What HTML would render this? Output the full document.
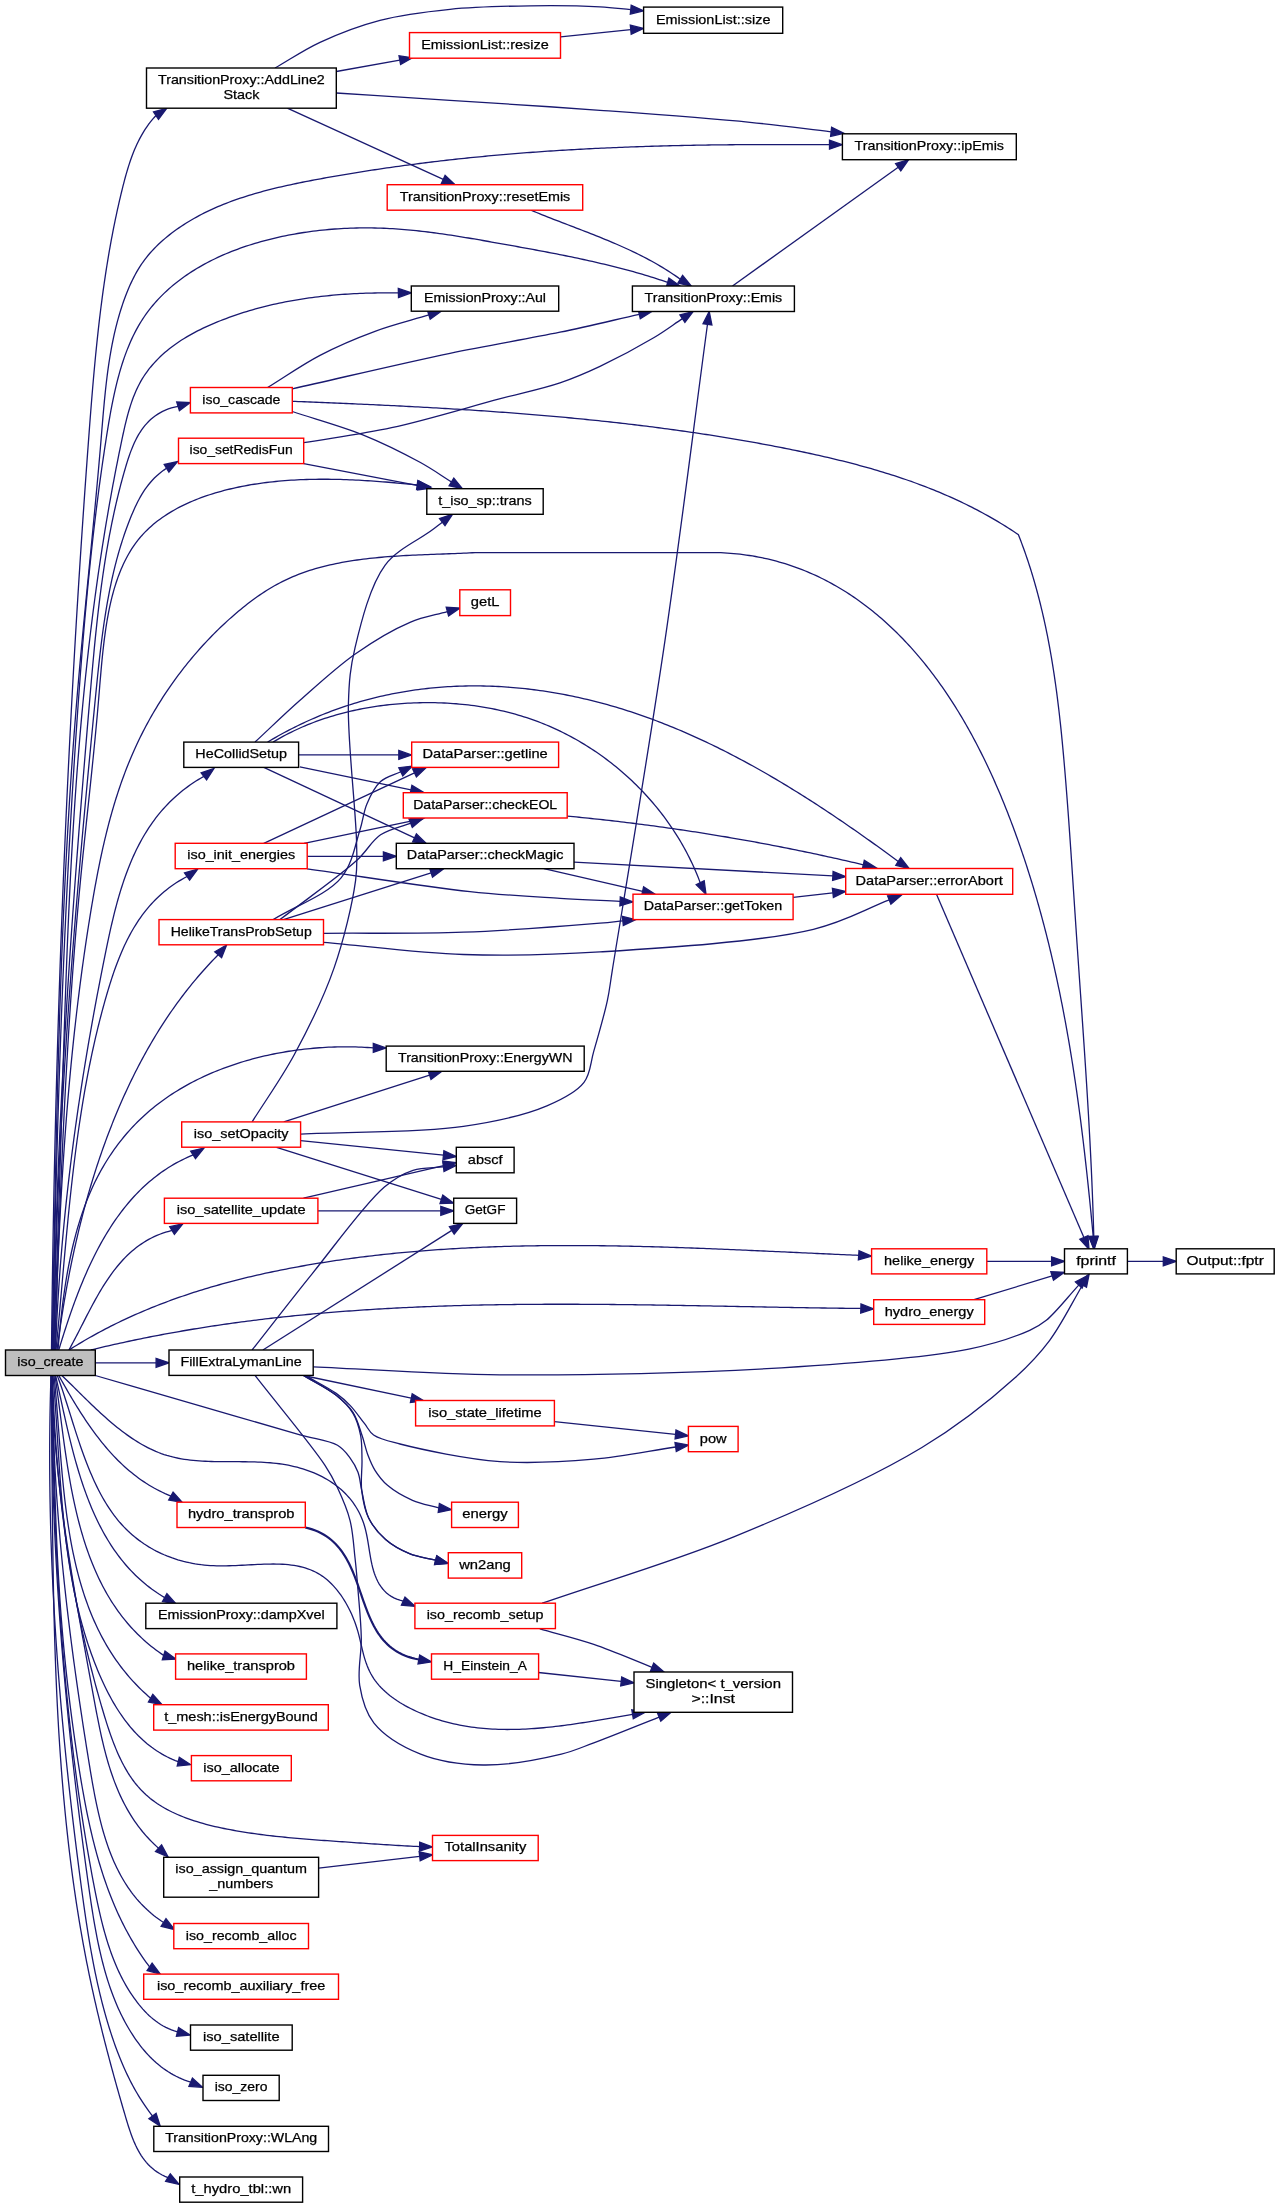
<!DOCTYPE html><html><head><meta charset="utf-8"><style>html,body{margin:0;padding:0;background:#fff;}svg{display:block;will-change:transform;}</style></head><body>
<svg width="1280" height="2208" viewBox="0 0 1280 2208">
<rect width="1280" height="2208" fill="#fff"/>
<g transform="translate(0,0.3)">
<g fill="none" stroke="#191970">
<path d="M51.50,1349.70L51.53,1346.69L51.57,1343.68L51.60,1340.67L51.63,1337.67L51.67,1334.66L51.70,1331.65L51.74,1328.64L51.78,1325.63L51.81,1322.63L51.85,1319.62L51.89,1316.61L51.93,1313.60L51.96,1310.60L52.00,1307.59L52.04,1304.58L52.08,1301.58L52.12,1298.57L52.17,1295.56L52.21,1292.56L52.25,1289.55L52.29,1286.55L52.34,1283.54L52.38,1280.54L52.43,1277.53L52.47,1274.53L52.52,1271.52L52.56,1268.52L52.61,1265.51L52.66,1262.51L52.70,1259.50L52.75,1256.50L52.80,1253.50L52.85,1250.49L52.90,1247.49L52.95,1244.48L53.00,1241.48L53.05,1238.48L53.11,1235.47L53.16,1232.47L53.21,1229.47L53.27,1226.47L53.32,1223.46L53.37,1220.46L53.43,1217.46L53.49,1214.46L53.54,1211.46L53.60,1208.45L53.66,1205.45L53.71,1202.45L53.77,1199.45L53.83,1196.45L53.89,1193.45L53.95,1190.44L54.01,1187.44L54.07,1184.44L54.14,1181.44L54.20,1178.44L54.26,1175.44L54.33,1172.44L54.39,1169.44L54.45,1166.44L54.52,1163.44L54.59,1160.44L54.65,1157.44L54.72,1154.44L54.79,1151.44L54.86,1148.44L54.92,1145.44L54.99,1142.44L55.06,1139.44L55.13,1136.45L55.20,1133.45L55.28,1130.45L55.35,1127.45L55.42,1124.45L55.49,1121.45L55.57,1118.45L55.64,1115.46L55.72,1112.46L55.79,1109.46L55.87,1106.46L55.95,1103.46L56.02,1100.47L56.10,1097.47L56.18,1094.47L56.26,1091.47L56.34,1088.47L56.42,1085.48L56.50,1082.48L56.58,1079.48L56.66,1076.49L56.74,1073.49L56.83,1070.49L56.91,1067.50L56.99,1064.50L57.08,1061.50L57.17,1058.50L57.25,1055.51L57.34,1052.51L57.42,1049.52L57.51,1046.52L57.60,1043.52L57.69,1040.53L57.78,1037.53L57.87,1034.53L57.96,1031.54L58.05,1028.54L58.14,1025.55L58.24,1022.55L58.33,1019.56L58.42,1016.56L58.52,1013.56L58.61,1010.57L58.71,1007.57L58.80,1004.58L58.90,1001.58L59.00,998.59L59.10,995.59L59.19,992.60L59.29,989.60L59.39,986.61L59.49,983.61L59.59,980.62L59.70,977.62L59.80,974.63L59.90,971.63L60.00,968.64L60.11,965.64L60.21,962.65L60.32,959.65L60.42,956.66L60.53,953.66L60.64,950.67L60.75,947.68L60.85,944.68L60.96,941.69L61.07,938.69L61.18,935.70L61.29,932.70L61.40,929.71L61.52,926.71L61.63,923.72L61.74,920.73L61.86,917.73L61.97,914.74L62.09,911.74L62.20,908.75L62.32,905.76L62.44,902.76L62.55,899.77L62.67,896.77L62.79,893.78L62.91,890.79L63.03,887.79L63.15,884.80L63.27,881.80L63.39,878.81L63.52,875.82L63.64,872.82L63.76,869.83L63.89,866.84L64.01,863.84L64.14,860.85L64.27,857.85L64.39,854.86L64.52,851.87L64.65,848.87L64.78,845.88L64.91,842.88L65.04,839.89L65.17,836.90L65.30,833.90L65.44,830.91L65.57,827.92L65.70,824.92L65.84,821.93L65.97,818.93L66.11,815.94L66.24,812.95L66.38,809.95L66.52,806.96L66.66,803.97L66.79,800.97L66.93,797.98L67.07,794.98L67.22,791.99L67.36,789.00L67.50,786.00L67.64,783.01L67.79,780.01L67.93,777.02L68.07,774.03L68.22,771.03L68.37,768.04L68.51,765.04L68.66,762.05L68.81,759.05L68.96,756.06L69.11,753.07L69.26,750.07L69.41,747.08L69.56,744.08L69.71,741.09L69.86,738.09L70.02,735.10L70.17,732.11L70.33,729.11L70.48,726.12L70.64,723.12L70.79,720.13L70.95,717.13L71.11,714.14L71.27,711.14L71.43,708.15L71.59,705.15L71.75,702.16L71.91,699.16L72.07,696.17L72.24,693.17L72.40,690.18L72.56,687.18L72.73,684.19L72.90,681.19L73.06,678.20L73.23,675.20L73.40,672.21L73.56,669.21L73.73,666.22L73.90,663.22L74.07,660.22L74.25,657.23L74.42,654.23L74.59,651.24L74.76,648.24L74.94,645.24L75.11,642.25L75.29,639.25L75.46,636.26L75.64,633.26L75.82,630.26L76.00,627.27L76.17,624.27L76.35,621.27L76.53,618.28L76.72,615.28L76.90,612.28L77.08,609.29L77.26,606.29L77.45,603.29L77.63,600.29L77.82,597.30L78.00,594.30L78.19,591.30L78.38,588.30L78.56,585.31L78.75,582.31L78.94,579.31L79.13,576.31L79.32,573.31L79.52,570.32L79.71,567.32L79.90,564.32L80.09,561.32L80.29,558.32L80.48,555.32L80.68,552.33L80.88,549.33L81.07,546.33L81.27,543.33L81.47,540.33L81.67,537.33L81.87,534.33L82.07,531.33L82.27,528.33L82.48,525.33L82.68,522.33L82.88,519.33L83.09,516.33L83.29,513.33L83.50,510.33L83.71,507.33L83.91,504.33L84.12,501.33L84.33,498.33L84.54,495.33L84.75,492.33L84.96,489.33L85.17,486.33L85.39,483.32L85.60,480.32L85.81,477.32L86.03,474.32L86.24,471.32L86.46,468.32L86.68,465.31L86.90,462.31L87.11,459.31L87.33,456.31L87.55,453.30L87.77,450.30L88.00,447.30L88.22,444.29L88.44,441.29L88.67,438.29L88.89,435.28L89.12,432.28L89.34,429.28L89.57,426.27L89.80,423.27L90.03,420.27L90.26,417.26L90.50,414.26L90.73,411.26L90.97,408.25L91.21,405.25L91.45,402.25L91.69,399.24L91.94,396.24L92.19,393.24L92.44,390.24L92.69,387.24L92.95,384.24L93.21,381.24L93.47,378.24L93.74,375.24L94.01,372.24L94.28,369.24L94.56,366.24L94.84,363.25L95.12,360.25L95.41,357.25L95.70,354.26L96.00,351.27L96.30,348.27L96.60,345.28L96.91,342.29L97.23,339.30L97.55,336.31L97.87,333.32L98.20,330.33L98.53,327.35L98.87,324.36L99.22,321.38L99.57,318.40L99.92,315.41L100.28,312.43L100.65,309.45L101.03,306.48L101.41,303.50L101.79,300.52L102.18,297.55L102.58,294.58L102.99,291.61L103.40,288.64L103.82,285.67L104.24,282.70L104.68,279.74L105.12,276.77L105.56,273.81L106.02,270.85L106.48,267.89L106.95,264.94L107.43,261.98L107.91,259.03L108.41,256.08L108.91,253.13L109.42,250.18L109.94,247.23L110.46,244.29L111.00,241.35L111.54,238.41L112.10,235.47L112.66,232.54L113.23,229.60L113.81,226.67L114.40,223.74L115.00,220.82L115.61,217.89L116.23,214.97L116.85,212.05L117.49,209.13L118.14,206.22L118.80,203.31L119.47,200.40L120.15,197.49L120.84,194.58L121.54,191.68L122.25,188.78L122.97,185.88L123.71,182.99L124.47,180.11L125.24,177.23L126.04,174.36L126.85,171.51L127.70,168.67L128.58,165.84L129.48,163.04L130.42,160.25L131.40,157.48L132.42,154.73L133.47,152.01L134.57,149.31L135.72,146.65L136.92,144.01L138.16,141.40L139.46,138.82L140.82,136.28L142.24,133.78L143.71,131.31L145.25,128.88L146.86,126.50L148.53,124.15L150.27,121.86L152.09,119.60L153.99,117.40L155.97,115.26" stroke-width="1.30"/>
<path d="M52.00,1349.70L52.06,1346.71L52.12,1343.72L52.19,1340.72L52.25,1337.73L52.31,1334.74L52.37,1331.74L52.43,1328.75L52.49,1325.75L52.55,1322.76L52.61,1319.76L52.67,1316.77L52.73,1313.77L52.79,1310.78L52.85,1307.78L52.91,1304.78L52.97,1301.79L53.03,1298.79L53.09,1295.79L53.14,1292.79L53.20,1289.80L53.26,1286.80L53.32,1283.80L53.38,1280.80L53.44,1277.80L53.50,1274.80L53.56,1271.80L53.62,1268.80L53.67,1265.80L53.73,1262.80L53.79,1259.80L53.85,1256.80L53.91,1253.80L53.97,1250.80L54.03,1247.80L54.09,1244.80L54.15,1241.79L54.21,1238.79L54.26,1235.79L54.32,1232.79L54.38,1229.79L54.44,1226.78L54.50,1223.78L54.56,1220.78L54.62,1217.77L54.69,1214.77L54.75,1211.77L54.81,1208.76L54.87,1205.76L54.93,1202.75L54.99,1199.75L55.05,1196.74L55.12,1193.74L55.18,1190.73L55.24,1187.73L55.30,1184.72L55.37,1181.72L55.43,1178.71L55.50,1175.71L55.56,1172.70L55.63,1169.70L55.69,1166.69L55.76,1163.68L55.82,1160.68L55.89,1157.67L55.95,1154.66L56.02,1151.66L56.09,1148.65L56.16,1145.64L56.23,1142.64L56.29,1139.63L56.36,1136.62L56.43,1133.62L56.50,1130.61L56.57,1127.60L56.65,1124.59L56.72,1121.59L56.79,1118.58L56.86,1115.57L56.94,1112.56L57.01,1109.56L57.08,1106.55L57.16,1103.54L57.24,1100.53L57.31,1097.53L57.39,1094.52L57.47,1091.51L57.54,1088.50L57.62,1085.49L57.70,1082.49L57.78,1079.48L57.86,1076.47L57.94,1073.46L58.03,1070.45L58.11,1067.45L58.19,1064.44L58.28,1061.43L58.36,1058.42L58.45,1055.41L58.53,1052.41L58.62,1049.40L58.71,1046.39L58.80,1043.38L58.89,1040.37L58.98,1037.37L59.07,1034.36L59.16,1031.35L59.25,1028.34L59.35,1025.33L59.44,1022.33L59.54,1019.32L59.63,1016.31L59.73,1013.30L59.83,1010.30L59.93,1007.29L60.03,1004.28L60.13,1001.27L60.23,998.27L60.33,995.26L60.44,992.25L60.54,989.25L60.65,986.24L60.75,983.23L60.86,980.23L60.97,977.22L61.08,974.21L61.19,971.21L61.30,968.20L61.42,965.19L61.53,962.19L61.64,959.18L61.76,956.18L61.88,953.17L62.00,950.16L62.11,947.16L62.23,944.15L62.36,941.15L62.48,938.14L62.60,935.14L62.73,932.13L62.85,929.13L62.98,926.13L63.11,923.12L63.24,920.12L63.37,917.11L63.50,914.11L63.64,911.11L63.77,908.10L63.91,905.10L64.05,902.10L64.18,899.10L64.32,896.09L64.47,893.09L64.61,890.09L64.75,887.09L64.90,884.09L65.04,881.08L65.19,878.08L65.34,875.08L65.49,872.08L65.64,869.08L65.80,866.08L65.95,863.08L66.11,860.08L66.26,857.08L66.42,854.08L66.58,851.08L66.75,848.08L66.91,845.09L67.07,842.09L67.24,839.09L67.41,836.09L67.58,833.09L67.75,830.10L67.92,827.10L68.10,824.10L68.27,821.11L68.45,818.11L68.63,815.12L68.81,812.12L68.99,809.13L69.17,806.13L69.36,803.14L69.54,800.14L69.73,797.15L69.92,794.16L70.11,791.16L70.31,788.17L70.50,785.18L70.70,782.19L70.90,779.19L71.10,776.20L71.30,773.21L71.50,770.22L71.71,767.23L71.92,764.24L72.12,761.25L72.33,758.26L72.55,755.27L72.76,752.28L72.98,749.29L73.19,746.31L73.41,743.32L73.64,740.33L73.86,737.35L74.08,734.36L74.31,731.37L74.54,728.39L74.77,725.40L75.00,722.42L75.24,719.43L75.47,716.45L75.71,713.47L75.95,710.48L76.19,707.50L76.44,704.52L76.68,701.54L76.93,698.56L77.18,695.58L77.43,692.60L77.69,689.62L77.94,686.64L78.20,683.66L78.46,680.68L78.72,677.70L78.98,674.72L79.25,671.74L79.51,668.76L79.78,665.79L80.05,662.81L80.32,659.83L80.59,656.85L80.86,653.88L81.14,650.90L81.41,647.92L81.69,644.94L81.97,641.97L82.25,638.99L82.53,636.01L82.81,633.03L83.09,630.06L83.37,627.08L83.66,624.10L83.94,621.12L84.23,618.14L84.51,615.16L84.80,612.19L85.09,609.21L85.38,606.23L85.66,603.25L85.95,600.27L86.24,597.29L86.53,594.30L86.83,591.32L87.12,588.34L87.41,585.36L87.70,582.38L87.99,579.39L88.28,576.41L88.58,573.42L88.87,570.44L89.16,567.45L89.45,564.46L89.75,561.48L90.04,558.49L90.33,555.50L90.62,552.51L90.92,549.52L91.21,546.53L91.50,543.54L91.79,540.54L92.08,537.55L92.37,534.56L92.66,531.56L92.95,528.56L93.24,525.57L93.53,522.57L93.81,519.57L94.10,516.57L94.39,513.56L94.67,510.56L94.96,507.56L95.24,504.55L95.52,501.55L95.80,498.54L96.09,495.53L96.36,492.52L96.64,489.51L96.92,486.49L97.20,483.48L97.47,480.46L97.75,477.45L98.02,474.43L98.29,471.41L98.56,468.39L98.83,465.36L99.09,462.34L99.36,459.31L99.62,456.29L99.89,453.26L100.15,450.23L100.40,447.19L100.66,444.16L100.92,441.13L101.17,438.09L101.42,435.05L101.67,432.01L101.92,428.97L102.18,425.93L102.43,422.88L102.69,419.84L102.94,416.80L103.21,413.76L103.47,410.72L103.75,407.68L104.03,404.64L104.31,401.60L104.60,398.57L104.91,395.54L105.22,392.51L105.54,389.48L105.87,386.46L106.21,383.44L106.56,380.42L106.93,377.41L107.31,374.40L107.71,371.40L108.12,368.40L108.54,365.41L108.99,362.42L109.45,359.44L109.92,356.47L110.42,353.50L110.94,350.54L111.47,347.59L112.03,344.64L112.61,341.70L113.21,338.77L113.84,335.85L114.49,332.93L115.16,330.03L115.86,327.13L116.59,324.25L117.34,321.37L118.12,318.50L118.93,315.65L119.77,312.80L120.64,309.97L121.54,307.15L122.47,304.33L123.43,301.53L124.43,298.75L125.46,295.97L126.53,293.21L127.63,290.46L128.77,287.73L129.95,285.02L131.18,282.34L132.45,279.67L133.77,277.04L135.14,274.43L136.56,271.86L138.04,269.32L139.58,266.83L141.18,264.37L142.84,261.95L144.56,259.58L146.35,257.26L148.20,254.98L150.10,252.75L152.06,250.56L154.07,248.41L156.14,246.31L158.25,244.25L160.40,242.23L162.60,240.26L164.83,238.32L167.10,236.43L169.41,234.58L171.75,232.77L174.11,231.00L176.50,229.26L178.92,227.57L181.36,225.92L183.83,224.30L186.32,222.72L188.83,221.18L191.36,219.67L193.92,218.19L196.50,216.76L199.10,215.35L201.72,213.98L204.35,212.64L207.01,211.33L209.69,210.06L212.39,208.81L215.10,207.60L217.83,206.41L220.58,205.26L223.34,204.13L226.12,203.03L228.92,201.95L231.73,200.90L234.55,199.88L237.39,198.88L240.24,197.91L243.11,196.96L245.99,196.03L248.87,195.13L251.78,194.25L254.69,193.39L257.61,192.54L260.54,191.72L263.48,190.92L266.43,190.14L269.39,189.37L272.36,188.63L275.33,187.90L278.31,187.18L281.30,186.48L284.29,185.80L287.29,185.13L290.29,184.47L293.30,183.83L296.31,183.19L299.33,182.57L302.34,181.96L305.36,181.37L308.39,180.78L311.41,180.20L314.43,179.62L317.46,179.06L320.48,178.50L323.51,177.95L326.53,177.41L329.55,176.87L332.57,176.34L335.59,175.81L338.61,175.29L341.62,174.77L344.64,174.26L347.65,173.76L350.67,173.26L353.68,172.76L356.69,172.27L359.70,171.79L362.70,171.31L365.71,170.84L368.72,170.37L371.72,169.91L374.73,169.45L377.73,169.00L380.73,168.55L383.73,168.11L386.73,167.67L389.73,167.24L392.73,166.81L395.72,166.39L398.72,165.98L401.71,165.56L404.71,165.16L407.70,164.76L410.69,164.36L413.68,163.97L416.67,163.58L419.66,163.20L422.65,162.82L425.64,162.45L428.63,162.08L431.62,161.71L434.60,161.35L437.59,161.00L440.57,160.65L443.56,160.31L446.54,159.97L449.52,159.63L452.50,159.30L455.49,158.97L458.47,158.65L461.45,158.33L464.43,158.02L467.41,157.71L470.39,157.40L473.36,157.10L476.34,156.81L479.32,156.51L482.30,156.23L485.27,155.94L488.25,155.66L491.22,155.39L494.20,155.12L497.18,154.85L500.15,154.59L503.13,154.33L506.10,154.07L509.07,153.82L512.05,153.58L515.02,153.33L517.99,153.09L520.97,152.86L523.94,152.63L526.91,152.40L529.89,152.18L532.86,151.96L535.83,151.74L538.80,151.53L541.78,151.32L544.75,151.11L547.72,150.91L550.69,150.71L553.66,150.52L556.64,150.33L559.61,150.14L562.58,149.96L565.55,149.78L568.53,149.60L571.50,149.43L574.47,149.26L577.44,149.09L580.42,148.93L583.39,148.77L586.36,148.61L589.34,148.46L592.31,148.31L595.29,148.16L598.26,148.02L601.23,147.88L604.21,147.74L607.18,147.61L610.16,147.48L613.14,147.35L616.11,147.23L619.09,147.10L622.07,146.99L625.04,146.87L628.02,146.76L631.00,146.65L633.98,146.54L636.96,146.43L639.94,146.33L642.92,146.23L645.90,146.14L648.88,146.04L651.86,145.95L654.85,145.87L657.83,145.78L660.81,145.70L663.80,145.62L666.79,145.54L669.77,145.46L672.76,145.39L675.75,145.32L678.73,145.25L681.72,145.19L684.71,145.13L687.70,145.07L690.70,145.01L693.69,144.95L696.68,144.90L699.67,144.85L702.67,144.80L705.67,144.75L708.66,144.71L711.66,144.67L714.66,144.63L717.66,144.59L720.66,144.55L723.66,144.52L726.66,144.49L729.67,144.46L732.67,144.43L735.68,144.40L738.69,144.38L741.69,144.36L744.70,144.34L747.71,144.32L750.73,144.30L753.74,144.29L756.75,144.27L759.77,144.26L762.78,144.25L765.80,144.24L768.82,144.24L771.84,144.23L774.86,144.23L777.89,144.23L780.91,144.23L783.94,144.23L786.96,144.23L789.99,144.24L793.02,144.24L796.05,144.25L799.09,144.26L802.12,144.27L805.16,144.28L808.19,144.29L811.23,144.31L814.27,144.32L817.32,144.34L820.36,144.36L823.41,144.38L826.45,144.40L829.50,144.42" stroke-width="1.30"/>
<path d="M52.50,1349.70L52.55,1346.71L52.61,1343.72L52.66,1340.73L52.72,1337.74L52.77,1334.75L52.83,1331.76L52.88,1328.77L52.94,1325.78L52.99,1322.79L53.05,1319.80L53.11,1316.80L53.17,1313.81L53.22,1310.82L53.28,1307.82L53.34,1304.83L53.40,1301.83L53.46,1298.84L53.52,1295.85L53.58,1292.85L53.64,1289.85L53.70,1286.86L53.77,1283.86L53.83,1280.87L53.89,1277.87L53.95,1274.87L54.02,1271.88L54.08,1268.88L54.15,1265.88L54.21,1262.88L54.28,1259.88L54.34,1256.88L54.41,1253.89L54.48,1250.89L54.54,1247.89L54.61,1244.89L54.68,1241.89L54.75,1238.89L54.82,1235.89L54.89,1232.89L54.96,1229.88L55.03,1226.88L55.10,1223.88L55.17,1220.88L55.24,1217.88L55.32,1214.88L55.39,1211.87L55.46,1208.87L55.54,1205.87L55.61,1202.87L55.69,1199.86L55.76,1196.86L55.84,1193.86L55.92,1190.85L55.99,1187.85L56.07,1184.85L56.15,1181.84L56.23,1178.84L56.31,1175.83L56.39,1172.83L56.47,1169.82L56.55,1166.82L56.64,1163.81L56.72,1160.81L56.80,1157.80L56.88,1154.80L56.97,1151.79L57.05,1148.79L57.14,1145.78L57.23,1142.77L57.31,1139.77L57.40,1136.76L57.49,1133.76L57.58,1130.75L57.67,1127.74L57.76,1124.74L57.85,1121.73L57.94,1118.72L58.03,1115.72L58.12,1112.71L58.22,1109.70L58.31,1106.70L58.40,1103.69L58.50,1100.68L58.59,1097.68L58.69,1094.67L58.79,1091.66L58.88,1088.65L58.98,1085.65L59.08,1082.64L59.18,1079.63L59.28,1076.63L59.38,1073.62L59.48,1070.61L59.59,1067.60L59.69,1064.60L59.79,1061.59L59.90,1058.58L60.00,1055.57L60.11,1052.57L60.22,1049.56L60.32,1046.55L60.43,1043.55L60.54,1040.54L60.65,1037.53L60.76,1034.52L60.87,1031.52L60.98,1028.51L61.09,1025.50L61.21,1022.50L61.32,1019.49L61.44,1016.48L61.55,1013.48L61.67,1010.47L61.78,1007.46L61.90,1004.46L62.02,1001.45L62.14,998.44L62.26,995.44L62.38,992.43L62.50,989.43L62.62,986.42L62.75,983.41L62.87,980.41L62.99,977.40L63.12,974.40L63.25,971.39L63.37,968.39L63.50,965.38L63.63,962.38L63.76,959.37L63.89,956.37L64.02,953.36L64.15,950.36L64.28,947.35L64.42,944.35L64.55,941.35L64.69,938.34L64.82,935.34L64.96,932.34L65.10,929.33L65.24,926.33L65.38,923.33L65.52,920.33L65.66,917.32L65.80,914.32L65.94,911.32L66.09,908.32L66.23,905.32L66.38,902.31L66.52,899.31L66.67,896.31L66.82,893.31L66.97,890.31L67.12,887.31L67.27,884.31L67.42,881.31L67.57,878.31L67.73,875.31L67.88,872.32L68.04,869.32L68.19,866.32L68.35,863.32L68.51,860.32L68.67,857.33L68.83,854.33L68.99,851.33L69.15,848.34L69.31,845.34L69.48,842.34L69.64,839.35L69.81,836.35L69.97,833.36L70.14,830.36L70.31,827.37L70.48,824.38L70.65,821.38L70.82,818.39L70.99,815.40L71.17,812.40L71.34,809.41L71.52,806.42L71.69,803.43L71.87,800.44L72.05,797.45L72.23,794.46L72.41,791.47L72.59,788.48L72.77,785.49L72.96,782.50L73.14,779.51L73.33,776.52L73.51,773.53L73.70,770.55L73.89,767.56L74.08,764.57L74.27,761.59L74.46,758.60L74.65,755.62L74.85,752.63L75.04,749.65L75.24,746.67L75.44,743.68L75.63,740.70L75.83,737.72L76.03,734.73L76.23,731.75L76.44,728.77L76.64,725.79L76.84,722.81L77.05,719.83L77.26,716.85L77.47,713.87L77.67,710.90L77.88,707.92L78.10,704.94L78.31,701.96L78.52,698.99L78.74,696.01L78.95,693.04L79.17,690.06L79.39,687.09L79.61,684.11L79.83,681.14L80.05,678.17L80.27,675.19L80.50,672.22L80.72,669.25L80.95,666.28L81.18,663.30L81.41,660.33L81.65,657.36L81.88,654.39L82.12,651.42L82.36,648.44L82.60,645.47L82.84,642.50L83.09,639.53L83.33,636.55L83.58,633.58L83.83,630.61L84.08,627.63L84.34,624.66L84.60,621.68L84.85,618.71L85.12,615.73L85.38,612.76L85.65,609.78L85.92,606.81L86.19,603.83L86.46,600.85L86.74,597.87L87.02,594.89L87.30,591.91L87.58,588.93L87.87,585.95L88.16,582.97L88.45,579.99L88.75,577.00L89.05,574.02L89.35,571.03L89.65,568.05L89.96,565.06L90.27,562.07L90.59,559.08L90.90,556.09L91.22,553.10L91.55,550.10L91.87,547.11L92.20,544.11L92.54,541.12L92.87,538.12L93.21,535.12L93.56,532.12L93.91,529.11L94.26,526.11L94.61,523.10L94.97,520.10L95.33,517.09L95.70,514.08L96.07,511.07L96.44,508.05L96.82,505.04L97.20,502.02L97.59,499.00L97.98,495.98L98.37,492.96L98.77,489.94L99.17,486.91L99.58,483.88L99.99,480.85L100.40,477.82L100.82,474.79L101.25,471.75L101.68,468.71L102.11,465.67L102.55,462.63L102.99,459.58L103.43,456.54L103.89,453.49L104.34,450.44L104.80,447.38L105.27,444.33L105.74,441.27L106.21,438.21L106.69,435.14L107.18,432.08L107.67,429.01L108.18,425.95L108.69,422.88L109.21,419.82L109.74,416.76L110.28,413.71L110.84,410.66L111.41,407.62L111.99,404.58L112.60,401.55L113.21,398.53L113.85,395.52L114.50,392.51L115.18,389.52L115.87,386.54L116.59,383.58L117.33,380.63L118.09,377.69L118.88,374.77L119.69,371.86L120.53,368.97L121.40,366.10L122.29,363.25L123.22,360.42L124.17,357.61L125.16,354.82L126.18,352.05L127.23,349.31L128.32,346.59L129.44,343.90L130.60,341.23L131.79,338.59L133.03,335.98L134.30,333.40L135.61,330.85L136.97,328.32L138.36,325.83L139.80,323.37L141.29,320.95L142.81,318.56L144.39,316.20L146.01,313.88L147.67,311.59L149.38,309.34L151.13,307.12L152.93,304.94L154.76,302.79L156.64,300.68L158.56,298.60L160.52,296.55L162.52,294.54L164.55,292.56L166.63,290.61L168.74,288.70L170.89,286.82L173.07,284.97L175.29,283.16L177.55,281.37L179.83,279.62L182.16,277.91L184.51,276.22L186.90,274.57L189.31,272.94L191.76,271.35L194.24,269.79L196.74,268.26L199.28,266.77L201.84,265.30L204.43,263.86L207.05,262.46L209.69,261.08L212.36,259.74L215.05,258.43L217.76,257.14L220.50,255.89L223.26,254.66L226.04,253.47L228.85,252.30L231.67,251.16L234.51,250.06L237.38,248.98L240.26,247.93L243.15,246.90L246.07,245.91L249.00,244.95L251.95,244.01L254.91,243.10L257.88,242.22L260.87,241.36L263.88,240.54L266.89,239.74L269.92,238.96L272.95,238.22L276.00,237.50L279.05,236.81L282.12,236.14L285.19,235.50L288.27,234.89L291.36,234.30L294.45,233.74L297.55,233.21L300.65,232.69L303.76,232.21L306.87,231.75L309.98,231.32L313.10,230.91L316.21,230.52L319.33,230.16L322.45,229.82L325.56,229.51L328.68,229.22L331.79,228.96L334.90,228.72L338.01,228.50L341.11,228.31L344.20,228.14L347.30,228.00L350.38,227.87L353.46,227.77L356.53,227.69L359.59,227.64L362.65,227.60L365.69,227.59L368.73,227.60L371.75,227.64L374.77,227.69L377.77,227.76L380.77,227.86L383.76,227.97L386.75,228.10L389.72,228.25L392.69,228.42L395.65,228.61L398.61,228.81L401.55,229.03L404.50,229.27L407.43,229.52L410.37,229.79L413.29,230.07L416.22,230.37L419.13,230.69L422.05,231.01L424.96,231.35L427.87,231.70L430.77,232.07L433.67,232.44L436.57,232.83L439.47,233.23L442.36,233.64L445.26,234.05L448.15,234.48L451.04,234.92L453.93,235.36L456.83,235.82L459.72,236.28L462.61,236.75L465.50,237.22L468.40,237.70L471.29,238.19L474.19,238.68L477.09,239.18L479.99,239.68L482.90,240.19L485.81,240.70L488.72,241.21L491.63,241.73L494.55,242.25L497.48,242.77L500.40,243.29L503.34,243.81L506.27,244.33L509.22,244.86L512.16,245.39L515.11,245.92L518.06,246.45L521.02,246.98L523.98,247.52L526.94,248.06L529.91,248.60L532.87,249.15L535.84,249.70L538.81,250.25L541.78,250.81L544.76,251.37L547.73,251.94L550.71,252.51L553.68,253.09L556.66,253.67L559.64,254.26L562.61,254.85L565.59,255.45L568.56,256.06L571.54,256.67L574.51,257.29L577.48,257.92L580.45,258.55L583.42,259.19L586.39,259.84L589.35,260.50L592.31,261.16L595.27,261.84L598.23,262.52L601.18,263.21L604.13,263.91L607.08,264.61L610.02,265.33L612.95,266.06L615.89,266.80L618.81,267.55L621.74,268.30L624.66,269.07L627.57,269.85L630.47,270.64L633.37,271.44L636.27,272.26L639.16,273.08L642.04,273.92L644.91,274.77L647.78,275.63L650.64,276.51L653.49,277.39L656.34,278.30L659.17,279.21L662.00,280.14L664.82,281.08L667.63,282.04" stroke-width="1.30"/>
<path d="M53.00,1349.70L53.15,1346.71L53.30,1343.72L53.45,1340.73L53.60,1337.74L53.74,1334.75L53.89,1331.76L54.03,1328.77L54.17,1325.78L54.31,1322.79L54.45,1319.80L54.59,1316.81L54.73,1313.81L54.86,1310.82L54.99,1307.83L55.13,1304.84L55.26,1301.84L55.39,1298.85L55.51,1295.85L55.64,1292.86L55.77,1289.87L55.89,1286.87L56.01,1283.88L56.13,1280.88L56.26,1277.89L56.37,1274.89L56.49,1271.89L56.61,1268.90L56.73,1265.90L56.84,1262.90L56.96,1259.91L57.07,1256.91L57.18,1253.91L57.29,1250.91L57.40,1247.91L57.51,1244.92L57.62,1241.92L57.73,1238.92L57.84,1235.92L57.94,1232.92L58.05,1229.92L58.15,1226.92L58.25,1223.92L58.36,1220.92L58.46,1217.92L58.56,1214.92L58.66,1211.92L58.76,1208.92L58.86,1205.92L58.96,1202.92L59.06,1199.91L59.15,1196.91L59.25,1193.91L59.35,1190.91L59.44,1187.91L59.54,1184.90L59.63,1181.90L59.73,1178.90L59.82,1175.89L59.91,1172.89L60.01,1169.89L60.10,1166.88L60.19,1163.88L60.28,1160.88L60.38,1157.87L60.47,1154.87L60.56,1151.87L60.65,1148.86L60.74,1145.86L60.83,1142.85L60.92,1139.85L61.01,1136.84L61.10,1133.84L61.19,1130.83L61.28,1127.83L61.37,1124.82L61.46,1121.82L61.55,1118.81L61.64,1115.80L61.73,1112.80L61.82,1109.79L61.91,1106.79L61.99,1103.78L62.08,1100.78L62.17,1097.77L62.26,1094.76L62.35,1091.76L62.44,1088.75L62.53,1085.74L62.62,1082.74L62.71,1079.73L62.81,1076.72L62.90,1073.72L62.99,1070.71L63.08,1067.70L63.17,1064.70L63.26,1061.69L63.36,1058.68L63.45,1055.67L63.54,1052.67L63.64,1049.66L63.73,1046.65L63.83,1043.65L63.92,1040.64L64.02,1037.63L64.12,1034.62L64.21,1031.62L64.31,1028.61L64.41,1025.60L64.51,1022.59L64.61,1019.59L64.71,1016.58L64.81,1013.57L64.91,1010.57L65.01,1007.56L65.12,1004.55L65.22,1001.54L65.32,998.54L65.43,995.53L65.54,992.52L65.64,989.51L65.75,986.51L65.86,983.50L65.97,980.49L66.08,977.49L66.19,974.48L66.30,971.47L66.42,968.46L66.53,965.46L66.65,962.45L66.76,959.44L66.88,956.44L67.00,953.43L67.12,950.42L67.24,947.42L67.36,944.41L67.49,941.40L67.61,938.40L67.74,935.39L67.87,932.39L67.99,929.38L68.12,926.37L68.25,923.37L68.39,920.36L68.52,917.36L68.66,914.35L68.79,911.34L68.93,908.34L69.07,905.33L69.21,902.33L69.35,899.32L69.50,896.32L69.64,893.31L69.79,890.31L69.94,887.30L70.09,884.30L70.24,881.30L70.39,878.29L70.55,875.29L70.70,872.28L70.86,869.28L71.02,866.28L71.18,863.27L71.35,860.27L71.51,857.27L71.68,854.26L71.85,851.26L72.02,848.26L72.19,845.26L72.36,842.25L72.54,839.25L72.72,836.25L72.90,833.25L73.08,830.25L73.26,827.25L73.45,824.24L73.64,821.24L73.83,818.24L74.02,815.24L74.21,812.24L74.41,809.24L74.61,806.24L74.81,803.24L75.01,800.24L75.22,797.24L75.42,794.24L75.63,791.25L75.84,788.25L76.06,785.25L76.27,782.25L76.49,779.25L76.71,776.26L76.94,773.26L77.16,770.26L77.39,767.26L77.62,764.27L77.85,761.27L78.09,758.28L78.33,755.28L78.57,752.28L78.81,749.29L79.05,746.29L79.30,743.30L79.55,740.30L79.80,737.31L80.06,734.32L80.32,731.32L80.58,728.33L80.84,725.34L81.11,722.34L81.38,719.35L81.65,716.36L81.92,713.37L82.20,710.38L82.48,707.39L82.76,704.39L83.05,701.40L83.34,698.41L83.63,695.42L83.92,692.43L84.22,689.45L84.52,686.46L84.83,683.47L85.13,680.48L85.44,677.49L85.75,674.50L86.07,671.52L86.39,668.53L86.71,665.54L87.03,662.56L87.36,659.57L87.69,656.59L88.03,653.60L88.36,650.62L88.70,647.63L89.05,644.65L89.40,641.67L89.75,638.68L90.10,635.70L90.46,632.72L90.82,629.74L91.18,626.75L91.55,623.77L91.92,620.79L92.29,617.81L92.67,614.83L93.05,611.85L93.44,608.87L93.83,605.90L94.22,602.92L94.61,599.94L95.01,596.96L95.41,593.99L95.82,591.01L96.23,588.03L96.64,585.06L97.06,582.08L97.48,579.11L97.90,576.13L98.33,573.16L98.76,570.19L99.20,567.21L99.64,564.24L100.08,561.27L100.53,558.30L100.98,555.33L101.44,552.36L101.90,549.39L102.36,546.42L102.82,543.45L103.30,540.48L103.77,537.51L104.25,534.54L104.73,531.58L105.22,528.61L105.71,525.64L106.21,522.68L106.70,519.71L107.21,516.75L107.72,513.78L108.23,510.82L108.74,507.86L109.26,504.89L109.79,501.93L110.32,498.97L110.85,496.01L111.39,493.05L111.93,490.09L112.47,487.13L113.02,484.17L113.58,481.21L114.14,478.26L114.70,475.30L115.27,472.34L115.84,469.39L116.42,466.43L117.00,463.48L117.59,460.52L118.18,457.57L118.77,454.61L119.37,451.66L119.98,448.71L120.59,445.76L121.20,442.81L121.82,439.86L122.44,436.91L123.07,433.96L123.72,431.02L124.37,428.08L125.05,425.16L125.74,422.24L126.46,419.34L127.21,416.45L127.98,413.58L128.79,410.72L129.64,407.89L130.52,405.08L131.44,402.29L132.42,399.53L133.44,396.80L134.51,394.10L135.63,391.43L136.82,388.80L138.07,386.20L139.38,383.64L140.75,381.12L142.20,378.64L143.72,376.21L145.31,373.82L146.98,371.47L148.70,369.17L150.50,366.91L152.36,364.70L154.28,362.52L156.26,360.39L158.30,358.31L160.40,356.26L162.55,354.26L164.76,352.30L167.02,350.39L169.33,348.52L171.69,346.68L174.10,344.89L176.55,343.15L179.04,341.44L181.58,339.78L184.16,338.15L186.77,336.57L189.42,335.03L192.11,333.53L194.82,332.06L197.56,330.64L200.33,329.25L203.13,327.89L205.95,326.57L208.78,325.28L211.64,324.03L214.51,322.81L217.39,321.62L220.28,320.46L223.18,319.33L226.09,318.22L229.00,317.15L231.92,316.10L234.85,315.08L237.78,314.09L240.71,313.12L243.65,312.19L246.59,311.27L249.54,310.39L252.49,309.53L255.45,308.69L258.40,307.88L261.37,307.09L264.33,306.33L267.30,305.60L270.27,304.88L273.25,304.19L276.23,303.53L279.21,302.88L282.19,302.26L285.17,301.66L288.16,301.09L291.15,300.53L294.14,300.00L297.13,299.49L300.12,299.00L303.12,298.53L306.11,298.08L309.11,297.65L312.10,297.24L315.10,296.85L318.10,296.48L321.09,296.13L324.09,295.80L327.08,295.48L330.08,295.19L333.07,294.91L336.07,294.64L339.06,294.40L342.05,294.17L345.04,293.96L348.03,293.77L351.01,293.59L354.00,293.42L356.98,293.28L359.96,293.14L362.94,293.03L365.91,292.92L368.88,292.83L371.85,292.76L374.82,292.70L377.78,292.65L380.74,292.61L383.69,292.59L386.64,292.58L389.59,292.58L392.53,292.60L395.47,292.62L398.40,292.66" stroke-width="1.30"/>
<path d="M53.50,1349.70L53.53,1346.68L53.57,1343.66L53.61,1340.64L53.65,1337.62L53.69,1334.61L53.73,1331.59L53.77,1328.57L53.82,1325.55L53.86,1322.54L53.91,1319.52L53.96,1316.51L54.01,1313.49L54.06,1310.48L54.12,1307.47L54.17,1304.45L54.23,1301.44L54.29,1298.43L54.35,1295.41L54.41,1292.40L54.48,1289.39L54.54,1286.38L54.61,1283.37L54.68,1280.36L54.75,1277.35L54.82,1274.34L54.89,1271.33L54.97,1268.32L55.04,1265.32L55.12,1262.31L55.20,1259.30L55.28,1256.29L55.36,1253.29L55.45,1250.28L55.53,1247.27L55.62,1244.27L55.70,1241.26L55.79,1238.26L55.88,1235.25L55.98,1232.25L56.07,1229.25L56.16,1226.24L56.26,1223.24L56.36,1220.24L56.46,1217.23L56.56,1214.23L56.66,1211.23L56.76,1208.23L56.87,1205.23L56.97,1202.23L57.08,1199.23L57.19,1196.22L57.30,1193.22L57.41,1190.22L57.52,1187.23L57.64,1184.23L57.75,1181.23L57.87,1178.23L57.99,1175.23L58.11,1172.23L58.23,1169.23L58.35,1166.24L58.48,1163.24L58.60,1160.24L58.73,1157.24L58.85,1154.25L58.98,1151.25L59.11,1148.25L59.24,1145.26L59.38,1142.26L59.51,1139.27L59.64,1136.27L59.78,1133.28L59.92,1130.28L60.06,1127.29L60.20,1124.29L60.34,1121.30L60.48,1118.30L60.62,1115.31L60.77,1112.31L60.91,1109.32L61.06,1106.33L61.21,1103.33L61.36,1100.34L61.51,1097.35L61.66,1094.35L61.82,1091.36L61.97,1088.37L62.12,1085.38L62.28,1082.38L62.44,1079.39L62.60,1076.40L62.76,1073.41L62.92,1070.41L63.08,1067.42L63.24,1064.43L63.41,1061.44L63.57,1058.45L63.74,1055.46L63.91,1052.47L64.08,1049.47L64.25,1046.48L64.42,1043.49L64.59,1040.50L64.76,1037.51L64.94,1034.52L65.11,1031.53L65.29,1028.54L65.47,1025.55L65.64,1022.56L65.82,1019.57L66.00,1016.58L66.18,1013.59L66.37,1010.60L66.55,1007.60L66.73,1004.61L66.92,1001.62L67.11,998.63L67.29,995.64L67.48,992.65L67.67,989.66L67.86,986.67L68.05,983.68L68.24,980.69L68.44,977.70L68.63,974.71L68.83,971.72L69.02,968.73L69.22,965.74L69.42,962.75L69.62,959.76L69.82,956.77L70.02,953.78L70.22,950.79L70.42,947.80L70.62,944.81L70.83,941.82L71.03,938.83L71.24,935.84L71.44,932.85L71.65,929.86L71.86,926.86L72.07,923.87L72.28,920.88L72.49,917.89L72.70,914.90L72.91,911.91L73.13,908.92L73.34,905.93L73.56,902.93L73.77,899.94L73.99,896.95L74.21,893.96L74.43,890.97L74.64,887.97L74.86,884.98L75.08,881.99L75.31,879.00L75.53,876.00L75.75,873.01L75.97,870.02L76.20,867.02L76.42,864.03L76.65,861.04L76.87,858.04L77.10,855.05L77.33,852.06L77.56,849.06L77.79,846.07L78.02,843.07L78.25,840.08L78.48,837.08L78.71,834.09L78.94,831.09L79.18,828.10L79.41,825.10L79.65,822.10L79.88,819.11L80.12,816.11L80.35,813.11L80.59,810.12L80.83,807.12L81.07,804.12L81.31,801.12L81.55,798.13L81.79,795.13L82.03,792.13L82.27,789.13L82.51,786.13L82.75,783.13L83.00,780.13L83.24,777.13L83.48,774.13L83.73,771.13L83.97,768.13L84.22,765.13L84.47,762.13L84.71,759.13L84.96,756.13L85.21,753.13L85.46,750.12L85.71,747.12L85.96,744.12L86.21,741.11L86.46,738.11L86.71,735.11L86.96,732.10L87.21,729.10L87.46,726.09L87.72,723.09L87.97,720.08L88.22,717.07L88.48,714.07L88.73,711.06L88.99,708.05L89.24,705.05L89.50,702.04L89.75,699.03L90.01,696.02L90.27,693.01L90.53,690.00L90.79,686.99L91.05,683.98L91.31,680.97L91.57,677.96L91.84,674.95L92.11,671.94L92.37,668.93L92.65,665.92L92.92,662.91L93.20,659.91L93.48,656.90L93.76,653.89L94.04,650.88L94.33,647.87L94.62,644.86L94.92,641.86L95.22,638.85L95.52,635.85L95.83,632.84L96.15,629.84L96.46,626.83L96.79,623.83L97.11,620.83L97.45,617.83L97.78,614.83L98.13,611.83L98.48,608.84L98.83,605.84L99.19,602.85L99.56,599.85L99.93,596.86L100.31,593.87L100.70,590.88L101.09,587.89L101.49,584.90L101.90,581.92L102.32,578.94L102.74,575.96L103.17,572.98L103.61,570.00L104.06,567.02L104.52,564.05L104.98,561.08L105.46,558.10L105.94,555.14L106.43,552.17L106.93,549.21L107.44,546.24L107.96,543.28L108.49,540.33L109.03,537.37L109.58,534.42L110.15,531.47L110.72,528.52L111.30,525.58L111.89,522.64L112.50,519.70L113.11,516.76L113.74,513.82L114.38,510.89L115.03,507.96L115.69,505.04L116.37,502.12L117.05,499.20L117.75,496.28L118.47,493.37L119.19,490.46L119.93,487.55L120.68,484.65L121.45,481.74L122.23,478.85L123.02,475.95L123.83,473.06L124.65,470.18L125.49,467.29L126.34,464.42L127.22,461.56L128.13,458.71L129.08,455.89L130.06,453.10L131.08,450.33L132.16,447.60L133.28,444.91L134.47,442.27L135.72,439.67L137.03,437.13L138.42,434.65L139.89,432.23L141.44,429.87L143.08,427.59L144.81,425.39L146.64,423.27L148.57,421.23L150.61,419.29L152.77,417.44L155.04,415.69L157.43,414.05L159.95,412.52L162.61,411.11L165.40,409.82L168.34,408.66L171.43,407.63L174.67,406.73L178.07,405.99" stroke-width="1.30"/>
<path d="M54.00,1349.70L54.03,1346.67L54.06,1343.64L54.10,1340.61L54.14,1337.58L54.17,1334.55L54.22,1331.52L54.26,1328.50L54.30,1325.47L54.35,1322.45L54.40,1319.42L54.45,1316.40L54.50,1313.38L54.55,1310.36L54.61,1307.34L54.67,1304.32L54.72,1301.30L54.79,1298.28L54.85,1295.27L54.91,1292.25L54.98,1289.24L55.05,1286.22L55.12,1283.21L55.19,1280.20L55.27,1277.18L55.34,1274.17L55.42,1271.16L55.50,1268.15L55.58,1265.15L55.66,1262.14L55.75,1259.13L55.83,1256.12L55.92,1253.12L56.01,1250.11L56.10,1247.11L56.20,1244.10L56.29,1241.10L56.39,1238.10L56.49,1235.10L56.59,1232.10L56.69,1229.09L56.79,1226.09L56.90,1223.10L57.00,1220.10L57.11,1217.10L57.22,1214.10L57.33,1211.10L57.45,1208.11L57.56,1205.11L57.68,1202.12L57.80,1199.12L57.92,1196.13L58.04,1193.13L58.16,1190.14L58.29,1187.15L58.41,1184.16L58.54,1181.16L58.67,1178.17L58.80,1175.18L58.94,1172.19L59.07,1169.20L59.21,1166.21L59.34,1163.22L59.48,1160.24L59.62,1157.25L59.76,1154.26L59.91,1151.27L60.05,1148.29L60.20,1145.30L60.35,1142.31L60.50,1139.33L60.65,1136.34L60.80,1133.36L60.96,1130.37L61.11,1127.39L61.27,1124.41L61.43,1121.42L61.59,1118.44L61.75,1115.46L61.91,1112.47L62.07,1109.49L62.24,1106.51L62.41,1103.53L62.58,1100.55L62.75,1097.56L62.92,1094.58L63.09,1091.60L63.26,1088.62L63.44,1085.64L63.62,1082.66L63.79,1079.68L63.97,1076.70L64.15,1073.72L64.34,1070.74L64.52,1067.76L64.70,1064.78L64.89,1061.80L65.08,1058.83L65.27,1055.85L65.46,1052.87L65.65,1049.89L65.84,1046.91L66.04,1043.93L66.23,1040.95L66.43,1037.98L66.63,1035.00L66.82,1032.02L67.02,1029.04L67.23,1026.06L67.43,1023.08L67.63,1020.11L67.84,1017.13L68.04,1014.15L68.25,1011.17L68.46,1008.19L68.67,1005.22L68.88,1002.24L69.10,999.26L69.31,996.28L69.52,993.30L69.74,990.33L69.96,987.35L70.18,984.37L70.40,981.39L70.62,978.41L70.84,975.43L71.06,972.45L71.28,969.47L71.51,966.49L71.74,963.52L71.96,960.54L72.19,957.56L72.42,954.58L72.65,951.60L72.88,948.62L73.12,945.64L73.35,942.65L73.58,939.67L73.82,936.69L74.06,933.71L74.30,930.73L74.53,927.75L74.77,924.77L75.02,921.78L75.26,918.80L75.50,915.82L75.74,912.83L75.99,909.85L76.24,906.87L76.48,903.88L76.73,900.90L76.98,897.91L77.23,894.93L77.48,891.94L77.73,888.96L77.98,885.97L78.24,882.98L78.49,880.00L78.75,877.01L79.00,874.02L79.26,871.03L79.52,868.04L79.78,865.05L80.04,862.06L80.30,859.07L80.56,856.08L80.82,853.09L81.09,850.10L81.35,847.11L81.62,844.11L81.88,841.12L82.15,838.13L82.42,835.13L82.68,832.14L82.95,829.14L83.22,826.15L83.49,823.15L83.77,820.15L84.04,817.16L84.31,814.16L84.59,811.16L84.86,808.16L85.14,805.16L85.41,802.16L85.69,799.16L85.97,796.16L86.25,793.15L86.52,790.15L86.80,787.15L87.08,784.14L87.37,781.14L87.65,778.13L87.93,775.12L88.21,772.12L88.50,769.11L88.78,766.10L89.07,763.09L89.35,760.08L89.64,757.07L89.93,754.06L90.22,751.04L90.50,748.03L90.79,745.02L91.08,742.00L91.37,738.99L91.66,735.97L91.96,732.95L92.25,729.93L92.54,726.91L92.83,723.89L93.13,720.87L93.42,717.85L93.72,714.83L94.01,711.80L94.31,708.78L94.61,705.75L94.90,702.73L95.20,699.70L95.50,696.67L95.80,693.64L96.10,690.61L96.40,687.58L96.71,684.55L97.01,681.52L97.32,678.49L97.63,675.46L97.95,672.44L98.27,669.41L98.60,666.38L98.93,663.35L99.26,660.33L99.60,657.31L99.95,654.28L100.30,651.27L100.66,648.25L101.03,645.23L101.40,642.22L101.79,639.21L102.18,636.20L102.58,633.20L102.99,630.20L103.41,627.20L103.83,624.21L104.27,621.22L104.73,618.23L105.19,615.25L105.66,612.27L106.15,609.30L106.64,606.33L107.15,603.37L107.68,600.41L108.22,597.46L108.77,594.51L109.33,591.57L109.91,588.64L110.51,585.71L111.12,582.79L111.75,579.87L112.40,576.96L113.06,574.06L113.74,571.17L114.43,568.28L115.15,565.40L115.88,562.53L116.63,559.66L117.40,556.81L118.19,553.96L119.00,551.12L119.83,548.29L120.68,545.47L121.56,542.65L122.45,539.85L123.37,537.05L124.31,534.27L125.27,531.49L126.26,528.73L127.27,525.98L128.30,523.23L129.36,520.50L130.44,517.77L131.55,515.06L132.68,512.36L133.85,509.68L135.05,507.01L136.30,504.37L137.59,501.75L138.94,499.16L140.35,496.61L141.82,494.09L143.36,491.61L144.98,489.18L146.68,486.79L148.47,484.45L150.34,482.17L152.32,479.94L154.39,477.78L156.58,475.68L158.88,473.65L161.29,471.69L163.83,469.80L166.51,468.00" stroke-width="1.30"/>
<path d="M54.50,1349.70L54.61,1346.72L54.72,1343.75L54.83,1340.77L54.94,1337.79L55.05,1334.81L55.16,1331.83L55.27,1328.84L55.38,1325.86L55.49,1322.87L55.60,1319.89L55.71,1316.90L55.82,1313.91L55.93,1310.92L56.04,1307.93L56.15,1304.94L56.27,1301.95L56.38,1298.96L56.49,1295.97L56.60,1292.97L56.71,1289.98L56.82,1286.98L56.93,1283.98L57.05,1280.99L57.16,1277.99L57.27,1274.99L57.38,1271.99L57.50,1268.99L57.61,1265.99L57.72,1262.99L57.84,1259.98L57.95,1256.98L58.07,1253.98L58.18,1250.97L58.30,1247.97L58.42,1244.96L58.53,1241.96L58.65,1238.95L58.77,1235.94L58.89,1232.93L59.00,1229.93L59.12,1226.92L59.24,1223.91L59.36,1220.90L59.48,1217.89L59.61,1214.88L59.73,1211.87L59.85,1208.86L59.97,1205.85L60.10,1202.83L60.22,1199.82L60.35,1196.81L60.47,1193.80L60.60,1190.78L60.73,1187.77L60.85,1184.76L60.98,1181.74L61.11,1178.73L61.24,1175.71L61.37,1172.70L61.51,1169.69L61.64,1166.67L61.77,1163.66L61.91,1160.64L62.04,1157.63L62.18,1154.61L62.32,1151.60L62.45,1148.58L62.59,1145.57L62.73,1142.55L62.87,1139.54L63.01,1136.52L63.16,1133.51L63.30,1130.49L63.45,1127.48L63.59,1124.46L63.74,1121.45L63.89,1118.43L64.04,1115.42L64.19,1112.40L64.34,1109.39L64.49,1106.37L64.64,1103.36L64.80,1100.35L64.95,1097.33L65.11,1094.32L65.27,1091.31L65.43,1088.30L65.59,1085.28L65.75,1082.27L65.92,1079.26L66.08,1076.25L66.25,1073.24L66.41,1070.23L66.58,1067.22L66.75,1064.21L66.92,1061.20L67.10,1058.19L67.27,1055.19L67.45,1052.18L67.62,1049.17L67.80,1046.17L67.98,1043.16L68.16,1040.15L68.34,1037.15L68.53,1034.15L68.71,1031.14L68.90,1028.14L69.09,1025.14L69.28,1022.14L69.47,1019.14L69.67,1016.14L69.86,1013.14L70.06,1010.14L70.26,1007.14L70.46,1004.14L70.66,1001.15L70.86,998.15L71.07,995.16L71.28,992.16L71.48,989.17L71.69,986.18L71.91,983.19L72.12,980.20L72.34,977.21L72.55,974.22L72.77,971.23L72.99,968.25L73.22,965.26L73.44,962.28L73.67,959.29L73.90,956.31L74.13,953.33L74.36,950.35L74.59,947.37L74.83,944.39L75.07,941.42L75.31,938.44L75.55,935.47L75.80,932.49L76.04,929.52L76.29,926.55L76.54,923.58L76.80,920.61L77.05,917.65L77.31,914.68L77.57,911.72L77.83,908.75L78.09,905.79L78.36,902.83L78.62,899.87L78.89,896.91L79.17,893.96L79.44,891.00L79.72,888.05L80.00,885.10L80.28,882.15L80.56,879.20L80.85,876.25L81.13,873.30L81.42,870.36L81.72,867.41L82.01,864.47L82.31,861.53L82.60,858.58L82.90,855.64L83.20,852.70L83.51,849.76L83.81,846.81L84.12,843.87L84.42,840.92L84.73,837.98L85.04,835.03L85.35,832.08L85.66,829.13L85.97,826.18L86.28,823.23L86.59,820.27L86.91,817.32L87.22,814.36L87.54,811.39L87.85,808.43L88.17,805.46L88.48,802.49L88.80,799.51L89.11,796.54L89.43,793.55L89.74,790.57L90.06,787.58L90.37,784.58L90.68,781.59L91.00,778.58L91.31,775.58L91.62,772.56L91.93,769.55L92.24,766.52L92.55,763.49L92.86,760.46L93.17,757.42L93.48,754.37L93.78,751.32L94.08,748.26L94.39,745.20L94.69,742.12L94.99,739.04L95.28,735.96L95.58,732.86L95.87,729.76L96.16,726.65L96.45,723.54L96.74,720.41L97.03,717.28L97.31,714.14L97.59,710.99L97.87,707.83L98.14,704.66L98.42,701.48L98.69,698.30L98.95,695.10L99.22,691.90L99.49,688.69L99.75,685.47L100.02,682.25L100.29,679.02L100.57,675.79L100.85,672.56L101.13,669.33L101.43,666.09L101.73,662.86L102.04,659.63L102.36,656.41L102.69,653.18L103.04,649.97L103.40,646.76L103.77,643.56L104.16,640.36L104.57,637.18L104.99,634.00L105.43,630.84L105.90,627.69L106.38,624.56L106.89,621.44L107.42,618.33L107.98,615.24L108.56,612.17L109.17,609.12L109.80,606.09L110.47,603.08L111.16,600.09L111.89,597.13L112.65,594.19L113.44,591.27L114.26,588.38L115.13,585.52L116.02,582.69L116.96,579.88L117.93,577.11L118.95,574.37L120.00,571.66L121.10,568.98L122.24,566.34L123.43,563.74L124.65,561.17L125.93,558.64L127.25,556.15L128.63,553.70L130.05,551.29L131.52,548.92L133.04,546.59L134.62,544.31L136.25,542.07L137.94,539.88L139.68,537.74L141.48,535.65L143.33,533.60L145.24,531.60L147.20,529.65L149.21,527.74L151.27,525.88L153.38,524.06L155.54,522.29L157.75,520.56L160.00,518.87L162.29,517.23L164.62,515.63L167.00,514.07L169.42,512.55L171.87,511.08L174.36,509.64L176.89,508.24L179.46,506.89L182.05,505.57L184.68,504.29L187.34,503.05L190.03,501.85L192.75,500.69L195.50,499.56L198.27,498.47L201.07,497.41L203.88,496.39L206.73,495.40L209.59,494.45L212.47,493.53L215.37,492.64L218.29,491.79L221.22,490.97L224.17,490.18L227.13,489.43L230.10,488.70L233.09,488.00L236.08,487.34L239.08,486.70L242.09,486.09L245.11,485.51L248.13,484.96L251.17,484.43L254.21,483.94L257.25,483.47L260.31,483.02L263.37,482.60L266.43,482.21L269.50,481.84L272.57,481.50L275.65,481.18L278.73,480.88L281.81,480.61L284.90,480.36L287.99,480.13L291.08,479.92L294.17,479.73L297.26,479.57L300.36,479.42L303.45,479.30L306.55,479.19L309.64,479.10L312.73,479.04L315.83,478.98L318.92,478.95L322.00,478.93L325.09,478.93L328.17,478.95L331.25,478.98L334.32,479.03L337.39,479.09L340.46,479.17L343.52,479.26L346.58,479.36L349.63,479.48L352.67,479.61L355.71,479.75L358.74,479.90L361.76,480.07L364.77,480.24L367.78,480.43L370.77,480.62L373.76,480.82L376.74,481.04L379.71,481.26L382.67,481.49L385.61,481.72L388.55,481.97L391.47,482.22L394.39,482.47L397.29,482.73L400.17,483.00L403.05,483.27L405.91,483.55L408.75,483.83L411.58,484.11L414.40,484.40L417.20,484.69" stroke-width="1.30"/>
<path d="M55.00,1349.70L55.08,1346.70L55.17,1343.70L55.25,1340.71L55.34,1337.71L55.43,1334.71L55.51,1331.71L55.60,1328.71L55.69,1325.71L55.79,1322.71L55.88,1319.71L55.98,1316.70L56.07,1313.70L56.17,1310.70L56.27,1307.70L56.37,1304.70L56.47,1301.69L56.58,1298.69L56.68,1295.69L56.79,1292.68L56.90,1289.68L57.01,1286.68L57.12,1283.67L57.23,1280.67L57.34,1277.66L57.46,1274.66L57.58,1271.66L57.70,1268.65L57.82,1265.65L57.94,1262.64L58.07,1259.63L58.19,1256.63L58.32,1253.62L58.45,1250.62L58.59,1247.61L58.72,1244.61L58.86,1241.60L58.99,1238.59L59.13,1235.59L59.28,1232.58L59.42,1229.57L59.57,1226.57L59.71,1223.56L59.86,1220.55L60.02,1217.55L60.17,1214.54L60.33,1211.53L60.48,1208.53L60.64,1205.52L60.81,1202.51L60.97,1199.51L61.14,1196.50L61.31,1193.49L61.48,1190.49L61.66,1187.48L61.83,1184.47L62.01,1181.47L62.19,1178.46L62.38,1175.46L62.56,1172.45L62.75,1169.44L62.94,1166.44L63.14,1163.43L63.33,1160.42L63.53,1157.42L63.73,1154.41L63.94,1151.41L64.14,1148.40L64.35,1145.40L64.56,1142.39L64.78,1139.39L64.99,1136.38L65.21,1133.38L65.44,1130.37L65.66,1127.37L65.89,1124.37L66.12,1121.36L66.35,1118.36L66.59,1115.35L66.83,1112.35L67.07,1109.35L67.32,1106.35L67.57,1103.34L67.82,1100.34L68.07,1097.34L68.33,1094.34L68.59,1091.34L68.85,1088.34L69.12,1085.34L69.39,1082.34L69.66,1079.34L69.94,1076.34L70.22,1073.34L70.50,1070.34L70.79,1067.34L71.07,1064.34L71.37,1061.34L71.66,1058.35L71.96,1055.35L72.26,1052.35L72.57,1049.36L72.88,1046.36L73.19,1043.36L73.50,1040.37L73.82,1037.37L74.15,1034.38L74.47,1031.39L74.80,1028.39L75.14,1025.40L75.47,1022.41L75.81,1019.42L76.16,1016.42L76.50,1013.43L76.85,1010.44L77.21,1007.45L77.57,1004.46L77.93,1001.47L78.30,998.49L78.67,995.50L79.04,992.51L79.42,989.52L79.80,986.54L80.18,983.55L80.57,980.57L80.97,977.58L81.36,974.60L81.76,971.62L82.17,968.63L82.58,965.65L82.99,962.67L83.41,959.69L83.83,956.71L84.25,953.73L84.68,950.75L85.12,947.77L85.55,944.80L85.99,941.82L86.44,938.84L86.89,935.87L87.35,932.89L87.80,929.92L88.27,926.95L88.73,923.97L89.21,921.00L89.68,918.03L90.16,915.06L90.65,912.09L91.14,909.12L91.63,906.16L92.13,903.19L92.63,900.22L93.14,897.26L93.66,894.30L94.18,891.33L94.71,888.37L95.25,885.41L95.79,882.46L96.34,879.50L96.90,876.55L97.46,873.60L98.04,870.65L98.62,867.71L99.21,864.76L99.82,861.82L100.43,858.88L101.05,855.95L101.68,853.02L102.32,850.09L102.98,847.16L103.64,844.24L104.32,841.32L105.01,838.40L105.71,835.49L106.42,832.58L107.15,829.68L107.88,826.78L108.64,823.88L109.40,820.99L110.18,818.10L110.98,815.21L111.79,812.34L112.61,809.46L113.45,806.59L114.30,803.73L115.18,800.87L116.06,798.01L116.97,795.16L117.89,792.32L118.83,789.48L119.78,786.65L120.75,783.82L121.74,781.00L122.75,778.19L123.78,775.38L124.83,772.57L125.90,769.78L126.98,766.99L128.09,764.20L129.22,761.42L130.36,758.65L131.53,755.89L132.72,753.13L133.93,750.38L135.16,747.64L136.42,744.91L137.69,742.18L138.99,739.46L140.32,736.75L141.66,734.04L143.03,731.35L144.42,728.66L145.83,725.98L147.27,723.31L148.72,720.65L150.20,718.00L151.70,715.36L153.22,712.73L154.76,710.11L156.32,707.50L157.91,704.90L159.51,702.31L161.13,699.74L162.78,697.17L164.44,694.62L166.12,692.08L167.83,689.55L169.55,687.04L171.29,684.54L173.05,682.05L174.83,679.57L176.63,677.11L178.45,674.66L180.28,672.23L182.14,669.81L184.01,667.41L185.90,665.02L187.80,662.65L189.73,660.29L191.67,657.95L193.63,655.63L195.60,653.32L197.59,651.02L199.60,648.75L201.63,646.49L203.67,644.25L205.73,642.03L207.80,639.82L209.89,637.64L211.99,635.47L214.11,633.32L216.25,631.19L218.40,629.08L220.56,626.99L222.74,624.92L224.93,622.87L227.14,620.84L229.36,618.83L231.60,616.84L233.85,614.87L236.11,612.92L238.38,611.00L240.67,609.09L242.98,607.22L245.29,605.36L247.63,603.53L249.98,601.73L252.34,599.96L254.73,598.21L257.13,596.50L259.55,594.82L261.98,593.17L264.44,591.56L266.92,589.98L269.42,588.43L271.94,586.93L274.48,585.46L277.04,584.03L279.63,582.65L282.24,581.30L284.88,580.00L287.54,578.75L290.23,577.53L292.94,576.36L295.67,575.24L298.42,574.15L301.20,573.10L304.00,572.09L306.81,571.12L309.65,570.19L312.50,569.30L315.37,568.44L318.26,567.61L321.17,566.82L324.09,566.07L327.03,565.34L329.98,564.65L332.95,563.99L335.93,563.36L338.92,562.76L341.92,562.18L344.94,561.64L347.96,561.12L350.99,560.62L354.04,560.16L357.09,559.71L360.15,559.29L363.21,558.89L366.28,558.51L369.36,558.16L372.44,557.82L375.53,557.51L378.62,557.21L381.71,556.93L384.80,556.66L387.89,556.41L390.99,556.18L394.08,555.96L397.18,555.75L400.27,555.56L403.36,555.38L406.45,555.21L409.53,555.05L412.61,554.89L415.68,554.75L418.75,554.61L421.81,554.48L424.86,554.36L427.91,554.24L430.95,554.12L433.98,554.01L436.99,553.90L440.00,553.79L443.00,553.68L445.98,553.57L448.95,553.47L451.91,553.35L454.85,553.24L457.78,553.12L460.69,553.00L463.59,552.88L466.47,552.74L469.33,552.60L472.18,552.46L475.00,552.30L478.03,552.30L481.06,552.30L484.09,552.30L487.13,552.30L490.16,552.30L493.19,552.30L496.22,552.30L499.25,552.30L502.28,552.30L505.31,552.30L508.34,552.30L511.38,552.30L514.41,552.30L517.44,552.30L520.47,552.30L523.50,552.30L526.53,552.30L529.56,552.30L532.59,552.30L535.63,552.30L538.66,552.30L541.69,552.30L544.72,552.30L547.75,552.30L550.78,552.30L553.81,552.30L556.84,552.30L559.88,552.30L562.91,552.30L565.94,552.30L568.97,552.30L572.00,552.30L575.03,552.30L578.06,552.30L581.09,552.30L584.13,552.30L587.16,552.30L590.19,552.30L593.22,552.30L596.25,552.30L599.28,552.30L602.31,552.30L605.34,552.30L608.38,552.30L611.41,552.30L614.44,552.30L617.47,552.30L620.50,552.30L623.53,552.30L626.56,552.30L629.59,552.30L632.62,552.30L635.66,552.30L638.69,552.30L641.72,552.30L644.75,552.30L647.78,552.30L650.81,552.30L653.84,552.30L656.88,552.30L659.91,552.30L662.94,552.30L665.97,552.30L669.00,552.30L672.03,552.30L675.06,552.30L678.09,552.30L681.12,552.30L684.16,552.30L687.19,552.30L690.22,552.30L693.25,552.30L696.28,552.30L699.31,552.30L702.34,552.30L705.38,552.30L708.41,552.30L711.44,552.30L714.47,552.30L717.50,552.30L720.77,552.41L724.02,552.57L727.25,552.76L730.47,553.00L733.66,553.27L736.84,553.58L740.00,553.92L743.14,554.31L746.26,554.73L749.36,555.19L752.44,555.68L755.51,556.21L758.55,556.78L761.58,557.38L764.59,558.02L767.58,558.69L770.56,559.39L773.51,560.14L776.45,560.91L779.37,561.72L782.26,562.56L785.15,563.44L788.01,564.34L790.85,565.28L793.68,566.26L796.49,567.26L799.28,568.30L802.06,569.36L804.81,570.46L807.55,571.59L810.27,572.75L812.97,573.94L815.65,575.16L818.32,576.41L820.97,577.69L823.60,578.99L826.21,580.33L828.81,581.69L831.39,583.09L833.95,584.51L836.49,585.95L839.01,587.43L841.52,588.93L844.01,590.46L846.49,592.01L848.94,593.59L851.38,595.19L853.80,596.82L856.21,598.48L858.60,600.16L860.97,601.87L863.32,603.60L865.66,605.35L867.98,607.12L870.28,608.92L872.56,610.75L874.83,612.59L877.08,614.46L879.32,616.35L881.54,618.26L883.74,620.19L885.92,622.15L888.09,624.12L890.24,626.12L892.38,628.13L894.50,630.17L896.60,632.22L898.68,634.30L900.75,636.39L902.80,638.50L904.84,640.63L906.86,642.78L908.86,644.95L910.85,647.13L912.82,649.33L914.78,651.55L916.72,653.78L918.64,656.04L920.55,658.30L922.44,660.59L924.31,662.88L926.17,665.20L928.01,667.53L929.84,669.87L931.65,672.23L933.45,674.60L935.23,676.98L936.99,679.38L938.74,681.79L940.48,684.22L942.19,686.66L943.90,689.11L945.59,691.57L947.26,694.05L948.92,696.54L950.56,699.04L952.19,701.56L953.81,704.08L955.41,706.62L956.99,709.17L958.57,711.73L960.13,714.30L961.67,716.88L963.20,719.47L964.72,722.07L966.22,724.68L967.71,727.31L969.18,729.94L970.65,732.58L972.10,735.23L973.53,737.89L974.95,740.56L976.36,743.24L977.76,745.93L979.15,748.63L980.52,751.33L981.88,754.04L983.22,756.76L984.56,759.49L985.88,762.23L987.19,764.97L988.48,767.72L989.77,770.48L991.04,773.24L992.31,776.01L993.56,778.79L994.80,781.57L996.02,784.36L997.24,787.15L998.44,789.95L999.64,792.76L1000.82,795.57L1001.99,798.39L1003.15,801.21L1004.30,804.03L1005.44,806.86L1006.57,809.70L1007.69,812.54L1008.79,815.38L1009.89,818.22L1010.98,821.07L1012.05,823.93L1013.12,826.78L1014.18,829.64L1015.23,832.50L1016.27,835.37L1017.29,838.23L1018.31,841.10L1019.32,843.97L1020.32,846.84L1021.31,849.72L1022.29,852.59L1023.27,855.47L1024.23,858.35L1025.19,861.24L1026.13,864.12L1027.07,867.01L1028.00,869.89L1028.91,872.78L1029.82,875.68L1030.73,878.57L1031.62,881.46L1032.50,884.36L1033.38,887.26L1034.25,890.16L1035.10,893.06L1035.96,895.97L1036.80,898.87L1037.63,901.78L1038.46,904.69L1039.28,907.60L1040.09,910.51L1040.89,913.42L1041.68,916.34L1042.47,919.26L1043.24,922.17L1044.02,925.09L1044.78,928.02L1045.53,930.94L1046.28,933.86L1047.02,936.79L1047.75,939.72L1048.48,942.64L1049.20,945.57L1049.91,948.50L1050.61,951.44L1051.30,954.37L1051.99,957.31L1052.68,960.24L1053.35,963.18L1054.02,966.12L1054.68,969.06L1055.33,972.00L1055.98,974.94L1056.62,977.88L1057.25,980.83L1057.88,983.77L1058.50,986.72L1059.12,989.67L1059.73,992.62L1060.33,995.57L1060.92,998.52L1061.51,1001.47L1062.09,1004.42L1062.67,1007.38L1063.24,1010.33L1063.81,1013.29L1064.36,1016.24L1064.92,1019.20L1065.46,1022.16L1066.00,1025.12L1066.54,1028.08L1067.07,1031.04L1067.59,1034.00L1068.11,1036.96L1068.62,1039.92L1069.13,1042.89L1069.63,1045.85L1070.13,1048.82L1070.62,1051.78L1071.11,1054.75L1071.59,1057.72L1072.06,1060.68L1072.54,1063.65L1073.00,1066.62L1073.46,1069.59L1073.92,1072.56L1074.37,1075.53L1074.82,1078.50L1075.26,1081.47L1075.70,1084.44L1076.13,1087.42L1076.56,1090.39L1076.98,1093.36L1077.40,1096.33L1077.81,1099.31L1078.23,1102.28L1078.63,1105.26L1079.03,1108.23L1079.43,1111.20L1079.83,1114.18L1080.22,1117.15L1080.60,1120.13L1080.99,1123.11L1081.36,1126.08L1081.74,1129.06L1082.11,1132.03L1082.48,1135.01L1082.84,1137.99L1083.20,1140.96L1083.56,1143.94L1083.91,1146.91L1084.26,1149.89L1084.61,1152.87L1084.95,1155.84L1085.29,1158.82L1085.63,1161.80L1085.96,1164.77L1086.29,1167.75L1086.62,1170.72L1086.95,1173.70L1087.27,1176.68L1087.59,1179.65L1087.90,1182.63L1088.22,1185.60L1088.53,1188.58L1088.84,1191.55L1089.15,1194.52L1089.45,1197.50L1089.75,1200.47L1090.05,1203.44L1090.35,1206.42L1090.64,1209.39L1090.94,1212.36L1091.23,1215.33L1091.51,1218.31L1091.80,1221.28L1092.09,1224.25L1092.37,1227.22L1092.65,1230.19L1092.93,1233.15L1093.20,1236.12" stroke-width="1.30"/>
<path d="M55.50,1349.70L55.61,1346.69L55.73,1343.68L55.86,1340.67L55.98,1337.66L56.12,1334.66L56.25,1331.65L56.39,1328.65L56.54,1325.64L56.69,1322.64L56.84,1319.64L57.00,1316.64L57.16,1313.64L57.33,1310.64L57.50,1307.64L57.68,1304.64L57.86,1301.65L58.04,1298.65L58.23,1295.65L58.42,1292.66L58.62,1289.66L58.82,1286.67L59.03,1283.68L59.24,1280.69L59.45,1277.69L59.67,1274.70L59.89,1271.71L60.11,1268.72L60.34,1265.74L60.58,1262.75L60.82,1259.76L61.06,1256.77L61.31,1253.79L61.56,1250.80L61.81,1247.82L62.07,1244.83L62.33,1241.85L62.60,1238.86L62.87,1235.88L63.15,1232.90L63.42,1229.91L63.71,1226.93L63.99,1223.95L64.29,1220.97L64.58,1217.99L64.88,1215.01L65.18,1212.03L65.49,1209.05L65.80,1206.07L66.11,1203.09L66.43,1200.11L66.75,1197.14L67.08,1194.16L67.41,1191.18L67.74,1188.20L68.08,1185.23L68.42,1182.25L68.77,1179.27L69.12,1176.30L69.47,1173.32L69.83,1170.35L70.19,1167.37L70.55,1164.40L70.92,1161.42L71.29,1158.45L71.67,1155.47L72.05,1152.50L72.43,1149.52L72.82,1146.55L73.21,1143.57L73.60,1140.60L74.00,1137.62L74.40,1134.65L74.81,1131.68L75.22,1128.70L75.63,1125.73L76.05,1122.75L76.47,1119.78L76.89,1116.80L77.32,1113.83L77.75,1110.86L78.18,1107.88L78.62,1104.91L79.06,1101.93L79.51,1098.96L79.96,1095.98L80.41,1093.01L80.86,1090.03L81.32,1087.06L81.79,1084.08L82.25,1081.11L82.72,1078.13L83.19,1075.16L83.67,1072.18L84.15,1069.20L84.63,1066.23L85.12,1063.25L85.61,1060.27L86.11,1057.30L86.60,1054.32L87.10,1051.34L87.61,1048.36L88.11,1045.38L88.63,1042.40L89.14,1039.43L89.66,1036.45L90.18,1033.47L90.70,1030.48L91.23,1027.50L91.76,1024.52L92.29,1021.54L92.83,1018.56L93.37,1015.58L93.91,1012.59L94.46,1009.61L95.01,1006.62L95.56,1003.64L96.12,1000.65L96.68,997.67L97.24,994.68L97.81,991.70L98.38,988.71L98.95,985.72L99.53,982.73L100.10,979.74L100.69,976.75L101.27,973.76L101.86,970.77L102.45,967.78L103.04,964.79L103.64,961.79L104.24,958.80L104.85,955.80L105.45,952.81L106.06,949.81L106.68,946.82L107.30,943.83L107.93,940.84L108.57,937.85L109.21,934.86L109.87,931.88L110.53,928.91L111.21,925.93L111.89,922.97L112.59,920.00L113.31,917.05L114.03,914.10L114.77,911.16L115.53,908.23L116.30,905.31L117.09,902.39L117.89,899.49L118.72,896.59L119.56,893.71L120.43,890.84L121.31,887.98L122.22,885.13L123.15,882.30L124.10,879.48L125.08,876.68L126.08,873.89L127.11,871.11L128.16,868.35L129.25,865.61L130.36,862.89L131.49,860.18L132.66,857.49L133.86,854.82L135.09,852.17L136.35,849.54L137.64,846.93L138.97,844.34L140.33,841.78L141.73,839.23L143.16,836.71L144.63,834.21L146.14,831.74L147.68,829.29L149.27,826.87L150.89,824.47L152.56,822.09L154.26,819.75L156.01,817.43L157.80,815.14L159.64,812.88L161.52,810.65L163.44,808.44L165.41,806.27L167.43,804.13L169.50,802.02L171.61,799.94L173.77,797.89L175.99,795.88L178.25,793.90L180.57,791.95L182.93,790.04L185.36,788.17L187.83,786.33L190.36,784.53L192.95,782.76L195.59,781.03L198.29,779.34L201.05,777.69L203.87,776.08" stroke-width="1.30"/>
<path d="M56.00,1349.70L56.29,1346.75L56.57,1343.81L56.86,1340.86L57.14,1337.90L57.42,1334.95L57.70,1331.99L57.98,1329.04L58.25,1326.07L58.52,1323.11L58.80,1320.15L59.07,1317.18L59.34,1314.21L59.61,1311.24L59.87,1308.27L60.14,1305.30L60.41,1302.32L60.67,1299.34L60.94,1296.37L61.20,1293.39L61.47,1290.40L61.73,1287.42L61.99,1284.44L62.26,1281.45L62.52,1278.46L62.79,1275.47L63.05,1272.48L63.32,1269.49L63.59,1266.50L63.85,1263.51L64.12,1260.51L64.39,1257.52L64.66,1254.52L64.94,1251.53L65.21,1248.53L65.49,1245.53L65.76,1242.53L66.04,1239.53L66.32,1236.53L66.60,1233.53L66.89,1230.53L67.18,1227.52L67.47,1224.52L67.76,1221.52L68.05,1218.51L68.35,1215.51L68.65,1212.50L68.96,1209.50L69.26,1206.49L69.57,1203.49L69.88,1200.48L70.20,1197.48L70.52,1194.47L70.85,1191.47L71.17,1188.46L71.50,1185.46L71.84,1182.45L72.18,1179.45L72.52,1176.45L72.87,1173.44L73.23,1170.44L73.58,1167.44L73.95,1164.43L74.31,1161.43L74.69,1158.43L75.06,1155.43L75.45,1152.43L75.83,1149.43L76.23,1146.43L76.63,1143.43L77.03,1140.43L77.44,1137.44L77.86,1134.44L78.28,1131.45L78.71,1128.45L79.15,1125.46L79.59,1122.47L80.04,1119.48L80.49,1116.49L80.96,1113.50L81.42,1110.52L81.90,1107.53L82.38,1104.55L82.87,1101.57L83.37,1098.58L83.88,1095.61L84.39,1092.63L84.91,1089.65L85.44,1086.68L85.98,1083.71L86.52,1080.73L87.07,1077.77L87.63,1074.80L88.20,1071.83L88.78,1068.87L89.37,1065.91L89.97,1062.95L90.57,1059.99L91.18,1057.04L91.81,1054.08L92.44,1051.13L93.08,1048.19L93.73,1045.24L94.39,1042.30L95.06,1039.36L95.74,1036.42L96.43,1033.48L97.14,1030.55L97.85,1027.62L98.57,1024.69L99.30,1021.76L100.04,1018.84L100.80,1015.92L101.56,1013.00L102.33,1010.09L103.12,1007.18L103.92,1004.27L104.73,1001.36L105.55,998.46L106.38,995.56L107.22,992.67L108.08,989.78L108.95,986.89L109.84,984.02L110.75,981.15L111.67,978.29L112.62,975.44L113.58,972.60L114.57,969.78L115.58,966.96L116.61,964.16L117.67,961.38L118.75,958.61L119.86,955.86L121.00,953.12L122.17,950.41L123.36,947.71L124.59,945.04L125.85,942.39L127.15,939.76L128.48,937.15L129.84,934.57L131.25,932.01L132.69,929.48L134.17,926.98L135.69,924.50L137.25,922.06L138.85,919.65L140.50,917.26L142.19,914.91L143.93,912.60L145.71,910.32L147.55,908.07L149.43,905.86L151.36,903.69L153.34,901.55L155.38,899.46L157.46,897.40L159.61,895.39L161.80,893.41L164.06,891.49L166.37,889.60L168.74,887.76L171.17,885.97L173.67,884.22L176.22,882.52L178.84,880.87L181.52,879.27L184.27,877.73L187.09,876.23" stroke-width="1.30"/>
<path d="M57.00,1349.70L57.39,1346.74L57.78,1343.78L58.18,1340.82L58.59,1337.87L59.01,1334.91L59.43,1331.95L59.86,1328.99L60.29,1326.03L60.74,1323.07L61.19,1320.11L61.64,1317.16L62.11,1314.20L62.58,1311.24L63.06,1308.29L63.54,1305.33L64.04,1302.38L64.54,1299.42L65.05,1296.47L65.56,1293.52L66.09,1290.56L66.62,1287.61L67.16,1284.66L67.71,1281.72L68.27,1278.77L68.83,1275.82L69.40,1272.88L69.98,1269.94L70.57,1266.99L71.17,1264.05L71.78,1261.12L72.39,1258.18L73.02,1255.24L73.65,1252.31L74.29,1249.38L74.94,1246.45L75.60,1243.52L76.27,1240.60L76.95,1237.68L77.63,1234.76L78.33,1231.84L79.03,1228.92L79.75,1226.01L80.47,1223.10L81.20,1220.19L81.95,1217.28L82.70,1214.38L83.46,1211.48L84.23,1208.58L85.01,1205.69L85.80,1202.80L86.61,1199.91L87.42,1197.02L88.24,1194.14L89.07,1191.26L89.91,1188.39L90.77,1185.51L91.63,1182.65L92.50,1179.78L93.39,1176.92L94.28,1174.06L95.19,1171.21L96.10,1168.36L97.03,1165.51L97.97,1162.67L98.92,1159.83L99.88,1156.99L100.85,1154.16L101.83,1151.34L102.82,1148.51L103.83,1145.70L104.84,1142.88L105.87,1140.07L106.91,1137.27L107.96,1134.47L109.02,1131.67L110.10,1128.88L111.19,1126.10L112.28,1123.32L113.39,1120.54L114.52,1117.77L115.65,1115.00L116.80,1112.24L117.95,1109.49L119.12,1106.74L120.31,1103.99L121.50,1101.25L122.71,1098.52L123.93,1095.79L125.17,1093.07L126.41,1090.36L127.67,1087.65L128.95,1084.94L130.23,1082.25L131.53,1079.56L132.85,1076.87L134.17,1074.20L135.52,1071.53L136.87,1068.87L138.24,1066.21L139.62,1063.56L141.02,1060.92L142.43,1058.29L143.86,1055.67L145.30,1053.05L146.75,1050.45L148.22,1047.85L149.70,1045.26L151.20,1042.67L152.72,1040.10L154.25,1037.54L155.79,1034.98L157.35,1032.43L158.93,1029.90L160.52,1027.37L162.13,1024.85L163.75,1022.34L165.39,1019.85L167.04,1017.36L168.71,1014.88L170.40,1012.41L172.10,1009.95L173.82,1007.51L175.56,1005.07L177.31,1002.65L179.08,1000.23L180.87,997.83L182.67,995.44L184.49,993.06L186.33,990.69L188.19,988.33L190.06,985.99L191.95,983.65L193.86,981.33L195.79,979.02L197.73,976.73L199.69,974.44L201.67,972.17L203.67,969.91L205.69,967.67L207.73,965.44L209.78,963.22L211.85,961.01L213.94,958.82L216.05,956.64L218.18,954.48" stroke-width="1.30"/>
<path d="M58.00,1349.70L58.24,1346.80L58.49,1343.88L58.75,1340.95L59.01,1338.01L59.28,1335.07L59.56,1332.11L59.84,1329.14L60.14,1326.17L60.44,1323.18L60.75,1320.19L61.08,1317.20L61.41,1314.19L61.76,1311.18L62.11,1308.17L62.48,1305.15L62.86,1302.13L63.26,1299.10L63.66,1296.07L64.09,1293.04L64.52,1290.01L64.97,1286.97L65.44,1283.94L65.92,1280.90L66.42,1277.87L66.93,1274.84L67.46,1271.81L68.01,1268.78L68.58,1265.75L69.16,1262.73L69.77,1259.71L70.39,1256.70L71.03,1253.69L71.70,1250.69L72.38,1247.69L73.09,1244.70L73.82,1241.72L74.57,1238.74L75.34,1235.78L76.13,1232.82L76.95,1229.87L77.80,1226.93L78.66,1224.01L79.56,1221.09L80.48,1218.19L81.42,1215.30L82.39,1212.42L83.39,1209.56L84.41,1206.71L85.46,1203.87L86.54,1201.05L87.65,1198.25L88.79,1195.46L89.96,1192.69L91.16,1189.93L92.38,1187.20L93.64,1184.48L94.93,1181.79L96.26,1179.11L97.61,1176.45L99.00,1173.81L100.41,1171.20L101.86,1168.61L103.35,1166.03L104.86,1163.48L106.41,1160.95L107.98,1158.45L109.59,1155.97L111.23,1153.51L112.90,1151.07L114.60,1148.66L116.33,1146.27L118.10,1143.91L119.89,1141.58L121.72,1139.26L123.57,1136.98L125.46,1134.72L127.38,1132.49L129.32,1130.28L131.30,1128.10L133.31,1125.95L135.35,1123.83L137.42,1121.73L139.51,1119.66L141.64,1117.62L143.80,1115.62L145.99,1113.64L148.20,1111.69L150.45,1109.77L152.73,1107.88L155.03,1106.02L157.36,1104.19L159.72,1102.39L162.11,1100.63L164.52,1098.89L166.96,1097.18L169.43,1095.50L171.92,1093.85L174.43,1092.24L176.97,1090.65L179.53,1089.09L182.12,1087.56L184.72,1086.06L187.35,1084.59L190.00,1083.14L192.67,1081.73L195.36,1080.35L198.07,1078.99L200.80,1077.67L203.55,1076.37L206.31,1075.10L209.10,1073.86L211.90,1072.65L214.71,1071.47L217.54,1070.31L220.39,1069.19L223.25,1068.09L226.13,1067.02L229.02,1065.98L231.92,1064.97L234.84,1063.98L237.77,1063.03L240.70,1062.10L243.65,1061.20L246.61,1060.32L249.59,1059.48L252.57,1058.66L255.55,1057.87L258.55,1057.10L261.56,1056.37L264.57,1055.66L267.59,1054.98L270.61,1054.32L273.64,1053.69L276.68,1053.09L279.72,1052.52L282.76,1051.97L285.81,1051.45L288.86,1050.96L291.91,1050.49L294.97,1050.05L298.02,1049.63L301.08,1049.24L304.14,1048.88L307.20,1048.55L310.25,1048.24L313.31,1047.95L316.36,1047.69L319.41,1047.46L322.46,1047.25L325.50,1047.07L328.54,1046.92L331.58,1046.79L334.61,1046.68L337.63,1046.60L340.65,1046.55L343.66,1046.52L346.67,1046.52L349.67,1046.54L352.66,1046.59L355.64,1046.66L358.61,1046.75L361.57,1046.87L364.52,1047.02L367.46,1047.19L370.38,1047.38L373.30,1047.60" stroke-width="1.30"/>
<path d="M58.75,1349.70L59.60,1346.91L60.46,1344.11L61.33,1341.31L62.21,1338.49L63.10,1335.66L64.00,1332.83L64.91,1329.98L65.83,1327.14L66.77,1324.28L67.72,1321.43L68.68,1318.56L69.66,1315.70L70.65,1312.83L71.65,1309.96L72.67,1307.09L73.71,1304.22L74.76,1301.35L75.82,1298.48L76.91,1295.61L78.01,1292.75L79.12,1289.89L80.26,1287.04L81.41,1284.19L82.58,1281.34L83.77,1278.51L84.98,1275.68L86.21,1272.86L87.46,1270.04L88.73,1267.24L90.02,1264.45L91.33,1261.67L92.67,1258.91L94.02,1256.15L95.40,1253.41L96.80,1250.69L98.23,1247.98L99.67,1245.28L101.15,1242.61L102.64,1239.95L104.17,1237.31L105.71,1234.69L107.29,1232.09L108.89,1229.51L110.51,1226.95L112.17,1224.41L113.85,1221.90L115.56,1219.41L117.29,1216.95L119.06,1214.51L120.85,1212.10L122.68,1209.71L124.53,1207.35L126.41,1205.03L128.33,1202.73L130.27,1200.46L132.25,1198.22L134.26,1196.01L136.30,1193.84L138.38,1191.70L140.48,1189.60L142.63,1187.52L144.80,1185.49L147.01,1183.49L149.25,1181.53L151.53,1179.60L153.85,1177.72L156.20,1175.87L158.59,1174.07L161.01,1172.30L163.47,1170.58L165.97,1168.90L168.51,1167.27L171.08,1165.67L173.70,1164.13L176.35,1162.63L179.04,1161.17L181.78,1159.76L184.55,1158.41L187.36,1157.10L190.22,1155.83L193.12,1154.63" stroke-width="1.30"/>
<path d="M68.90,1349.70L70.31,1347.16L71.71,1344.59L73.11,1341.99L74.50,1339.37L75.88,1336.73L77.26,1334.07L78.64,1331.39L80.01,1328.70L81.39,1325.99L82.78,1323.28L84.17,1320.56L85.56,1317.84L86.96,1315.11L88.38,1312.38L89.80,1309.66L91.24,1306.94L92.69,1304.22L94.16,1301.52L95.65,1298.83L97.16,1296.15L98.69,1293.49L100.24,1290.84L101.82,1288.22L103.42,1285.62L105.05,1283.05L106.71,1280.50L108.41,1277.99L110.13,1275.51L111.89,1273.06L113.69,1270.65L115.53,1268.28L117.40,1265.95L119.32,1263.67L121.28,1261.43L123.28,1259.25L125.33,1257.11L127.43,1255.03L129.58,1253.01L131.78,1251.04L134.03,1249.13L136.33,1247.29L138.70,1245.52L141.12,1243.81L143.60,1242.17L146.14,1240.61L148.74,1239.11L151.41,1237.70L154.14,1236.37L156.94,1235.12L159.81,1233.95L162.76,1232.87L165.77,1231.88L168.86,1230.98L172.02,1230.18" stroke-width="1.30"/>
<path d="M69.00,1349.70L71.56,1348.07L74.13,1346.47L76.70,1344.89L79.29,1343.33L81.88,1341.78L84.48,1340.25L87.08,1338.74L89.70,1337.24L92.32,1335.77L94.95,1334.31L97.58,1332.87L100.22,1331.44L102.87,1330.03L105.53,1328.64L108.19,1327.26L110.86,1325.90L113.53,1324.56L116.21,1323.24L118.90,1321.92L121.60,1320.63L124.30,1319.35L127.00,1318.09L129.72,1316.84L132.43,1315.61L135.16,1314.39L137.89,1313.19L140.63,1312.01L143.37,1310.84L146.12,1309.68L148.87,1308.54L151.63,1307.41L154.40,1306.30L157.17,1305.20L159.94,1304.12L162.72,1303.05L165.51,1301.99L168.30,1300.95L171.09,1299.93L173.90,1298.91L176.70,1297.91L179.51,1296.92L182.33,1295.95L185.15,1294.99L187.97,1294.04L190.80,1293.11L193.63,1292.19L196.47,1291.28L199.31,1290.38L202.16,1289.50L205.01,1288.62L207.87,1287.76L210.72,1286.92L213.59,1286.08L216.45,1285.26L219.32,1284.45L222.20,1283.64L225.08,1282.86L227.96,1282.08L230.84,1281.31L233.73,1280.56L236.62,1279.81L239.52,1279.08L242.41,1278.36L245.31,1277.64L248.22,1276.94L251.13,1276.25L254.03,1275.57L256.95,1274.90L259.86,1274.24L262.78,1273.59L265.70,1272.94L268.63,1272.31L271.55,1271.69L274.48,1271.08L277.41,1270.47L280.34,1269.88L283.28,1269.29L286.21,1268.72L289.15,1268.15L292.09,1267.59L295.04,1267.04L297.98,1266.50L300.93,1265.96L303.88,1265.44L306.83,1264.92L309.78,1264.41L312.73,1263.91L315.69,1263.41L318.64,1262.93L321.60,1262.45L324.56,1261.98L327.52,1261.52L330.48,1261.06L333.45,1260.61L336.41,1260.17L339.38,1259.74L342.35,1259.32L345.32,1258.90L348.29,1258.49L351.26,1258.09L354.23,1257.69L357.21,1257.31L360.18,1256.93L363.16,1256.55L366.14,1256.19L369.12,1255.83L372.10,1255.48L375.08,1255.13L378.07,1254.79L381.05,1254.46L384.04,1254.14L387.03,1253.82L390.02,1253.51L393.01,1253.20L396.00,1252.90L398.99,1252.61L401.98,1252.33L404.98,1252.05L407.97,1251.78L410.97,1251.51L413.96,1251.25L416.96,1251.00L419.96,1250.75L422.96,1250.51L425.96,1250.28L428.96,1250.05L431.97,1249.83L434.97,1249.61L437.97,1249.40L440.98,1249.20L443.99,1249.00L446.99,1248.80L450.00,1248.62L453.01,1248.43L456.02,1248.26L459.03,1248.09L462.04,1247.92L465.05,1247.76L468.06,1247.61L471.08,1247.46L474.09,1247.32L477.10,1247.18L480.12,1247.05L483.13,1246.92L486.15,1246.79L489.16,1246.68L492.18,1246.56L495.20,1246.46L498.22,1246.35L501.23,1246.26L504.25,1246.16L507.27,1246.07L510.29,1245.99L513.31,1245.91L516.33,1245.84L519.35,1245.77L522.38,1245.70L525.40,1245.64L528.42,1245.59L531.44,1245.53L534.46,1245.49L537.49,1245.44L540.51,1245.40L543.53,1245.37L546.56,1245.34L549.58,1245.31L552.60,1245.29L555.63,1245.27L558.65,1245.25L561.68,1245.24L564.70,1245.24L567.73,1245.23L570.75,1245.23L573.77,1245.24L576.80,1245.24L579.82,1245.25L582.85,1245.27L585.87,1245.29L588.90,1245.31L591.92,1245.33L594.95,1245.36L597.97,1245.39L601.00,1245.43L604.02,1245.47L607.04,1245.51L610.07,1245.55L613.09,1245.60L616.11,1245.65L619.14,1245.70L622.16,1245.76L625.18,1245.82L628.21,1245.88L631.23,1245.94L634.25,1246.01L637.27,1246.08L640.29,1246.15L643.31,1246.23L646.33,1246.30L649.36,1246.38L652.37,1246.46L655.39,1246.55L658.41,1246.63L661.43,1246.72L664.45,1246.81L667.47,1246.91L670.48,1247.00L673.50,1247.10L676.52,1247.20L679.53,1247.30L682.55,1247.40L685.56,1247.51L688.57,1247.61L691.59,1247.72L694.60,1247.83L697.61,1247.94L700.62,1248.06L703.63,1248.17L706.64,1248.29L709.65,1248.41L712.66,1248.53L715.66,1248.65L718.67,1248.77L721.68,1248.89L724.68,1249.01L727.68,1249.14L730.69,1249.27L733.69,1249.39L736.69,1249.52L739.69,1249.65L742.69,1249.78L745.69,1249.91L748.68,1250.04L751.68,1250.18L754.68,1250.31L757.67,1250.44L760.66,1250.58L763.65,1250.71L766.65,1250.85L769.64,1250.98L772.62,1251.12L775.61,1251.26L778.60,1251.39L781.58,1251.53L784.57,1251.67L787.55,1251.81L790.53,1251.94L793.51,1252.08L796.49,1252.22L799.47,1252.36L802.45,1252.49L805.42,1252.63L808.40,1252.77L811.37,1252.90L814.34,1253.04L817.31,1253.18L820.28,1253.31L823.24,1253.45L826.21,1253.58L829.17,1253.72L832.14,1253.85L835.10,1253.98L838.06,1254.12L841.01,1254.25L843.97,1254.38L846.93,1254.51L849.88,1254.64L852.83,1254.76L855.78,1254.89L858.73,1255.02" stroke-width="1.30"/>
<path d="M90.80,1349.70L93.73,1348.98L96.66,1348.27L99.60,1347.57L102.53,1346.88L105.46,1346.19L108.40,1345.51L111.34,1344.84L114.28,1344.17L117.21,1343.52L120.15,1342.86L123.10,1342.22L126.04,1341.58L128.98,1340.95L131.93,1340.32L134.87,1339.71L137.82,1339.09L140.76,1338.49L143.71,1337.89L146.66,1337.30L149.61,1336.71L152.56,1336.14L155.51,1335.56L158.46,1335.00L161.42,1334.44L164.37,1333.89L167.33,1333.34L170.28,1332.80L173.24,1332.27L176.20,1331.74L179.16,1331.22L182.12,1330.70L185.08,1330.19L188.04,1329.69L191.00,1329.19L193.96,1328.70L196.93,1328.22L199.89,1327.74L202.86,1327.27L205.82,1326.80L208.79,1326.34L211.76,1325.88L214.73,1325.44L217.70,1324.99L220.67,1324.55L223.64,1324.12L226.61,1323.70L229.58,1323.28L232.56,1322.86L235.53,1322.45L238.51,1322.05L241.48,1321.65L244.46,1321.26L247.43,1320.87L250.41,1320.49L253.39,1320.11L256.37,1319.74L259.35,1319.37L262.33,1319.01L265.31,1318.66L268.29,1318.31L271.28,1317.96L274.26,1317.62L277.24,1317.29L280.23,1316.96L283.21,1316.63L286.20,1316.31L289.19,1316.00L292.17,1315.69L295.16,1315.38L298.15,1315.08L301.14,1314.79L304.13,1314.50L307.12,1314.21L310.11,1313.93L313.10,1313.66L316.09,1313.39L319.08,1313.12L322.08,1312.86L325.07,1312.60L328.07,1312.35L331.06,1312.10L334.06,1311.85L337.05,1311.62L340.05,1311.38L343.04,1311.15L346.04,1310.92L349.04,1310.70L352.04,1310.48L355.04,1310.27L358.04,1310.06L361.04,1309.86L364.04,1309.66L367.04,1309.46L370.04,1309.27L373.04,1309.08L376.04,1308.89L379.05,1308.71L382.05,1308.54L385.05,1308.37L388.06,1308.20L391.06,1308.03L394.07,1307.87L397.07,1307.71L400.08,1307.56L403.08,1307.41L406.09,1307.27L409.10,1307.12L412.10,1306.98L415.11,1306.85L418.12,1306.72L421.13,1306.59L424.13,1306.47L427.14,1306.34L430.15,1306.23L433.16,1306.11L436.17,1306.00L439.18,1305.89L442.19,1305.79L445.20,1305.69L448.22,1305.59L451.23,1305.50L454.24,1305.41L457.25,1305.32L460.26,1305.23L463.28,1305.15L466.29,1305.07L469.30,1304.99L472.32,1304.92L475.33,1304.85L478.34,1304.78L481.36,1304.72L484.37,1304.66L487.39,1304.60L490.40,1304.54L493.42,1304.49L496.43,1304.44L499.45,1304.39L502.46,1304.35L505.48,1304.30L508.49,1304.26L511.51,1304.23L514.52,1304.19L517.54,1304.16L520.56,1304.13L523.57,1304.10L526.59,1304.07L529.61,1304.05L532.62,1304.03L535.64,1304.01L538.66,1304.00L541.68,1303.98L544.69,1303.97L547.71,1303.96L550.73,1303.95L553.75,1303.95L556.76,1303.94L559.78,1303.94L562.80,1303.94L565.82,1303.94L568.84,1303.95L571.85,1303.95L574.87,1303.96L577.89,1303.97L580.91,1303.98L583.93,1304.00L586.94,1304.01L589.96,1304.03L592.98,1304.05L596.00,1304.06L599.02,1304.09L602.04,1304.11L605.05,1304.13L608.07,1304.16L611.09,1304.19L614.11,1304.22L617.13,1304.25L620.14,1304.28L623.16,1304.31L626.18,1304.34L629.20,1304.38L632.21,1304.41L635.23,1304.45L638.25,1304.49L641.27,1304.53L644.28,1304.57L647.30,1304.61L650.32,1304.66L653.33,1304.70L656.35,1304.75L659.37,1304.79L662.38,1304.84L665.40,1304.88L668.41,1304.93L671.43,1304.98L674.45,1305.03L677.46,1305.08L680.48,1305.13L683.49,1305.18L686.51,1305.24L689.52,1305.29L692.54,1305.34L695.55,1305.40L698.56,1305.45L701.58,1305.51L704.59,1305.56L707.60,1305.62L710.62,1305.67L713.63,1305.73L716.64,1305.79L719.65,1305.84L722.67,1305.90L725.68,1305.96L728.69,1306.01L731.70,1306.07L734.71,1306.13L737.72,1306.19L740.73,1306.24L743.74,1306.30L746.75,1306.36L749.76,1306.42L752.77,1306.47L755.78,1306.53L758.79,1306.59L761.79,1306.65L764.80,1306.70L767.81,1306.76L770.81,1306.81L773.82,1306.87L776.83,1306.92L779.83,1306.98L782.84,1307.03L785.84,1307.09L788.85,1307.14L791.85,1307.19L794.85,1307.24L797.86,1307.30L800.86,1307.35L803.86,1307.40L806.86,1307.45L809.86,1307.49L812.86,1307.54L815.86,1307.59L818.86,1307.63L821.86,1307.68L824.86,1307.72L827.86,1307.77L830.86,1307.81L833.86,1307.85L836.85,1307.89L839.85,1307.93L842.84,1307.97L845.84,1308.00L848.83,1308.04L851.83,1308.07L854.82,1308.11L857.81,1308.14L860.81,1308.17" stroke-width="1.30"/>
<path d="M95.30,1362.50L156.10,1362.50" stroke-width="1.30"/>
<path d="M95.30,1375.20C130.20,1385.30 165.50,1395.51 200.00,1405.50C233.72,1415.27 274.67,1427.28 300.00,1434.50C315.49,1438.92 328.77,1439.90 337.50,1445.00C343.38,1448.44 346.55,1452.91 350.00,1457.50C353.34,1461.94 356.06,1466.75 358.00,1472.00C360.04,1477.53 360.18,1483.36 361.70,1490.00C363.61,1498.33 364.70,1509.70 368.80,1518.00C372.77,1526.03 378.87,1533.34 385.60,1539.20C392.41,1545.14 401.09,1549.84 409.50,1553.30C417.80,1556.72 426.96,1557.72 435.69,1559.93" stroke-width="1.30"/>
<path d="M61.90,1375.20L63.94,1377.16L65.99,1379.14L68.06,1381.15L70.14,1383.19L72.23,1385.25L74.33,1387.33L76.45,1389.43L78.58,1391.54L80.73,1393.66L82.89,1395.79L85.07,1397.93L87.26,1400.07L89.46,1402.21L91.68,1404.36L93.92,1406.49L96.17,1408.63L98.44,1410.75L100.73,1412.86L103.03,1414.95L105.35,1417.03L107.69,1419.09L110.04,1421.13L112.42,1423.15L114.81,1425.13L117.22,1427.09L119.65,1429.01L122.09,1430.90L124.56,1432.75L127.05,1434.56L129.56,1436.33L132.08,1438.05L134.63,1439.73L137.20,1441.35L139.79,1442.92L142.40,1444.43L145.03,1445.89L147.69,1447.28L150.37,1448.62L153.07,1449.88L155.79,1451.08L158.53,1452.20L161.30,1453.25L164.09,1454.23L166.91,1455.12L169.75,1455.94L172.61,1456.68L175.49,1457.35L178.40,1457.96L181.32,1458.50L184.26,1458.98L187.22,1459.40L190.19,1459.78L193.18,1460.10L196.19,1460.37L199.21,1460.61L202.24,1460.80L205.28,1460.96L208.33,1461.09L211.40,1461.19L214.47,1461.27L217.55,1461.32L220.64,1461.36L223.73,1461.38L226.82,1461.39L229.92,1461.40L233.03,1461.40L236.13,1461.41L239.24,1461.41L242.35,1461.43L245.45,1461.45L248.55,1461.49L251.65,1461.55L254.75,1461.63L257.84,1461.73L260.92,1461.86L264.00,1462.03L267.07,1462.23L270.13,1462.47L273.19,1462.75L276.23,1463.08L279.26,1463.46L282.27,1463.89L285.27,1464.38L288.26,1464.93L291.23,1465.54L294.18,1466.21L297.11,1466.94L300.01,1467.74L302.89,1468.60L305.74,1469.52L308.55,1470.50L311.34,1471.55L314.08,1472.67L316.79,1473.84L319.45,1475.09L322.07,1476.40L324.64,1477.77L327.17,1479.22L329.64,1480.73L332.06,1482.30L334.42,1483.95L336.72,1485.66L338.96,1487.45L341.14,1489.30L343.25,1491.22L345.30,1493.21L347.27,1495.28L349.17,1497.41L350.99,1499.62L352.74,1501.89L354.40,1504.24L355.98,1506.67L357.48,1509.16L358.88,1511.73L360.20,1514.38L361.42,1517.10L362.55,1519.89L363.58,1522.76L364.51,1525.71L365.34,1528.73L366.08,1531.82L366.75,1534.96L367.36,1538.14L367.92,1541.36L368.46,1544.60L368.98,1547.85L369.49,1551.10L370.03,1554.34L370.59,1557.56L371.19,1560.74L371.85,1563.88L372.59,1566.97L373.40,1569.99L374.32,1572.93L375.36,1575.79L376.51,1578.55L377.80,1581.21L379.23,1583.75L380.80,1586.17L382.54,1588.46L384.44,1590.60L386.52,1592.59L388.78,1594.42L391.24,1596.07L393.90,1597.55L396.78,1598.84L399.87,1599.93L403.19,1600.80" stroke-width="1.30"/>
<path d="M57.20,1375.20L58.11,1377.56L59.00,1379.98L59.90,1382.44L60.79,1384.95L61.67,1387.51L62.55,1390.10L63.43,1392.74L64.31,1395.42L65.19,1398.14L66.07,1400.89L66.96,1403.67L67.84,1406.48L68.74,1409.33L69.63,1412.19L70.54,1415.09L71.45,1418.00L72.37,1420.93L73.30,1423.89L74.24,1426.85L75.19,1429.84L76.15,1432.83L77.13,1435.83L78.12,1438.84L79.13,1441.86L80.16,1444.88L81.20,1447.90L82.27,1450.92L83.35,1453.94L84.45,1456.95L85.58,1459.95L86.73,1462.95L87.90,1465.93L89.10,1468.90L90.32,1471.85L91.57,1474.79L92.85,1477.71L94.16,1480.60L95.50,1483.47L96.87,1486.32L98.28,1489.14L99.71,1491.92L101.18,1494.68L102.69,1497.40L104.23,1500.08L105.81,1502.73L107.43,1505.33L109.09,1507.89L110.79,1510.41L112.53,1512.88L114.32,1515.30L116.14,1517.67L118.02,1519.99L119.93,1522.25L121.90,1524.45L123.90,1526.60L125.96,1528.70L128.05,1530.74L130.19,1532.72L132.37,1534.64L134.58,1536.51L136.84,1538.32L139.14,1540.08L141.48,1541.78L143.86,1543.42L146.27,1545.00L148.72,1546.53L151.20,1548.00L153.72,1549.41L156.28,1550.76L158.87,1552.05L161.49,1553.29L164.14,1554.47L166.83,1555.59L169.55,1556.65L172.29,1557.65L175.07,1558.59L177.87,1559.48L180.71,1560.30L183.57,1561.07L186.45,1561.77L189.36,1562.42L192.30,1563.00L195.26,1563.53L198.25,1563.99L201.26,1564.40L204.29,1564.74L207.34,1565.02L210.41,1565.25L213.51,1565.41L216.62,1565.51L219.75,1565.57L222.89,1565.57L226.04,1565.54L229.20,1565.47L232.37,1565.37L235.55,1565.25L238.73,1565.10L241.91,1564.94L245.09,1564.78L248.26,1564.60L251.43,1564.43L254.59,1564.27L257.74,1564.12L260.89,1563.98L264.01,1563.87L267.12,1563.79L270.21,1563.74L273.29,1563.72L276.34,1563.75L279.36,1563.83L282.36,1563.97L285.33,1564.16L288.26,1564.42L291.17,1564.74L294.03,1565.15L296.87,1565.63L299.66,1566.20L302.40,1566.86L305.11,1567.62L307.77,1568.48L310.38,1569.44L312.94,1570.52L315.45,1571.72L317.90,1573.04L320.29,1574.48L322.63,1576.05L324.91,1577.74L327.13,1579.55L329.29,1581.46L331.38,1583.48L333.42,1585.59L335.40,1587.80L337.31,1590.10L339.16,1592.47L340.94,1594.93L342.66,1597.45L344.31,1600.04L345.90,1602.70L347.41,1605.40L348.87,1608.16L350.25,1610.96L351.56,1613.80L352.80,1616.68L353.98,1619.58L355.08,1622.51L356.10,1625.46L357.06,1628.41L357.94,1631.38L358.75,1634.34L359.50,1637.31L360.21,1640.26L360.90,1643.21L361.57,1646.13L362.25,1649.04L362.95,1651.91L363.69,1654.75L364.47,1657.56L365.33,1660.32L366.26,1663.04L367.27,1665.71L368.37,1668.32L369.56,1670.89L370.85,1673.40L372.25,1675.85L373.76,1678.24L375.39,1680.57L377.13,1682.84L378.99,1685.04L380.95,1687.18L383.01,1689.26L385.16,1691.28L387.41,1693.24L389.73,1695.14L392.13,1696.97L394.60,1698.75L397.14,1700.47L399.74,1702.14L402.38,1703.74L405.08,1705.29L407.82,1706.78L410.59,1708.22L413.39,1709.60L416.21,1710.93L419.05,1712.20L421.91,1713.42L424.77,1714.58L427.64,1715.70L430.52,1716.76L433.40,1717.78L436.29,1718.74L439.19,1719.66L442.10,1720.52L445.01,1721.35L447.93,1722.12L450.86,1722.85L453.79,1723.53L456.73,1724.17L459.68,1724.77L462.62,1725.33L465.58,1725.84L468.54,1726.32L471.50,1726.75L474.47,1727.15L477.45,1727.51L480.42,1727.83L483.40,1728.11L486.39,1728.36L489.38,1728.58L492.37,1728.76L495.36,1728.90L498.36,1729.02L501.36,1729.10L504.36,1729.15L507.37,1729.18L510.37,1729.17L513.38,1729.14L516.39,1729.08L519.40,1728.99L522.41,1728.87L525.43,1728.74L528.44,1728.57L531.45,1728.39L534.47,1728.18L537.48,1727.95L540.49,1727.70L543.51,1727.43L546.52,1727.14L549.53,1726.83L552.54,1726.50L555.55,1726.16L558.56,1725.80L561.56,1725.43L564.56,1725.04L567.57,1724.64L570.56,1724.22L573.56,1723.80L576.55,1723.36L579.54,1722.92L582.53,1722.46L585.51,1721.99L588.49,1721.52L591.46,1721.04L594.44,1720.56L597.40,1720.07L600.36,1719.57L603.32,1719.07L606.27,1718.57L609.22,1718.07L612.16,1717.56L615.09,1717.06L618.02,1716.55L620.94,1716.05L623.86,1715.55L626.77,1715.05L629.67,1714.55L632.57,1714.06" stroke-width="1.30"/>
<path d="M58.75,1375.20L60.23,1377.83L61.71,1380.46L63.21,1383.10L64.71,1385.74L66.23,1388.38L67.76,1391.02L69.30,1393.66L70.85,1396.29L72.42,1398.93L74.00,1401.56L75.60,1404.18L77.21,1406.79L78.84,1409.40L80.49,1412.00L82.15,1414.58L83.84,1417.16L85.54,1419.72L87.26,1422.27L89.00,1424.80L90.77,1427.31L92.55,1429.81L94.36,1432.29L96.19,1434.75L98.04,1437.18L99.92,1439.60L101.83,1441.99L103.76,1444.36L105.71,1446.70L107.70,1449.01L109.71,1451.29L111.75,1453.55L113.81,1455.77L115.91,1457.96L118.04,1460.12L120.20,1462.25L122.39,1464.34L124.61,1466.39L126.87,1468.40L129.16,1470.38L131.49,1472.32L133.85,1474.21L136.24,1476.06L138.67,1477.87L141.14,1479.63L143.65,1481.35L146.19,1483.02L148.78,1484.64L151.40,1486.21L154.06,1487.73L156.77,1489.20L159.51,1490.62L162.30,1491.98L165.13,1493.29L168.01,1494.53L170.93,1495.73" stroke-width="1.30"/>
<path d="M55.60,1375.20L56.24,1378.03L56.87,1380.87L57.50,1383.73L58.13,1386.60L58.77,1389.48L59.40,1392.38L60.03,1395.28L60.67,1398.20L61.30,1401.13L61.94,1404.07L62.59,1407.02L63.24,1409.97L63.89,1412.94L64.55,1415.91L65.22,1418.88L65.89,1421.86L66.57,1424.85L67.26,1427.84L67.96,1430.83L68.67,1433.82L69.38,1436.82L70.11,1439.82L70.86,1442.82L71.61,1445.81L72.38,1448.81L73.16,1451.80L73.95,1454.79L74.76,1457.78L75.59,1460.76L76.43,1463.74L77.29,1466.72L78.17,1469.68L79.07,1472.64L79.98,1475.59L80.91,1478.54L81.87,1481.47L82.85,1484.40L83.84,1487.31L84.86,1490.21L85.91,1493.10L86.97,1495.98L88.07,1498.84L89.18,1501.69L90.32,1504.53L91.49,1507.35L92.69,1510.15L93.91,1512.93L95.16,1515.70L96.44,1518.45L97.75,1521.18L99.09,1523.89L100.47,1526.58L101.87,1529.25L103.31,1531.89L104.77,1534.51L106.28,1537.11L107.81,1539.69L109.39,1542.23L110.99,1544.76L112.64,1547.25L114.32,1549.72L116.04,1552.17L117.79,1554.58L119.59,1556.96L121.43,1559.31L123.30,1561.64L125.22,1563.93L127.18,1566.19L129.18,1568.41L131.22,1570.60L133.31,1572.76L135.44,1574.88L137.62,1576.97L139.84,1579.02L142.11,1581.03L144.43,1583.00L146.79,1584.94L149.20,1586.83L151.66,1588.69L154.17,1590.50L156.73,1592.28L159.34,1594.01L162.01,1595.69L164.72,1597.34" stroke-width="1.30"/>
<path d="M55.00,1375.20L55.41,1378.01L55.82,1380.84L56.23,1383.68L56.63,1386.54L57.02,1389.41L57.41,1392.29L57.80,1395.18L58.19,1398.09L58.58,1401.01L58.96,1403.93L59.34,1406.87L59.73,1409.82L60.11,1412.78L60.49,1415.74L60.88,1418.71L61.27,1421.69L61.66,1424.68L62.05,1427.68L62.45,1430.68L62.85,1433.69L63.25,1436.70L63.66,1439.72L64.08,1442.74L64.50,1445.76L64.93,1448.79L65.37,1451.82L65.82,1454.86L66.27,1457.89L66.73,1460.93L67.20,1463.97L67.68,1467.01L68.18,1470.04L68.68,1473.08L69.20,1476.12L69.72,1479.15L70.26,1482.19L70.82,1485.22L71.38,1488.24L71.97,1491.27L72.56,1494.29L73.17,1497.30L73.80,1500.31L74.45,1503.32L75.11,1506.32L75.79,1509.31L76.49,1512.30L77.20,1515.27L77.94,1518.24L78.69,1521.21L79.47,1524.16L80.26,1527.10L81.08,1530.04L81.92,1532.96L82.78,1535.87L83.66,1538.77L84.57,1541.66L85.50,1544.54L86.46,1547.40L87.44,1550.25L88.45,1553.09L89.48,1555.91L90.54,1558.72L91.63,1561.51L92.75,1564.29L93.89,1567.05L95.06,1569.79L96.27,1572.52L97.50,1575.23L98.76,1577.92L100.05,1580.59L101.38,1583.25L102.74,1585.88L104.13,1588.49L105.55,1591.09L107.01,1593.66L108.50,1596.21L110.02,1598.73L111.58,1601.24L113.18,1603.72L114.82,1606.18L116.49,1608.61L118.19,1611.02L119.94,1613.41L121.72,1615.77L123.55,1618.10L125.41,1620.41L127.32,1622.69L129.26,1624.94L131.25,1627.16L133.27,1629.36L135.34,1631.52L137.46,1633.66L139.61,1635.77L141.81,1637.85L144.06,1639.89L146.34,1641.91L148.68,1643.89L151.06,1645.84L153.49,1647.76L155.96,1649.64L158.49,1651.49L161.06,1653.31L163.68,1655.09" stroke-width="1.30"/>
<path d="M54.00,1375.20L54.29,1378.04L54.58,1380.89L54.86,1383.75L55.13,1386.63L55.40,1389.51L55.66,1392.41L55.91,1395.31L56.16,1398.23L56.41,1401.16L56.65,1404.09L56.89,1407.04L57.12,1409.99L57.35,1412.95L57.58,1415.92L57.81,1418.90L58.04,1421.88L58.26,1424.88L58.49,1427.88L58.72,1430.88L58.94,1433.89L59.17,1436.91L59.40,1439.93L59.63,1442.96L59.86,1445.99L60.10,1449.03L60.34,1452.07L60.58,1455.11L60.83,1458.16L61.08,1461.21L61.34,1464.26L61.60,1467.32L61.87,1470.37L62.14,1473.43L62.43,1476.49L62.72,1479.56L63.01,1482.62L63.32,1485.68L63.64,1488.74L63.96,1491.81L64.29,1494.87L64.64,1497.93L64.99,1500.99L65.36,1504.04L65.74,1507.10L66.12,1510.15L66.53,1513.20L66.94,1516.25L67.37,1519.29L67.81,1522.33L68.27,1525.37L68.74,1528.40L69.23,1531.43L69.73,1534.45L70.25,1537.47L70.78,1540.48L71.33,1543.48L71.90,1546.48L72.49,1549.47L73.10,1552.46L73.72,1555.43L74.37,1558.40L75.03,1561.36L75.72,1564.32L76.42,1567.26L77.15,1570.20L77.89,1573.12L78.67,1576.04L79.46,1578.94L80.27,1581.84L81.11,1584.72L81.98,1587.59L82.86,1590.46L83.78,1593.31L84.71,1596.14L85.68,1598.97L86.67,1601.78L87.69,1604.58L88.73,1607.37L89.80,1610.14L90.90,1612.90L92.03,1615.64L93.19,1618.37L94.37,1621.08L95.59,1623.78L96.84,1626.46L98.11,1629.13L99.42,1631.78L100.76,1634.41L102.14,1637.03L103.54,1639.63L104.98,1642.21L106.45,1644.77L107.96,1647.31L109.50,1649.84L111.08,1652.34L112.69,1654.83L114.33,1657.29L116.02,1659.74L117.74,1662.16L119.50,1664.57L121.29,1666.95L123.13,1669.31L125.00,1671.65L126.91,1673.97L128.86,1676.26L130.85,1678.54L132.88,1680.78L134.95,1683.01L137.07,1685.21L139.22,1687.39L141.42,1689.54L143.66,1691.67L145.95,1693.77L148.27,1695.85L150.64,1697.90" stroke-width="1.30"/>
<path d="M53.00,1375.20L53.25,1378.14L53.50,1381.09L53.74,1384.04L53.98,1387.00L54.21,1389.96L54.44,1392.93L54.66,1395.90L54.87,1398.87L55.09,1401.84L55.30,1404.82L55.50,1407.81L55.71,1410.80L55.91,1413.79L56.10,1416.78L56.30,1419.78L56.50,1422.77L56.69,1425.78L56.88,1428.78L57.07,1431.79L57.26,1434.80L57.45,1437.81L57.64,1440.82L57.83,1443.84L58.02,1446.86L58.22,1449.88L58.41,1452.90L58.61,1455.92L58.80,1458.94L59.00,1461.97L59.21,1464.99L59.41,1468.02L59.62,1471.05L59.83,1474.08L60.05,1477.11L60.27,1480.14L60.50,1483.17L60.73,1486.20L60.96,1489.23L61.20,1492.26L61.45,1495.29L61.70,1498.33L61.96,1501.36L62.22,1504.39L62.50,1507.42L62.78,1510.44L63.06,1513.47L63.36,1516.50L63.66,1519.53L63.98,1522.55L64.30,1525.57L64.63,1528.60L64.97,1531.62L65.32,1534.64L65.68,1537.65L66.05,1540.67L66.43,1543.68L66.82,1546.69L67.23,1549.70L67.64,1552.71L68.07,1555.71L68.51,1558.71L68.97,1561.71L69.43,1564.71L69.91,1567.70L70.40,1570.69L70.91,1573.67L71.43,1576.66L71.97,1579.64L72.52,1582.61L73.09,1585.58L73.67,1588.55L74.26,1591.51L74.88,1594.47L75.51,1597.43L76.15,1600.38L76.82,1603.33L77.50,1606.27L78.20,1609.21L78.92,1612.14L79.65,1615.07L80.40,1617.99L81.18,1620.91L81.97,1623.82L82.78,1626.72L83.61,1629.62L84.47,1632.52L85.34,1635.41L86.23,1638.29L87.15,1641.17L88.08,1644.04L89.04,1646.90L90.02,1649.76L91.02,1652.61L92.05,1655.46L93.10,1658.30L94.17,1661.13L95.26,1663.95L96.38,1666.77L97.53,1669.58L98.69,1672.38L99.89,1675.17L101.11,1677.96L102.36,1680.73L103.63,1683.48L104.93,1686.23L106.27,1688.95L107.63,1691.66L109.03,1694.35L110.46,1697.01L111.92,1699.65L113.41,1702.27L114.94,1704.86L116.50,1707.43L118.11,1709.96L119.75,1712.46L121.42,1714.93L123.14,1717.37L124.89,1719.77L126.69,1722.13L128.53,1724.46L130.41,1726.74L132.33,1728.98L134.30,1731.18L136.31,1733.33L138.37,1735.44L140.48,1737.49L142.63,1739.50L144.83,1741.45L147.08,1743.36L149.39,1745.20L151.74,1746.99L154.14,1748.72L156.60,1750.39L159.11,1752.01L161.67,1753.55L164.29,1755.04L166.97,1756.45L169.70,1757.80L172.49,1759.08L175.34,1760.29L178.25,1761.43" stroke-width="1.30"/>
<path d="M52.50,1375.20L52.59,1378.24L52.69,1381.28L52.79,1384.32L52.90,1387.35L53.01,1390.38L53.13,1393.41L53.25,1396.44L53.38,1399.46L53.52,1402.48L53.65,1405.50L53.80,1408.52L53.95,1411.53L54.10,1414.55L54.26,1417.56L54.43,1420.57L54.60,1423.57L54.77,1426.58L54.96,1429.58L55.14,1432.58L55.34,1435.58L55.54,1438.58L55.74,1441.57L55.95,1444.57L56.17,1447.56L56.39,1450.55L56.62,1453.54L56.85,1456.52L57.09,1459.51L57.33,1462.49L57.58,1465.47L57.84,1468.45L58.11,1471.43L58.38,1474.41L58.65,1477.39L58.93,1480.36L59.22,1483.33L59.52,1486.31L59.82,1489.28L60.12,1492.25L60.44,1495.21L60.76,1498.18L61.08,1501.15L61.42,1504.11L61.75,1507.08L62.10,1510.04L62.45,1513.00L62.81,1515.96L63.18,1518.92L63.55,1521.88L63.93,1524.84L64.31,1527.80L64.71,1530.75L65.11,1533.71L65.51,1536.66L65.93,1539.62L66.35,1542.57L66.77,1545.52L67.21,1548.48L67.65,1551.43L68.10,1554.38L68.55,1557.33L69.02,1560.28L69.49,1563.23L69.96,1566.18L70.45,1569.13L70.94,1572.08L71.44,1575.03L71.95,1577.97L72.46,1580.92L72.98,1583.87L73.51,1586.82L74.05,1589.77L74.59,1592.71L75.15,1595.66L75.71,1598.61L76.27,1601.56L76.85,1604.50L77.43,1607.45L78.02,1610.40L78.62,1613.35L79.23,1616.30L79.84,1619.25L80.47,1622.19L81.10,1625.14L81.73,1628.09L82.38,1631.04L83.04,1633.99L83.70,1636.94L84.37,1639.90L85.05,1642.85L85.74,1645.80L86.43,1648.75L87.14,1651.71L87.85,1654.66L88.57,1657.62L89.30,1660.57L90.04,1663.53L90.79,1666.49L91.54,1669.44L92.31,1672.40L93.08,1675.36L93.86,1678.32L94.65,1681.28L95.45,1684.25L96.25,1687.21L97.07,1690.18L97.90,1693.14L98.73,1696.11L99.57,1699.08L100.43,1702.05L101.29,1705.02L102.16,1707.99L103.04,1710.96L103.93,1713.94L104.83,1716.91L105.74,1719.87L106.67,1722.83L107.62,1725.78L108.59,1728.72L109.58,1731.65L110.59,1734.56L111.62,1737.45L112.68,1740.33L113.77,1743.18L114.89,1746.01L116.03,1748.82L117.22,1751.59L118.43,1754.34L119.68,1757.06L120.97,1759.74L122.30,1762.38L123.66,1764.99L125.08,1767.56L126.53,1770.08L128.03,1772.56L129.58,1774.99L131.18,1777.37L132.83,1779.71L134.54,1781.99L136.29,1784.21L138.11,1786.38L139.98,1788.49L141.91,1790.53L143.91,1792.52L145.96,1794.44L148.08,1796.29L150.25,1798.09L152.48,1799.82L154.76,1801.50L157.09,1803.12L159.48,1804.69L161.91,1806.20L164.39,1807.65L166.92,1809.06L169.48,1810.41L172.09,1811.72L174.74,1812.97L177.43,1814.18L180.15,1815.34L182.91,1816.46L185.69,1817.54L188.51,1818.57L191.36,1819.57L194.24,1820.52L197.14,1821.44L200.06,1822.32L203.01,1823.17L205.97,1823.98L208.95,1824.76L211.95,1825.50L214.97,1826.22L217.99,1826.91L221.03,1827.57L224.08,1828.20L227.13,1828.81L230.19,1829.40L233.25,1829.96L236.31,1830.51L239.37,1831.03L242.44,1831.54L245.50,1832.02L248.55,1832.49L251.61,1832.95L254.67,1833.38L257.72,1833.80L260.77,1834.21L263.82,1834.60L266.86,1834.98L269.91,1835.34L272.95,1835.69L275.99,1836.03L279.03,1836.35L282.06,1836.67L285.09,1836.97L288.12,1837.27L291.15,1837.55L294.18,1837.83L297.20,1838.09L300.22,1838.35L303.24,1838.60L306.25,1838.85L309.26,1839.09L312.27,1839.32L315.28,1839.55L318.28,1839.77L321.28,1839.99L324.27,1840.20L327.27,1840.42L330.26,1840.63L333.25,1840.84L336.23,1841.04L339.21,1841.25L342.19,1841.45L345.16,1841.66L348.13,1841.87L351.10,1842.07L354.07,1842.28L357.03,1842.48L359.99,1842.69L362.96,1842.89L365.92,1843.09L368.88,1843.29L371.84,1843.49L374.80,1843.69L377.77,1843.88L380.73,1844.08L383.70,1844.27L386.67,1844.46L389.64,1844.64L392.62,1844.82L395.60,1845.00L398.58,1845.18L401.57,1845.35L404.56,1845.51L407.56,1845.68L410.56,1845.84L413.57,1845.99L416.58,1846.14L419.60,1846.28" stroke-width="1.30"/>
<path d="M52.00,1375.20L52.05,1378.22L52.10,1381.24L52.17,1384.26L52.24,1387.27L52.33,1390.28L52.42,1393.30L52.52,1396.31L52.64,1399.32L52.76,1402.33L52.89,1405.33L53.03,1408.34L53.18,1411.34L53.33,1414.34L53.50,1417.34L53.67,1420.34L53.85,1423.34L54.04,1426.34L54.24,1429.34L54.45,1432.33L54.66,1435.33L54.88,1438.32L55.11,1441.31L55.35,1444.30L55.60,1447.29L55.85,1450.28L56.11,1453.27L56.38,1456.26L56.65,1459.24L56.93,1462.23L57.22,1465.21L57.52,1468.20L57.82,1471.18L58.13,1474.16L58.45,1477.14L58.77,1480.12L59.10,1483.10L59.44,1486.08L59.78,1489.06L60.13,1492.04L60.48,1495.01L60.84,1497.99L61.21,1500.97L61.58,1503.94L61.96,1506.92L62.34,1509.89L62.73,1512.86L63.13,1515.84L63.53,1518.81L63.93,1521.78L64.34,1524.76L64.76,1527.73L65.18,1530.70L65.60,1533.67L66.03,1536.64L66.47,1539.61L66.91,1542.59L67.35,1545.56L67.80,1548.53L68.25,1551.50L68.71,1554.47L69.17,1557.44L69.63,1560.41L70.10,1563.38L70.58,1566.35L71.05,1569.32L71.53,1572.29L72.02,1575.26L72.51,1578.23L73.00,1581.21L73.49,1584.18L73.99,1587.15L74.49,1590.12L74.99,1593.09L75.50,1596.06L76.01,1599.04L76.52,1602.01L77.03,1604.98L77.55,1607.96L78.07,1610.93L78.59,1613.91L79.12,1616.88L79.64,1619.86L80.17,1622.83L80.70,1625.81L81.23,1628.79L81.77,1631.76L82.30,1634.74L82.84,1637.72L83.38,1640.70L83.92,1643.68L84.46,1646.66L85.01,1649.64L85.55,1652.63L86.09,1655.61L86.64,1658.60L87.19,1661.58L87.73,1664.57L88.28,1667.55L88.83,1670.54L89.38,1673.53L89.93,1676.52L90.48,1679.51L91.03,1682.51L91.58,1685.50L92.13,1688.49L92.68,1691.49L93.23,1694.49L93.78,1697.48L94.34,1700.48L94.89,1703.48L95.45,1706.47L96.01,1709.47L96.58,1712.46L97.15,1715.45L97.73,1718.44L98.33,1721.42L98.93,1724.40L99.54,1727.37L100.16,1730.34L100.80,1733.30L101.45,1736.26L102.12,1739.20L102.81,1742.14L103.51,1745.07L104.23,1747.99L104.97,1750.90L105.73,1753.80L106.52,1756.68L107.32,1759.56L108.15,1762.42L109.01,1765.27L109.89,1768.11L110.80,1770.93L111.74,1773.74L112.71,1776.53L113.71,1779.30L114.74,1782.06L115.80,1784.80L116.90,1787.52L118.03,1790.23L119.20,1792.91L120.40,1795.57L121.65,1798.22L122.93,1800.84L124.26,1803.44L125.62,1806.02L127.03,1808.58L128.48,1811.11L129.98,1813.62L131.52,1816.10L133.11,1818.56L134.75,1820.99L136.44,1823.39L138.18,1825.77L139.97,1828.12L141.81,1830.44L143.70,1832.74L145.65,1835.00L147.66,1837.23L149.72,1839.43L151.84,1841.60L154.02,1843.74L156.26,1845.84L158.56,1847.91" stroke-width="1.30"/>
<path d="M52.00,1375.20L52.03,1378.28L52.07,1381.35L52.11,1384.42L52.15,1387.49L52.20,1390.56L52.25,1393.62L52.31,1396.67L52.38,1399.73L52.44,1402.78L52.52,1405.82L52.59,1408.87L52.67,1411.91L52.76,1414.94L52.85,1417.98L52.94,1421.01L53.04,1424.04L53.15,1427.06L53.25,1430.08L53.37,1433.10L53.48,1436.12L53.60,1439.13L53.73,1442.14L53.86,1445.15L53.99,1448.16L54.13,1451.16L54.27,1454.16L54.42,1457.16L54.57,1460.16L54.73,1463.16L54.89,1466.15L55.05,1469.14L55.22,1472.13L55.39,1475.11L55.57,1478.10L55.75,1481.08L55.93,1484.06L56.12,1487.04L56.31,1490.02L56.51,1492.99L56.71,1495.97L56.92,1498.94L57.13,1501.91L57.34,1504.88L57.56,1507.85L57.78,1510.81L58.00,1513.78L58.23,1516.74L58.46,1519.71L58.70,1522.67L58.94,1525.63L59.19,1528.59L59.43,1531.55L59.69,1534.51L59.94,1537.47L60.20,1540.42L60.47,1543.38L60.73,1546.33L61.00,1549.29L61.28,1552.24L61.56,1555.20L61.84,1558.15L62.13,1561.11L62.42,1564.06L62.71,1567.01L63.01,1569.97L63.31,1572.92L63.61,1575.87L63.92,1578.82L64.23,1581.78L64.54,1584.73L64.86,1587.68L65.19,1590.64L65.51,1593.59L65.84,1596.54L66.17,1599.50L66.51,1602.45L66.85,1605.41L67.19,1608.37L67.54,1611.32L67.89,1614.28L68.24,1617.24L68.60,1620.20L68.96,1623.16L69.32,1626.12L69.69,1629.08L70.06,1632.04L70.43,1635.01L70.81,1637.97L71.19,1640.94L71.57,1643.91L71.96,1646.88L72.34,1649.85L72.74,1652.82L73.13,1655.79L73.53,1658.77L73.93,1661.74L74.34,1664.72L74.75,1667.70L75.16,1670.69L75.57,1673.67L75.99,1676.66L76.41,1679.64L76.83,1682.63L77.26,1685.62L77.69,1688.62L78.12,1691.61L78.56,1694.61L79.00,1697.61L79.44,1700.62L79.88,1703.62L80.33,1706.63L80.78,1709.64L81.23,1712.66L81.69,1715.67L82.15,1718.69L82.61,1721.71L83.07,1724.74L83.54,1727.76L84.01,1730.79L84.48,1733.83L84.96,1736.86L85.44,1739.90L85.92,1742.94L86.40,1745.99L86.89,1749.04L87.38,1752.09L87.87,1755.15L88.36,1758.21L88.86,1761.27L89.36,1764.34L89.86,1767.41L90.37,1770.48L90.88,1773.55L91.40,1776.62L91.93,1779.69L92.47,1782.76L93.02,1785.82L93.58,1788.89L94.15,1791.95L94.73,1795.00L95.33,1798.05L95.94,1801.09L96.57,1804.12L97.22,1807.15L97.89,1810.16L98.57,1813.17L99.28,1816.16L100.00,1819.14L100.75,1822.11L101.52,1825.06L102.32,1828.00L103.14,1830.93L103.99,1833.84L104.87,1836.73L105.77,1839.60L106.71,1842.46L107.68,1845.29L108.67,1848.11L109.70,1850.90L110.77,1853.67L111.87,1856.42L113.00,1859.14L114.17,1861.84L115.38,1864.52L116.63,1867.16L117.92,1869.78L119.25,1872.37L120.62,1874.94L122.04,1877.47L123.50,1879.97L125.00,1882.44L126.55,1884.88L128.15,1887.28L129.80,1889.65L131.49,1891.98L133.24,1894.28L135.04,1896.54L136.89,1898.77L138.79,1900.95L140.75,1903.10L142.77,1905.20L144.84,1907.27L146.96,1909.29L149.15,1911.27L151.40,1913.21L153.71,1915.10L156.07,1916.94L158.51,1918.74L161.00,1920.50L163.57,1922.20" stroke-width="1.30"/>
<path d="M52.00,1375.20L52.08,1378.23L52.15,1381.26L52.22,1384.28L52.30,1387.31L52.37,1390.33L52.44,1393.36L52.51,1396.38L52.58,1399.40L52.65,1402.42L52.72,1405.44L52.79,1408.46L52.86,1411.47L52.93,1414.49L53.00,1417.50L53.07,1420.51L53.14,1423.53L53.21,1426.54L53.28,1429.55L53.35,1432.56L53.42,1435.56L53.49,1438.57L53.56,1441.58L53.63,1444.58L53.71,1447.59L53.78,1450.59L53.85,1453.59L53.93,1456.60L54.01,1459.60L54.08,1462.60L54.16,1465.60L54.24,1468.60L54.32,1471.60L54.40,1474.59L54.49,1477.59L54.57,1480.59L54.66,1483.58L54.75,1486.58L54.84,1489.57L54.93,1492.57L55.02,1495.56L55.12,1498.55L55.21,1501.55L55.31,1504.54L55.41,1507.53L55.52,1510.52L55.62,1513.51L55.73,1516.50L55.84,1519.49L55.96,1522.48L56.07,1525.47L56.19,1528.46L56.31,1531.45L56.43,1534.44L56.56,1537.43L56.69,1540.42L56.82,1543.41L56.96,1546.40L57.10,1549.38L57.24,1552.37L57.38,1555.36L57.53,1558.35L57.68,1561.34L57.84,1564.32L58.00,1567.31L58.16,1570.30L58.32,1573.29L58.49,1576.28L58.67,1579.26L58.84,1582.25L59.03,1585.24L59.21,1588.23L59.40,1591.22L59.59,1594.21L59.79,1597.19L59.99,1600.18L60.20,1603.17L60.41,1606.16L60.63,1609.15L60.85,1612.14L61.07,1615.13L61.30,1618.12L61.54,1621.12L61.78,1624.11L62.02,1627.10L62.27,1630.09L62.52,1633.09L62.78,1636.08L63.05,1639.07L63.32,1642.07L63.59,1645.06L63.87,1648.06L64.16,1651.05L64.45,1654.05L64.74,1657.04L65.04,1660.04L65.35,1663.04L65.66,1666.03L65.97,1669.03L66.29,1672.03L66.62,1675.03L66.95,1678.03L67.28,1681.02L67.62,1684.02L67.96,1687.02L68.31,1690.02L68.67,1693.02L69.03,1696.02L69.39,1699.02L69.76,1702.02L70.13,1705.02L70.51,1708.02L70.90,1711.02L71.28,1714.01L71.68,1717.01L72.07,1720.01L72.48,1723.01L72.88,1726.01L73.30,1729.01L73.71,1732.01L74.13,1735.01L74.56,1738.01L74.99,1741.01L75.43,1744.01L75.87,1747.01L76.31,1750.01L76.76,1753.01L77.21,1756.00L77.67,1759.00L78.14,1762.00L78.61,1765.00L79.08,1768.00L79.56,1770.99L80.04,1773.99L80.53,1776.98L81.03,1779.98L81.54,1782.97L82.05,1785.96L82.57,1788.95L83.10,1791.93L83.64,1794.91L84.18,1797.90L84.74,1800.87L85.30,1803.85L85.88,1806.82L86.46,1809.79L87.06,1812.75L87.67,1815.71L88.29,1818.67L88.92,1821.62L89.56,1824.57L90.22,1827.52L90.89,1830.45L91.57,1833.39L92.27,1836.32L92.98,1839.24L93.71,1842.16L94.45,1845.07L95.21,1847.97L95.98,1850.87L96.77,1853.76L97.58,1856.65L98.40,1859.53L99.24,1862.40L100.10,1865.26L100.97,1868.12L101.87,1870.97L102.78,1873.81L103.71,1876.64L104.66,1879.47L105.63,1882.28L106.63,1885.09L107.64,1887.89L108.67,1890.67L109.73,1893.45L110.81,1896.22L111.91,1898.98L113.03,1901.73L114.17,1904.47L115.34,1907.20L116.53,1909.92L117.75,1912.63L118.99,1915.32L120.26,1918.01L121.55,1920.68L122.87,1923.34L124.21,1925.99L125.58,1928.63L126.98,1931.26L128.40,1933.87L129.85,1936.47L131.33,1939.06L132.84,1941.63L134.37,1944.19L135.94,1946.74L137.54,1949.27L139.16,1951.79L140.82,1954.30L142.50,1956.79L144.22,1959.27L145.97,1961.73L147.75,1964.17L149.56,1966.60" stroke-width="1.30"/>
<path d="M51.50,1375.20L51.54,1378.25L51.59,1381.30L51.63,1384.35L51.67,1387.40L51.72,1390.44L51.77,1393.48L51.82,1396.53L51.87,1399.57L51.92,1402.61L51.97,1405.64L52.02,1408.68L52.08,1411.72L52.13,1414.75L52.19,1417.78L52.25,1420.82L52.31,1423.85L52.37,1426.87L52.44,1429.90L52.50,1432.93L52.57,1435.95L52.64,1438.98L52.70,1442.00L52.78,1445.02L52.85,1448.04L52.92,1451.06L53.00,1454.08L53.08,1457.10L53.16,1460.11L53.24,1463.13L53.32,1466.14L53.40,1469.15L53.49,1472.16L53.58,1475.17L53.67,1478.18L53.76,1481.19L53.86,1484.20L53.95,1487.21L54.05,1490.21L54.15,1493.22L54.25,1496.22L54.36,1499.22L54.46,1502.23L54.57,1505.23L54.68,1508.23L54.79,1511.23L54.91,1514.23L55.02,1517.23L55.14,1520.22L55.26,1523.22L55.39,1526.21L55.51,1529.21L55.64,1532.20L55.77,1535.20L55.90,1538.19L56.04,1541.18L56.18,1544.17L56.32,1547.17L56.46,1550.16L56.60,1553.15L56.75,1556.13L56.90,1559.12L57.05,1562.11L57.21,1565.10L57.37,1568.09L57.53,1571.07L57.69,1574.06L57.86,1577.04L58.02,1580.03L58.19,1583.01L58.37,1586.00L58.55,1588.98L58.72,1591.96L58.91,1594.95L59.09,1597.93L59.28,1600.91L59.47,1603.90L59.67,1606.88L59.86,1609.86L60.06,1612.84L60.26,1615.82L60.47,1618.80L60.68,1621.78L60.89,1624.76L61.11,1627.74L61.33,1630.72L61.55,1633.70L61.77,1636.68L62.00,1639.66L62.23,1642.64L62.46,1645.62L62.70,1648.60L62.94,1651.58L63.19,1654.55L63.43,1657.53L63.69,1660.51L63.94,1663.49L64.20,1666.47L64.46,1669.45L64.72,1672.43L64.99,1675.41L65.26,1678.39L65.54,1681.36L65.82,1684.34L66.10,1687.32L66.39,1690.30L66.68,1693.28L66.97,1696.26L67.27,1699.24L67.57,1702.22L67.87,1705.20L68.18,1708.18L68.49,1711.16L68.81,1714.15L69.13,1717.13L69.45,1720.11L69.78,1723.09L70.11,1726.07L70.45,1729.06L70.79,1732.04L71.13,1735.02L71.48,1738.01L71.83,1740.99L72.19,1743.98L72.55,1746.96L72.91,1749.95L73.28,1752.93L73.65,1755.92L74.03,1758.91L74.41,1761.89L74.79,1764.88L75.18,1767.87L75.58,1770.86L75.97,1773.85L76.38,1776.84L76.78,1779.83L77.19,1782.82L77.61,1785.82L78.03,1788.81L78.45,1791.80L78.88,1794.80L79.32,1797.79L79.75,1800.79L80.20,1803.79L80.64,1806.78L81.10,1809.78L81.55,1812.78L82.01,1815.78L82.48,1818.78L82.95,1821.78L83.42,1824.79L83.90,1827.79L84.39,1830.79L84.88,1833.80L85.37,1836.80L85.87,1839.81L86.38,1842.82L86.89,1845.83L87.40,1848.84L87.92,1851.85L88.44,1854.86L88.97,1857.87L89.51,1860.89L90.05,1863.90L90.59,1866.92L91.14,1869.94L91.69,1872.96L92.25,1875.97L92.82,1879.00L93.39,1882.02L93.97,1885.04L94.55,1888.06L95.14,1891.08L95.74,1894.10L96.35,1897.12L96.97,1900.13L97.60,1903.14L98.25,1906.15L98.91,1909.15L99.59,1912.14L100.28,1915.13L100.99,1918.10L101.72,1921.07L102.47,1924.03L103.23,1926.98L104.02,1929.91L104.83,1932.84L105.67,1935.75L106.53,1938.65L107.41,1941.53L108.33,1944.40L109.27,1947.25L110.24,1950.09L111.23,1952.90L112.26,1955.70L113.32,1958.48L114.42,1961.24L115.55,1963.98L116.71,1966.70L117.91,1969.39L119.14,1972.07L120.42,1974.71L121.73,1977.33L123.08,1979.93L124.48,1982.50L125.91,1985.04L127.39,1987.56L128.92,1990.05L130.49,1992.50L132.10,1994.93L133.77,1997.32L135.48,1999.69L137.24,2002.02L139.05,2004.31L140.92,2006.57L142.84,2008.79L144.82,2010.95L146.86,2013.06L148.97,2015.11L151.15,2017.08L153.40,2018.98L155.72,2020.80L158.13,2022.53L160.62,2024.16L163.20,2025.68L165.86,2027.10L168.62,2028.41L171.48,2029.59L174.43,2030.64L177.49,2031.55" stroke-width="1.30"/>
<path d="M51.50,1375.20L51.49,1378.27L51.48,1381.34L51.48,1384.41L51.48,1387.47L51.48,1390.54L51.48,1393.60L51.49,1396.66L51.50,1399.71L51.52,1402.76L51.53,1405.81L51.55,1408.86L51.57,1411.91L51.60,1414.95L51.62,1418.00L51.65,1421.04L51.69,1424.07L51.72,1427.11L51.76,1430.14L51.80,1433.18L51.85,1436.21L51.89,1439.23L51.94,1442.26L52.00,1445.28L52.05,1448.31L52.11,1451.33L52.17,1454.35L52.24,1457.36L52.30,1460.38L52.37,1463.39L52.44,1466.40L52.52,1469.41L52.60,1472.42L52.68,1475.43L52.76,1478.43L52.85,1481.44L52.94,1484.44L53.03,1487.44L53.12,1490.44L53.22,1493.44L53.32,1496.43L53.42,1499.43L53.53,1502.42L53.64,1505.41L53.75,1508.41L53.86,1511.40L53.98,1514.38L54.10,1517.37L54.22,1520.36L54.34,1523.34L54.47,1526.33L54.60,1529.31L54.73,1532.29L54.87,1535.27L55.01,1538.25L55.15,1541.23L55.29,1544.21L55.44,1547.19L55.59,1550.16L55.74,1553.14L55.89,1556.11L56.05,1559.08L56.21,1562.06L56.37,1565.03L56.54,1568.00L56.70,1570.97L56.87,1573.94L57.05,1576.91L57.22,1579.88L57.40,1582.85L57.58,1585.82L57.76,1588.78L57.95,1591.75L58.14,1594.72L58.33,1597.68L58.53,1600.65L58.72,1603.61L58.92,1606.58L59.12,1609.54L59.33,1612.51L59.54,1615.47L59.75,1618.43L59.96,1621.40L60.17,1624.36L60.39,1627.32L60.61,1630.29L60.84,1633.25L61.06,1636.21L61.29,1639.18L61.52,1642.14L61.75,1645.10L61.99,1648.07L62.23,1651.03L62.47,1653.99L62.71,1656.96L62.96,1659.92L63.21,1662.89L63.46,1665.85L63.71,1668.81L63.97,1671.78L64.23,1674.74L64.49,1677.71L64.75,1680.68L65.02,1683.64L65.29,1686.61L65.56,1689.58L65.84,1692.54L66.11,1695.51L66.39,1698.48L66.67,1701.45L66.96,1704.42L67.25,1707.39L67.54,1710.36L67.83,1713.34L68.12,1716.31L68.42,1719.28L68.72,1722.26L69.02,1725.23L69.32,1728.21L69.63,1731.18L69.94,1734.16L70.25,1737.14L70.57,1740.12L70.88,1743.10L71.20,1746.08L71.53,1749.07L71.85,1752.05L72.18,1755.04L72.51,1758.02L72.84,1761.01L73.17,1764.00L73.51,1766.99L73.85,1769.98L74.19,1772.97L74.53,1775.97L74.88,1778.96L75.23,1781.96L75.58,1784.96L75.93,1787.96L76.29,1790.96L76.65,1793.96L77.01,1796.96L77.37,1799.97L77.74,1802.97L78.11,1805.98L78.48,1808.99L78.85,1812.01L79.23,1815.02L79.60,1818.03L79.98,1821.05L80.37,1824.07L80.75,1827.09L81.14,1830.11L81.53,1833.14L81.92,1836.16L82.31,1839.19L82.71,1842.22L83.11,1845.25L83.51,1848.29L83.92,1851.32L84.32,1854.36L84.73,1857.40L85.14,1860.45L85.56,1863.49L85.97,1866.54L86.39,1869.59L86.81,1872.64L87.23,1875.69L87.66,1878.75L88.09,1881.80L88.52,1884.86L88.95,1887.93L89.39,1890.99L89.83,1894.05L90.28,1897.12L90.73,1900.18L91.19,1903.24L91.66,1906.30L92.14,1909.36L92.62,1912.41L93.12,1915.47L93.63,1918.52L94.14,1921.56L94.67,1924.60L95.22,1927.63L95.77,1930.66L96.34,1933.69L96.93,1936.70L97.53,1939.71L98.14,1942.71L98.77,1945.70L99.42,1948.69L100.09,1951.66L100.78,1954.62L101.49,1957.58L102.22,1960.52L102.97,1963.45L103.74,1966.37L104.53,1969.28L105.35,1972.17L106.19,1975.05L107.06,1977.92L107.95,1980.77L108.86,1983.60L109.81,1986.42L110.78,1989.23L111.78,1992.02L112.81,1994.79L113.87,1997.54L114.96,2000.27L116.08,2002.99L117.23,2005.68L118.41,2008.36L119.63,2011.01L120.88,2013.65L122.17,2016.26L123.49,2018.85L124.85,2021.42L126.24,2023.97L127.67,2026.49L129.14,2028.99L130.65,2031.46L132.20,2033.91L133.79,2036.34L135.42,2038.73L137.10,2041.10L138.81,2043.44L140.57,2045.74L142.38,2048.01L144.24,2050.23L146.15,2052.42L148.11,2054.56L150.12,2056.66L152.19,2058.71L154.31,2060.70L156.49,2062.65L158.72,2064.53L161.02,2066.36L163.38,2068.13L165.80,2069.84L168.28,2071.47L170.83,2073.04L173.45,2074.54L176.14,2075.97L178.89,2077.32L181.72,2078.59L184.62,2079.78L187.60,2080.88L190.65,2081.90" stroke-width="1.30"/>
<path d="M51.00,1375.20L50.90,1378.24L50.81,1381.27L50.72,1384.31L50.63,1387.34L50.55,1390.37L50.47,1393.41L50.39,1396.44L50.32,1399.47L50.25,1402.50L50.19,1405.53L50.13,1408.56L50.07,1411.58L50.02,1414.61L49.97,1417.64L49.93,1420.66L49.89,1423.69L49.85,1426.71L49.82,1429.73L49.79,1432.76L49.76,1435.78L49.74,1438.80L49.72,1441.82L49.70,1444.84L49.69,1447.86L49.68,1450.87L49.68,1453.89L49.68,1456.91L49.68,1459.92L49.69,1462.94L49.70,1465.95L49.71,1468.97L49.73,1471.98L49.75,1474.99L49.77,1478.01L49.80,1481.02L49.83,1484.03L49.87,1487.04L49.90,1490.05L49.95,1493.06L49.99,1496.07L50.04,1499.08L50.09,1502.08L50.15,1505.09L50.21,1508.10L50.27,1511.10L50.33,1514.11L50.40,1517.11L50.48,1520.12L50.55,1523.12L50.63,1526.13L50.71,1529.13L50.80,1532.13L50.89,1535.13L50.98,1538.14L51.08,1541.14L51.18,1544.14L51.28,1547.14L51.39,1550.14L51.49,1553.14L51.61,1556.14L51.72,1559.14L51.84,1562.14L51.96,1565.13L52.09,1568.13L52.22,1571.13L52.35,1574.13L52.48,1577.12L52.62,1580.12L52.76,1583.12L52.91,1586.11L53.05,1589.11L53.20,1592.10L53.36,1595.10L53.51,1598.10L53.67,1601.09L53.84,1604.08L54.00,1607.08L54.17,1610.07L54.34,1613.07L54.52,1616.06L54.69,1619.05L54.88,1622.05L55.06,1625.04L55.25,1628.03L55.44,1631.02L55.63,1634.02L55.82,1637.01L56.02,1640.00L56.22,1642.99L56.43,1645.99L56.64,1648.98L56.85,1651.97L57.06,1654.96L57.27,1657.95L57.49,1660.94L57.72,1663.93L57.94,1666.93L58.17,1669.92L58.40,1672.91L58.63,1675.90L58.87,1678.89L59.10,1681.88L59.35,1684.87L59.59,1687.86L59.84,1690.85L60.09,1693.84L60.34,1696.84L60.59,1699.83L60.85,1702.82L61.11,1705.81L61.37,1708.80L61.64,1711.79L61.91,1714.78L62.18,1717.77L62.45,1720.77L62.73,1723.76L63.01,1726.75L63.29,1729.74L63.57,1732.73L63.86,1735.72L64.15,1738.72L64.44,1741.71L64.73,1744.70L65.03,1747.69L65.33,1750.69L65.63,1753.68L65.93,1756.67L66.24,1759.67L66.55,1762.66L66.86,1765.65L67.17,1768.65L67.49,1771.64L67.81,1774.64L68.13,1777.63L68.45,1780.63L68.78,1783.62L69.11,1786.62L69.44,1789.61L69.77,1792.61L70.11,1795.61L70.45,1798.60L70.79,1801.60L71.13,1804.60L71.47,1807.59L71.82,1810.59L72.17,1813.59L72.52,1816.59L72.88,1819.59L73.23,1822.59L73.59,1825.59L73.95,1828.59L74.31,1831.59L74.68,1834.59L75.05,1837.59L75.42,1840.59L75.79,1843.60L76.16,1846.60L76.54,1849.60L76.91,1852.61L77.29,1855.61L77.68,1858.62L78.06,1861.62L78.45,1864.63L78.84,1867.63L79.23,1870.64L79.62,1873.65L80.01,1876.65L80.41,1879.66L80.81,1882.67L81.21,1885.68L81.61,1888.69L82.02,1891.70L82.43,1894.71L82.84,1897.72L83.26,1900.73L83.68,1903.74L84.11,1906.75L84.54,1909.75L84.97,1912.76L85.41,1915.76L85.86,1918.77L86.31,1921.77L86.77,1924.77L87.24,1927.77L87.71,1930.77L88.19,1933.76L88.68,1936.76L89.18,1939.75L89.68,1942.74L90.19,1945.72L90.71,1948.71L91.24,1951.69L91.78,1954.66L92.33,1957.64L92.89,1960.61L93.46,1963.58L94.05,1966.54L94.64,1969.50L95.24,1972.46L95.86,1975.41L96.48,1978.36L97.12,1981.30L97.78,1984.24L98.44,1987.17L99.12,1990.10L99.81,1993.02L100.52,1995.94L101.24,1998.86L101.97,2001.76L102.72,2004.67L103.49,2007.56L104.27,2010.45L105.06,2013.34L105.87,2016.22L106.70,2019.09L107.55,2021.95L108.41,2024.81L109.29,2027.66L110.18,2030.51L111.10,2033.35L112.03,2036.18L112.98,2039.00L113.96,2041.82L114.95,2044.62L115.96,2047.42L116.99,2050.21L118.05,2052.99L119.13,2055.76L120.24,2058.52L121.37,2061.27L122.53,2064.00L123.71,2066.73L124.93,2069.44L126.17,2072.14L127.44,2074.83L128.74,2077.50L130.07,2080.16L131.44,2082.81L132.84,2085.44L134.27,2088.06L135.74,2090.66L137.24,2093.24L138.78,2095.81L140.35,2098.37L141.97,2100.90L143.62,2103.42L145.31,2105.92L147.05,2108.40L148.82,2110.86L150.64,2113.30L152.50,2115.72" stroke-width="1.30"/>
<path d="M51.00,1375.20L51.04,1378.20L51.09,1381.19L51.13,1384.19L51.17,1387.19L51.21,1390.19L51.25,1393.19L51.29,1396.19L51.33,1399.19L51.36,1402.19L51.40,1405.19L51.43,1408.19L51.46,1411.19L51.50,1414.19L51.53,1417.19L51.56,1420.19L51.59,1423.19L51.62,1426.20L51.65,1429.20L51.68,1432.20L51.71,1435.21L51.74,1438.21L51.76,1441.21L51.79,1444.22L51.82,1447.22L51.84,1450.23L51.87,1453.23L51.90,1456.24L51.92,1459.24L51.95,1462.25L51.97,1465.26L52.00,1468.26L52.03,1471.27L52.05,1474.28L52.08,1477.28L52.10,1480.29L52.13,1483.30L52.16,1486.30L52.18,1489.31L52.21,1492.32L52.24,1495.33L52.26,1498.34L52.29,1501.34L52.32,1504.35L52.35,1507.36L52.38,1510.37L52.41,1513.38L52.44,1516.39L52.47,1519.40L52.50,1522.40L52.53,1525.41L52.57,1528.42L52.60,1531.43L52.64,1534.44L52.67,1537.45L52.71,1540.46L52.75,1543.47L52.79,1546.48L52.83,1549.49L52.87,1552.50L52.91,1555.51L52.95,1558.52L53.00,1561.53L53.04,1564.54L53.09,1567.55L53.14,1570.56L53.19,1573.57L53.24,1576.58L53.29,1579.59L53.35,1582.60L53.41,1585.61L53.46,1588.61L53.52,1591.62L53.58,1594.63L53.65,1597.64L53.71,1600.65L53.78,1603.66L53.84,1606.67L53.91,1609.68L53.98,1612.69L54.06,1615.70L54.13,1618.71L54.21,1621.71L54.29,1624.72L54.37,1627.73L54.46,1630.74L54.54,1633.75L54.63,1636.76L54.72,1639.76L54.82,1642.77L54.91,1645.78L55.01,1648.79L55.11,1651.79L55.21,1654.80L55.32,1657.81L55.43,1660.81L55.54,1663.82L55.65,1666.82L55.77,1669.83L55.88,1672.84L56.01,1675.84L56.13,1678.85L56.26,1681.85L56.39,1684.85L56.52,1687.86L56.66,1690.86L56.79,1693.87L56.94,1696.87L57.08,1699.87L57.23,1702.88L57.38,1705.88L57.54,1708.88L57.69,1711.88L57.85,1714.88L58.02,1717.88L58.19,1720.89L58.36,1723.89L58.53,1726.89L58.71,1729.89L58.89,1732.89L59.08,1735.88L59.27,1738.88L59.46,1741.88L59.66,1744.88L59.86,1747.88L60.06,1750.87L60.27,1753.87L60.48,1756.87L60.70,1759.86L60.92,1762.86L61.14,1765.85L61.37,1768.85L61.60,1771.84L61.83,1774.83L62.07,1777.83L62.32,1780.82L62.57,1783.81L62.82,1786.80L63.08,1789.79L63.34,1792.79L63.60,1795.78L63.87,1798.77L64.15,1801.75L64.43,1804.74L64.71,1807.73L65.00,1810.72L65.29,1813.71L65.59,1816.69L65.89,1819.68L66.20,1822.66L66.51,1825.65L66.83,1828.63L67.15,1831.62L67.48,1834.60L67.81,1837.58L68.15,1840.56L68.49,1843.54L68.83,1846.52L69.19,1849.50L69.54,1852.48L69.91,1855.46L70.27,1858.44L70.65,1861.42L71.02,1864.39L71.41,1867.37L71.80,1870.34L72.19,1873.32L72.59,1876.29L73.00,1879.27L73.41,1882.24L73.83,1885.21L74.25,1888.18L74.68,1891.15L75.11,1894.12L75.55,1897.09L76.00,1900.06L76.45,1903.03L76.91,1905.99L77.37,1908.96L77.84,1911.92L78.31,1914.89L78.80,1917.85L79.28,1920.81L79.78,1923.78L80.28,1926.74L80.78,1929.70L81.30,1932.66L81.81,1935.62L82.34,1938.57L82.87,1941.53L83.41,1944.49L83.95,1947.44L84.50,1950.40L85.06,1953.35L85.63,1956.30L86.20,1959.25L86.77,1962.21L87.36,1965.16L87.95,1968.11L88.55,1971.05L89.15,1974.00L89.76,1976.95L90.38,1979.89L91.01,1982.84L91.64,1985.78L92.28,1988.72L92.92,1991.67L93.57,1994.61L94.23,1997.55L94.89,2000.49L95.57,2003.42L96.24,2006.36L96.92,2009.30L97.61,2012.23L98.31,2015.17L99.01,2018.10L99.71,2021.03L100.42,2023.97L101.14,2026.90L101.86,2029.83L102.59,2032.75L103.33,2035.68L104.06,2038.61L104.81,2041.53L105.56,2044.46L106.31,2047.38L107.07,2050.31L107.84,2053.23L108.61,2056.15L109.38,2059.07L110.16,2061.99L110.95,2064.91L111.73,2067.82L112.53,2070.74L113.32,2073.65L114.13,2076.57L114.93,2079.48L115.74,2082.39L116.56,2085.30L117.38,2088.21L118.20,2091.12L119.03,2094.03L119.86,2096.94L120.69,2099.84L121.53,2102.75L122.38,2105.65L123.22,2108.56L124.07,2111.46L124.92,2114.36L125.78,2117.26L126.64,2120.15L127.52,2123.04L128.42,2125.91L129.34,2128.76L130.30,2131.60L131.29,2134.40L132.32,2137.17L133.40,2139.90L134.54,2142.59L135.74,2145.23L137.00,2147.83L138.34,2150.36L139.75,2152.84L141.25,2155.24L142.84,2157.58L144.53,2159.85L146.32,2162.03L148.21,2164.13L150.22,2166.14L152.35,2168.05L154.61,2169.87L156.99,2171.58L159.52,2173.18L162.19,2174.67L165.00,2176.05L167.98,2177.30" stroke-width="1.30"/>
<path d="M275.00,67.70C290.00,59.13 303.57,49.64 320.00,42.00C338.24,33.52 358.95,25.46 380.00,20.00C402.17,14.25 425.82,11.42 450.00,9.00C475.71,6.43 504.22,5.88 530.00,5.50C554.11,5.15 581.41,5.52 600.00,6.50C612.35,7.15 620.50,8.38 630.75,9.32" stroke-width="1.30"/>
<path d="M336.30,71.20L399.80,59.78" stroke-width="1.30"/>
<path d="M560.50,36.50L630.77,29.40" stroke-width="1.30"/>
<path d="M336.30,92.70C374.20,95.13 409.48,97.35 450.00,100.00C496.54,103.05 550.01,106.33 600.00,110.00C650.01,113.67 707.66,117.83 750.00,122.00C781.19,125.07 804.06,128.33 831.09,131.50" stroke-width="1.30"/>
<path d="M287.30,107.90L443.26,179.05" stroke-width="1.30"/>
<path d="M531.00,209.90L533.80,211.06L536.60,212.22L539.41,213.36L542.23,214.50L545.06,215.63L547.89,216.75L550.72,217.86L553.56,218.97L556.40,220.07L559.25,221.17L562.10,222.27L564.95,223.37L567.81,224.46L570.66,225.56L573.52,226.65L576.38,227.75L579.23,228.85L582.09,229.95L584.94,231.05L587.80,232.16L590.65,233.28L593.50,234.40L596.34,235.53L599.19,236.67L602.02,237.82L604.86,238.98L607.69,240.14L610.51,241.32L613.32,242.52L616.13,243.72L618.94,244.94L621.73,246.18L624.52,247.43L627.30,248.70L630.07,249.98L632.83,251.28L635.57,252.61L638.31,253.95L641.04,255.31L643.75,256.70L646.46,258.11L649.15,259.54L651.83,261.00L654.49,262.48L657.14,263.99L659.77,265.52L662.39,267.08L664.99,268.67L667.58,270.30L670.15,271.95L672.70,273.63L675.24,275.34L677.76,277.09L680.25,278.87" stroke-width="1.30"/>
<path d="M732.50,285.70L898.22,166.92" stroke-width="1.30"/>
<path d="M267.60,387.20C285.07,376.47 301.98,364.41 320.00,355.00C337.80,345.71 356.56,337.80 375.00,331.00C392.86,324.42 410.90,320.10 428.86,314.65" stroke-width="1.30"/>
<path d="M292.30,388.50C344.87,376.67 402.08,362.99 450.00,353.00C489.89,344.69 526.38,338.91 560.00,331.90C588.65,325.93 612.88,319.99 639.32,314.03" stroke-width="1.30"/>
<path d="M292.30,401.00L295.28,401.12L298.27,401.23L301.25,401.35L304.24,401.47L307.23,401.59L310.21,401.71L313.20,401.83L316.19,401.95L319.18,402.07L322.17,402.19L325.16,402.32L328.15,402.44L331.14,402.57L334.14,402.69L337.13,402.82L340.12,402.94L343.12,403.07L346.11,403.20L349.11,403.33L352.10,403.46L355.10,403.59L358.09,403.73L361.09,403.86L364.09,404.00L367.09,404.13L370.09,404.27L373.09,404.41L376.09,404.55L379.09,404.69L382.09,404.83L385.09,404.98L388.09,405.12L391.09,405.27L394.09,405.42L397.09,405.57L400.10,405.72L403.10,405.87L406.10,406.03L409.11,406.18L412.11,406.34L415.12,406.50L418.12,406.66L421.13,406.82L424.13,406.99L427.14,407.15L430.14,407.32L433.15,407.49L436.16,407.66L439.16,407.83L442.17,408.01L445.18,408.18L448.18,408.36L451.19,408.54L454.20,408.73L457.21,408.91L460.21,409.10L463.22,409.29L466.23,409.48L469.24,409.67L472.24,409.87L475.25,410.06L478.26,410.26L481.27,410.46L484.28,410.67L487.29,410.88L490.30,411.08L493.30,411.30L496.31,411.51L499.32,411.73L502.33,411.94L505.34,412.17L508.35,412.39L511.36,412.62L514.36,412.84L517.37,413.08L520.38,413.31L523.39,413.55L526.40,413.79L529.40,414.03L532.41,414.27L535.42,414.52L538.43,414.77L541.44,415.03L544.44,415.28L547.45,415.54L550.46,415.80L553.46,416.07L556.47,416.34L559.48,416.61L562.48,416.88L565.49,417.16L568.49,417.44L571.50,417.72L574.50,418.01L577.51,418.30L580.51,418.59L583.52,418.89L586.52,419.19L589.52,419.49L592.53,419.80L595.53,420.11L598.53,420.42L601.53,420.74L604.54,421.06L607.54,421.38L610.54,421.71L613.54,422.04L616.54,422.37L619.54,422.71L622.54,423.05L625.54,423.40L628.53,423.75L631.53,424.10L634.53,424.46L637.53,424.82L640.52,425.18L643.52,425.55L646.51,425.92L649.51,426.29L652.50,426.67L655.50,427.06L658.49,427.44L661.48,427.84L664.47,428.23L667.46,428.63L670.45,429.03L673.44,429.44L676.43,429.85L679.42,430.27L682.41,430.69L685.40,431.12L688.38,431.55L691.37,431.98L694.35,432.42L697.34,432.86L700.32,433.30L703.31,433.76L706.29,434.21L709.27,434.67L712.25,435.13L715.23,435.60L718.21,436.08L721.19,436.55L724.16,437.04L727.14,437.52L730.12,438.02L733.09,438.51L736.07,439.02L739.04,439.52L742.01,440.03L744.98,440.55L747.95,441.07L750.92,441.59L753.89,442.13L756.86,442.66L759.83,443.20L762.79,443.75L765.76,444.30L768.72,444.85L771.68,445.41L774.65,445.98L777.61,446.55L780.57,447.13L783.52,447.71L786.48,448.30L789.44,448.89L792.39,449.49L795.35,450.09L798.30,450.70L801.25,451.31L804.20,451.94L807.15,452.56L810.10,453.20L813.04,453.84L815.98,454.49L818.92,455.15L821.86,455.81L824.80,456.48L827.73,457.16L830.66,457.85L833.59,458.54L836.51,459.25L839.44,459.96L842.36,460.68L845.27,461.41L848.19,462.15L851.10,462.90L854.00,463.66L856.91,464.43L859.81,465.21L862.70,466.00L865.60,466.80L868.48,467.61L871.37,468.43L874.25,469.26L877.13,470.11L880.00,470.96L882.87,471.83L885.73,472.71L888.59,473.60L891.44,474.50L894.29,475.42L897.14,476.34L899.97,477.28L902.81,478.24L905.64,479.21L908.46,480.19L911.28,481.18L914.09,482.19L916.90,483.21L919.70,484.25L922.50,485.30L925.29,486.36L928.07,487.44L930.85,488.54L933.62,489.65L936.39,490.77L939.14,491.91L941.90,493.07L944.64,494.25L947.38,495.43L950.11,496.64L952.84,497.86L955.55,499.10L958.27,500.36L960.97,501.63L963.67,502.92L966.35,504.23L969.03,505.56L971.71,506.90L974.37,508.26L977.03,509.64L979.68,511.04L982.32,512.46L984.96,513.90L987.58,515.35L990.20,516.83L992.81,518.33L995.41,519.84L998.00,521.38L1000.58,522.93L1003.15,524.51L1005.72,526.10L1008.27,527.72L1010.82,529.36L1013.36,531.01L1015.88,532.69L1018.40,534.40L1019.50,537.20L1020.58,540.00L1021.64,542.81L1022.68,545.62L1023.71,548.44L1024.71,551.26L1025.70,554.09L1026.68,556.92L1027.63,559.75L1028.57,562.59L1029.50,565.43L1030.41,568.27L1031.30,571.12L1032.17,573.98L1033.03,576.83L1033.88,579.69L1034.71,582.56L1035.52,585.43L1036.32,588.30L1037.11,591.17L1037.88,594.05L1038.64,596.93L1039.38,599.82L1040.11,602.70L1040.82,605.60L1041.52,608.49L1042.21,611.39L1042.89,614.29L1043.55,617.19L1044.20,620.10L1044.84,623.01L1045.46,625.92L1046.07,628.84L1046.67,631.76L1047.26,634.68L1047.84,637.60L1048.41,640.53L1048.96,643.46L1049.50,646.39L1050.04,649.33L1050.56,652.26L1051.07,655.20L1051.57,658.15L1052.06,661.09L1052.55,664.04L1053.02,666.99L1053.48,669.94L1053.93,672.89L1054.38,675.85L1054.81,678.80L1055.24,681.76L1055.66,684.72L1056.07,687.69L1056.47,690.65L1056.86,693.62L1057.25,696.59L1057.62,699.56L1057.99,702.53L1058.36,705.51L1058.71,708.48L1059.06,711.46L1059.41,714.44L1059.74,717.42L1060.07,720.40L1060.40,723.38L1060.72,726.36L1061.03,729.35L1061.34,732.34L1061.64,735.32L1061.93,738.31L1062.23,741.30L1062.51,744.29L1062.79,747.28L1063.07,750.28L1063.35,753.27L1063.62,756.27L1063.88,759.26L1064.14,762.26L1064.40,765.25L1064.66,768.25L1064.91,771.25L1065.16,774.25L1065.41,777.24L1065.65,780.24L1065.90,783.24L1066.14,786.24L1066.38,789.24L1066.61,792.24L1066.85,795.25L1067.08,798.25L1067.31,801.25L1067.54,804.25L1067.76,807.25L1067.99,810.25L1068.21,813.26L1068.43,816.26L1068.65,819.26L1068.87,822.27L1069.08,825.27L1069.30,828.27L1069.51,831.28L1069.73,834.28L1069.94,837.29L1070.15,840.29L1070.36,843.30L1070.56,846.30L1070.77,849.31L1070.98,852.31L1071.18,855.32L1071.38,858.32L1071.59,861.33L1071.79,864.33L1071.99,867.33L1072.19,870.34L1072.39,873.34L1072.59,876.35L1072.79,879.35L1072.99,882.36L1073.19,885.36L1073.39,888.37L1073.59,891.37L1073.79,894.38L1073.99,897.38L1074.19,900.38L1074.38,903.39L1074.58,906.39L1074.78,909.40L1074.98,912.40L1075.18,915.40L1075.38,918.40L1075.58,921.41L1075.78,924.41L1075.98,927.41L1076.18,930.41L1076.38,933.41L1076.58,936.41L1076.79,939.41L1076.99,942.41L1077.20,945.41L1077.40,948.41L1077.61,951.41L1077.81,954.41L1078.02,957.41L1078.23,960.41L1078.43,963.41L1078.64,966.41L1078.85,969.40L1079.06,972.40L1079.26,975.40L1079.47,978.40L1079.68,981.39L1079.89,984.39L1080.10,987.38L1080.31,990.38L1080.51,993.38L1080.72,996.37L1080.93,999.37L1081.14,1002.36L1081.35,1005.36L1081.55,1008.35L1081.76,1011.35L1081.97,1014.34L1082.18,1017.34L1082.38,1020.33L1082.59,1023.33L1082.79,1026.32L1083.00,1029.32L1083.20,1032.31L1083.41,1035.30L1083.61,1038.30L1083.81,1041.29L1084.02,1044.29L1084.22,1047.28L1084.42,1050.27L1084.62,1053.27L1084.82,1056.26L1085.01,1059.25L1085.21,1062.25L1085.41,1065.24L1085.60,1068.24L1085.80,1071.23L1085.99,1074.22L1086.18,1077.22L1086.37,1080.21L1086.56,1083.20L1086.75,1086.20L1086.94,1089.19L1087.12,1092.18L1087.31,1095.18L1087.49,1098.17L1087.67,1101.17L1087.85,1104.16L1088.03,1107.15L1088.21,1110.15L1088.39,1113.14L1088.56,1116.14L1088.73,1119.13L1088.90,1122.13L1089.07,1125.12L1089.24,1128.12L1089.40,1131.11L1089.57,1134.11L1089.73,1137.10L1089.89,1140.10L1090.05,1143.10L1090.20,1146.09L1090.36,1149.09L1090.51,1152.08L1090.66,1155.08L1090.81,1158.08L1090.95,1161.08L1091.10,1164.07L1091.24,1167.07L1091.38,1170.07L1091.51,1173.07L1091.65,1176.06L1091.78,1179.06L1091.91,1182.06L1092.03,1185.06L1092.16,1188.06L1092.28,1191.06L1092.40,1194.06L1092.52,1197.06L1092.63,1200.06L1092.74,1203.06L1092.85,1206.07L1092.96,1209.07L1093.06,1212.07L1093.16,1215.07L1093.26,1218.08L1093.35,1221.08L1093.44,1224.08L1093.53,1227.09L1093.61,1230.09L1093.70,1233.10L1093.77,1236.10" stroke-width="1.30"/>
<path d="M292.30,411.20C315.80,418.97 340.79,425.62 362.80,434.50C383.14,442.71 403.96,453.19 420.00,462.00C432.25,468.73 440.97,475.05 451.45,481.58" stroke-width="1.30"/>
<path d="M303.70,442.40C333.00,437.40 360.97,434.09 391.60,427.40C425.87,419.92 468.60,406.80 499.40,398.60C522.49,392.45 542.07,388.55 560.00,382.50C574.90,377.47 585.86,372.65 600.00,366.00C616.76,358.12 638.77,346.41 653.70,337.50C664.94,330.79 672.81,324.74 682.37,318.36" stroke-width="1.30"/>
<path d="M303.70,463.30L418.43,485.27" stroke-width="1.30"/>
<path d="M255.00,741.80C270.00,727.87 284.02,714.11 300.00,700.00C317.37,684.67 336.57,666.71 355.60,653.40C373.31,641.01 393.15,629.14 410.00,622.00C423.26,616.38 434.93,614.89 447.39,611.34" stroke-width="1.30"/>
<path d="M298.60,754.60L398.80,754.60" stroke-width="1.30"/>
<path d="M299.80,766.60L410.97,789.50" stroke-width="1.30"/>
<path d="M263.80,767.10L414.52,837.63" stroke-width="1.30"/>
<path d="M267.60,741.80L270.30,740.19L273.00,738.60L275.71,737.03L278.43,735.49L281.16,733.98L283.90,732.49L286.64,731.02L289.38,729.58L292.14,728.16L294.90,726.77L297.66,725.41L300.43,724.07L303.21,722.75L306.00,721.46L308.79,720.19L311.58,718.95L314.38,717.73L317.19,716.53L320.00,715.36L322.82,714.21L325.65,713.09L328.48,711.99L331.31,710.91L334.15,709.86L336.99,708.83L339.84,707.83L342.70,706.84L345.56,705.88L348.42,704.95L351.29,704.04L354.16,703.15L357.04,702.28L359.92,701.44L362.80,700.62L365.69,699.82L368.59,699.04L371.48,698.29L374.38,697.56L377.29,696.85L380.20,696.17L383.11,695.51L386.02,694.87L388.94,694.25L391.86,693.65L394.79,693.08L397.71,692.53L400.64,691.99L403.58,691.49L406.51,691.00L409.45,690.53L412.39,690.09L415.34,689.67L418.28,689.27L421.23,688.89L424.18,688.53L427.14,688.19L430.09,687.87L433.05,687.58L436.01,687.30L438.97,687.05L441.93,686.82L444.89,686.60L447.85,686.41L450.82,686.24L453.79,686.09L456.76,685.96L459.73,685.85L462.70,685.76L465.67,685.69L468.64,685.64L471.61,685.61L474.59,685.60L477.56,685.60L480.53,685.63L483.51,685.68L486.48,685.75L489.46,685.84L492.43,685.95L495.41,686.07L498.38,686.22L501.36,686.38L504.33,686.57L507.30,686.77L510.28,686.99L513.25,687.23L516.22,687.49L519.19,687.77L522.16,688.07L525.13,688.38L528.10,688.72L531.07,689.07L534.03,689.44L536.99,689.83L539.96,690.23L542.92,690.66L545.88,691.10L548.84,691.56L551.79,692.04L554.74,692.54L557.70,693.05L560.65,693.58L563.59,694.13L566.54,694.70L569.48,695.28L572.42,695.88L575.36,696.50L578.29,697.13L581.23,697.79L584.16,698.46L587.08,699.14L590.00,699.85L592.92,700.56L595.84,701.30L598.75,702.05L601.66,702.82L604.57,703.61L607.47,704.41L610.37,705.23L613.27,706.06L616.16,706.91L619.05,707.78L621.93,708.66L624.81,709.56L627.68,710.48L630.56,711.41L633.42,712.35L636.28,713.31L639.14,714.29L641.99,715.28L644.84,716.28L647.69,717.30L650.53,718.34L653.36,719.39L656.20,720.45L659.02,721.53L661.85,722.62L664.66,723.72L667.48,724.84L670.29,725.98L673.09,727.12L675.89,728.28L678.69,729.45L681.48,730.64L684.27,731.84L687.05,733.05L689.83,734.27L692.60,735.50L695.37,736.75L698.13,738.01L700.89,739.28L703.65,740.57L706.40,741.86L709.14,743.17L711.88,744.48L714.62,745.81L717.35,747.15L720.07,748.50L722.80,749.87L725.51,751.24L728.23,752.62L730.93,754.01L733.64,755.41L736.33,756.83L739.03,758.25L741.71,759.68L744.40,761.12L747.07,762.57L749.75,764.03L752.42,765.50L755.08,766.98L757.74,768.47L760.39,769.96L763.04,771.47L765.68,772.98L768.32,774.50L770.96,776.03L773.58,777.57L776.21,779.11L778.83,780.66L781.44,782.22L784.05,783.79L786.65,785.36L789.25,786.94L791.84,788.53L794.43,790.13L797.01,791.73L799.59,793.34L802.16,794.95L804.73,796.57L807.29,798.20L809.85,799.83L812.40,801.46L814.94,803.11L817.48,804.76L820.02,806.41L822.55,808.07L825.07,809.73L827.59,811.40L830.11,813.07L832.62,814.75L835.12,816.43L837.62,818.12L840.11,819.81L842.60,821.50L845.08,823.20L847.55,824.90L850.02,826.61L852.49,828.31L854.95,830.03L857.40,831.74L859.85,833.46L862.29,835.18L864.73,836.90L867.16,838.62L869.59,840.35L872.01,842.08L874.43,843.81L876.83,845.54L879.24,847.28L881.64,849.02L884.03,850.75L886.42,852.49L888.80,854.23L891.17,855.97L893.54,857.72L895.90,859.46L898.27,861.20" stroke-width="1.30"/>
<path d="M273.00,741.80L275.58,740.27L278.17,738.77L280.78,737.30L283.41,735.87L286.06,734.46L288.72,733.10L291.40,731.76L294.10,730.45L296.81,729.18L299.54,727.94L302.28,726.73L305.03,725.56L307.80,724.41L310.59,723.30L313.39,722.21L316.20,721.16L319.02,720.14L321.86,719.14L324.70,718.18L327.56,717.25L330.43,716.35L333.32,715.48L336.21,714.64L339.11,713.83L342.02,713.04L344.94,712.29L347.87,711.56L350.81,710.87L353.76,710.20L356.71,709.56L359.67,708.95L362.64,708.37L365.62,707.82L368.60,707.29L371.59,706.79L374.58,706.32L377.58,705.87L380.58,705.46L383.59,705.07L386.60,704.71L389.62,704.37L392.64,704.06L395.66,703.78L398.68,703.52L401.71,703.29L404.74,703.08L407.77,702.90L410.80,702.75L413.83,702.62L416.86,702.51L419.90,702.43L422.93,702.38L425.96,702.35L428.99,702.35L432.02,702.37L435.05,702.41L438.07,702.49L441.10,702.59L444.12,702.71L447.14,702.86L450.15,703.04L453.17,703.24L456.18,703.47L459.18,703.73L462.19,704.01L465.19,704.32L468.18,704.66L471.17,705.02L474.16,705.42L477.14,705.84L480.11,706.29L483.08,706.76L486.04,707.27L489.00,707.80L491.95,708.36L494.89,708.95L497.83,709.57L500.76,710.22L503.68,710.90L506.59,711.61L509.50,712.35L512.40,713.11L515.29,713.91L518.17,714.74L521.04,715.60L523.90,716.48L526.75,717.40L529.60,718.35L532.43,719.33L535.25,720.34L538.06,721.38L540.86,722.46L543.65,723.56L546.43,724.70L549.20,725.87L551.95,727.07L554.70,728.30L557.43,729.56L560.14,730.86L562.85,732.18L565.54,733.53L568.21,734.92L570.87,736.33L573.52,737.77L576.15,739.24L578.77,740.74L581.38,742.27L583.96,743.83L586.53,745.41L589.09,747.03L591.63,748.67L594.15,750.34L596.65,752.03L599.14,753.75L601.61,755.50L604.06,757.28L606.49,759.08L608.91,760.90L611.30,762.76L613.68,764.63L616.03,766.54L618.37,768.46L620.69,770.42L622.98,772.39L625.26,774.39L627.51,776.42L629.74,778.46L631.95,780.53L634.14,782.63L636.31,784.75L638.45,786.88L640.57,789.05L642.67,791.23L644.75,793.43L646.80,795.66L648.82,797.91L650.82,800.18L652.80,802.47L654.75,804.78L656.68,807.11L658.58,809.46L660.46,811.83L662.31,814.22L664.13,816.63L665.93,819.06L667.69,821.51L669.44,823.97L671.15,826.46L672.83,828.96L674.49,831.48L676.12,834.01L677.72,836.57L679.29,839.14L680.83,841.73L682.34,844.33L683.82,846.95L685.27,849.59L686.69,852.24L688.08,854.91L689.44,857.59L690.76,860.29L692.06,863.00L693.32,865.73L694.55,868.47L695.74,871.23L696.91,873.99L698.04,876.78L699.13,879.57L700.19,882.38" stroke-width="1.30"/>
<path d="M263.80,843.00L414.51,772.66" stroke-width="1.30"/>
<path d="M304.10,843.00L410.97,820.82" stroke-width="1.30"/>
<path d="M307.20,856.00L383.40,856.00" stroke-width="1.30"/>
<path d="M307.20,868.50C361.47,876.10 423.65,886.33 470.00,891.30C504.34,894.98 533.01,896.31 560.00,898.00C582.04,899.38 600.08,900.03 620.12,901.05" stroke-width="1.30"/>
<path d="M273.20,919.30C295.83,905.37 326.67,894.75 341.10,877.50C352.72,863.61 355.50,843.07 360.00,829.40C363.23,819.58 363.44,811.65 366.90,803.60C370.33,795.63 374.63,786.71 380.60,781.30C386.13,776.28 394.07,774.73 400.80,771.45" stroke-width="1.30"/>
<path d="M280.00,919.30C305.53,899.63 338.72,876.59 356.60,860.30C367.39,850.47 371.33,840.78 380.60,834.50C389.46,828.49 400.65,826.74 410.67,822.86" stroke-width="1.30"/>
<path d="M283.50,919.30L431.10,872.50" stroke-width="1.30"/>
<path d="M323.50,933.00C370.13,932.63 417.07,933.61 463.40,931.90C509.23,930.21 573.57,925.10 600.00,922.90C610.83,922.00 615.24,921.36 622.87,920.59" stroke-width="1.30"/>
<path d="M323.50,942.00C370.13,946.07 417.00,952.62 463.40,954.20C509.16,955.76 549.49,954.75 600.00,951.60C663.31,947.65 760.87,941.70 813.40,929.00C845.74,921.18 863.98,909.44 889.27,899.65" stroke-width="1.30"/>
<path d="M567.20,815.80L570.19,816.08L573.18,816.37L576.17,816.66L579.16,816.96L582.14,817.25L585.13,817.56L588.12,817.87L591.11,818.18L594.09,818.49L597.08,818.81L600.06,819.14L603.05,819.46L606.04,819.80L609.02,820.13L612.00,820.47L614.99,820.82L617.97,821.17L620.95,821.52L623.93,821.87L626.92,822.24L629.90,822.60L632.88,822.97L635.86,823.34L638.84,823.72L641.82,824.10L644.79,824.49L647.77,824.88L650.75,825.27L653.73,825.67L656.70,826.07L659.68,826.48L662.65,826.89L665.63,827.30L668.60,827.72L671.58,828.15L674.55,828.57L677.52,829.00L680.49,829.44L683.47,829.88L686.44,830.32L689.41,830.77L692.38,831.22L695.34,831.68L698.31,832.14L701.28,832.60L704.25,833.07L707.21,833.54L710.18,834.02L713.14,834.50L716.11,834.98L719.07,835.47L722.03,835.97L724.99,836.46L727.96,836.96L730.92,837.47L733.88,837.98L736.84,838.49L739.79,839.01L742.75,839.53L745.71,840.06L748.66,840.59L751.62,841.12L754.57,841.66L757.53,842.21L760.48,842.75L763.43,843.30L766.39,843.86L769.34,844.42L772.29,844.98L775.24,845.55L778.18,846.12L781.13,846.70L784.08,847.28L787.02,847.86L789.97,848.45L792.91,849.04L795.86,849.64L798.80,850.24L801.74,850.84L804.68,851.45L807.62,852.07L810.56,852.68L813.50,853.30L816.44,853.93L819.37,854.56L822.31,855.19L825.24,855.83L828.18,856.47L831.11,857.12L834.04,857.77L836.97,858.43L839.90,859.08L842.83,859.75L845.76,860.41L848.69,861.09L851.61,861.76L854.54,862.44L857.46,863.12L860.38,863.81L863.31,864.50" stroke-width="1.30"/>
<path d="M574.00,861.90L832.82,875.62" stroke-width="1.30"/>
<path d="M543.90,868.40L642.63,891.02" stroke-width="1.30"/>
<path d="M793.10,897.00L832.88,892.61" stroke-width="1.30"/>
<path d="M936.50,894.00L1083.91,1237.15" stroke-width="1.30"/>
<path d="M252.10,1121.60C266.23,1099.07 281.35,1078.36 294.50,1054.00C308.83,1027.44 323.76,997.16 334.00,967.80C344.00,939.13 352.47,903.16 355.60,880.00C357.60,865.20 356.86,859.34 356.60,843.10C356.10,811.52 347.35,739.76 348.40,703.70C349.07,680.75 350.20,667.72 355.00,647.50C360.97,622.31 370.14,585.02 385.00,565.00C396.89,548.98 419.72,539.10 430.00,531.30C435.39,527.21 438.18,525.01 442.27,521.86" stroke-width="1.30"/>
<path d="M283.80,1121.60L429.61,1074.93" stroke-width="1.30"/>
<path d="M300.60,1133.80C354.87,1131.20 418.37,1132.54 463.40,1126.00C496.11,1121.25 525.21,1114.74 546.90,1105.50C562.40,1098.90 576.24,1092.10 584.00,1082.00C590.70,1073.29 590.40,1062.50 593.80,1050.80C598.11,1035.96 604.22,1014.79 607.40,1000.00C609.82,988.76 609.82,985.37 612.30,970.00C620.53,919.04 648.99,748.91 665.00,640.00C680.64,533.62 693.32,429.32 707.48,323.98" stroke-width="1.30"/>
<path d="M300.60,1140.30L443.47,1154.89" stroke-width="1.30"/>
<path d="M276.60,1147.00L441.40,1199.02" stroke-width="1.30"/>
<path d="M303.50,1197.90L443.74,1165.23" stroke-width="1.30"/>
<path d="M317.90,1210.50L440.80,1210.50" stroke-width="1.30"/>
<path d="M252.10,1349.70C272.23,1324.13 291.30,1299.17 312.50,1273.00C335.24,1244.93 364.59,1203.47 384.40,1186.70C395.16,1177.60 402.94,1173.33 413.00,1170.00C422.68,1166.80 433.32,1167.75 443.48,1166.62" stroke-width="1.30"/>
<path d="M262.90,1349.70L451.80,1230.10" stroke-width="1.30"/>
<path d="M313.20,1366.50C375.47,1369.17 431.37,1373.89 500.00,1374.50C584.19,1375.25 697.10,1372.74 781.30,1367.50C850.20,1363.21 923.75,1357.90 968.80,1348.80C995.00,1343.50 1016.02,1336.12 1029.70,1330.00C1037.25,1326.62 1040.24,1324.94 1046.30,1320.00C1055.82,1312.23 1067.94,1296.52 1078.76,1284.79" stroke-width="1.30"/>
<path d="M308.10,1376.20L411.27,1397.85" stroke-width="1.30"/>
<path d="M305.30,1375.10C315.60,1381.10 328.10,1387.31 336.20,1393.10C342.05,1397.28 345.81,1400.61 350.30,1405.30C355.26,1410.48 360.20,1417.80 364.40,1423.10C367.79,1427.38 369.12,1431.54 373.60,1434.70C379.74,1439.03 388.22,1440.67 400.00,1443.70C422.48,1449.47 467.08,1458.85 500.00,1461.30C531.65,1463.66 563.68,1461.52 593.80,1458.90C622.09,1456.44 648.36,1450.77 675.64,1446.70" stroke-width="1.30"/>
<path d="M303.40,1375.10C314.33,1381.73 327.41,1388.06 336.20,1395.00C343.14,1400.48 348.71,1405.40 353.00,1412.00C357.36,1418.71 359.43,1427.55 362.00,1435.00C364.36,1441.85 365.67,1448.89 368.00,1455.00C370.07,1460.44 371.95,1465.19 375.00,1470.00C378.32,1475.22 382.14,1480.41 387.50,1485.00C394.05,1490.61 403.80,1496.20 412.50,1500.00C420.93,1503.69 430.04,1505.12 438.82,1507.68" stroke-width="1.30"/>
<path d="M303.40,1375.10C314.33,1381.73 327.46,1387.89 336.20,1395.00C343.21,1400.69 348.92,1406.22 353.00,1413.00C356.97,1419.59 359.09,1427.32 360.60,1435.00C362.17,1442.96 361.80,1451.28 362.00,1460.00C362.22,1469.54 360.53,1480.25 361.70,1490.00C362.85,1499.57 364.70,1509.70 368.80,1518.00C372.77,1526.03 378.87,1533.34 385.60,1539.20C392.41,1545.14 401.09,1549.84 409.50,1553.30C417.80,1556.72 426.96,1557.72 435.69,1559.93" stroke-width="1.30"/>
<path d="M255.00,1375.10C278.33,1405.07 311.54,1444.65 325.00,1465.00C331.40,1474.67 333.60,1479.16 337.50,1487.50C342.03,1497.20 347.09,1508.60 350.00,1520.00C353.03,1531.88 353.63,1545.34 355.00,1557.50C356.29,1568.97 357.13,1578.88 358.10,1591.00C359.25,1605.34 361.03,1622.33 361.30,1638.00C361.57,1653.66 357.31,1670.44 359.70,1685.00C361.91,1698.44 365.23,1711.69 373.80,1722.50C383.96,1735.31 403.05,1746.77 420.60,1753.80C439.23,1761.27 461.07,1764.32 483.10,1764.70C507.68,1765.12 541.05,1758.68 561.30,1753.80C574.67,1750.58 581.15,1747.19 593.80,1742.50C611.87,1735.80 637.33,1725.32 659.10,1716.73" stroke-width="1.30"/>
<path d="M554.40,1421.40L675.57,1434.15" stroke-width="1.30"/>
<path d="M986.80,1261.00L1051.60,1261.00" stroke-width="1.30"/>
<path d="M974.00,1299.40L1052.16,1275.65" stroke-width="1.30"/>
<path d="M1127.40,1261.00L1163.30,1261.00" stroke-width="1.30"/>
<path d="M305.30,1527.20L308.81,1528.08L312.16,1529.09L315.34,1530.25L318.37,1531.53L321.24,1532.93L323.97,1534.46L326.56,1536.10L329.02,1537.85L331.34,1539.71L333.55,1541.67L335.64,1543.72L337.63,1545.87L339.50,1548.10L341.28,1550.41L342.97,1552.80L344.57,1555.25L346.09,1557.78L347.54,1560.36L348.92,1563.00L350.23,1565.70L351.49,1568.44L352.70,1571.22L353.86,1574.04L354.98,1576.89L356.07,1579.76L357.13,1582.66L358.17,1585.58L359.19,1588.50L360.21,1591.44L361.22,1594.37L362.23,1597.31L363.25,1600.24L364.28,1603.15L365.33,1606.05L366.41,1608.92L367.52,1611.77L368.67,1614.59L369.86,1617.36L371.10,1620.10L372.39,1622.79L373.74,1625.43L375.16,1628.01L376.66,1630.53L378.23,1632.99L379.88,1635.37L381.63,1637.68L383.47,1639.90L385.41,1642.04L387.47,1644.09L389.63,1646.04L391.91,1647.89L394.32,1649.64L396.87,1651.28L399.54,1652.80L402.36,1654.20L405.33,1655.47L408.46,1656.62L411.75,1657.62L415.20,1658.49L418.82,1659.22" stroke-width="2.20"/>
<path d="M542.20,1602.90C606.27,1580.70 671.43,1562.08 734.40,1536.30C798.02,1510.25 871.35,1477.75 921.90,1447.20C959.87,1424.25 992.75,1397.52 1015.60,1376.90C1030.56,1363.39 1039.12,1354.17 1049.70,1340.00C1061.68,1323.96 1071.64,1303.12 1082.60,1284.69" stroke-width="1.30"/>
<path d="M539.80,1628.60C557.80,1633.77 575.60,1637.93 593.80,1644.10C613.01,1650.61 632.66,1659.36 652.09,1666.99" stroke-width="1.30"/>
<path d="M538.40,1672.20L621.17,1681.12" stroke-width="1.30"/>
<path d="M318.60,1867.80L419.69,1856.00" stroke-width="1.30"/>
</g><g fill="#191970" stroke="#191970" stroke-width="1.3">
<polygon points="166.7,108.1 158.5,119.0 153.5,111.5"/>
<polygon points="842.4,144.4 829.5,148.9 829.5,139.9"/>
<polygon points="680.0,285.7 666.4,286.4 668.9,277.7"/>
<polygon points="411.3,292.5 398.5,297.2 398.3,288.2"/>
<polygon points="190.4,402.2 179.4,410.3 176.7,401.7"/>
<polygon points="177.5,461.2 168.9,471.8 164.2,464.2"/>
<polygon points="430.0,486.3 416.6,489.2 417.8,480.2"/>
<polygon points="1094.0,1249.0 1088.7,1236.4 1097.7,1235.8"/>
<polygon points="214.0,768.1 206.6,779.6 201.1,772.5"/>
<polygon points="197.7,868.9 189.6,879.9 184.5,872.5"/>
<polygon points="226.6,944.7 221.6,957.4 214.8,951.5"/>
<polygon points="386.2,1047.6 373.3,1052.1 373.3,1043.1"/>
<polygon points="204.0,1147.7 195.5,1158.4 190.7,1150.8"/>
<polygon points="183.0,1223.4 174.4,1234.0 169.7,1226.4"/>
<polygon points="871.6,1255.9 858.4,1259.5 859.0,1250.5"/>
<polygon points="873.7,1308.6 860.7,1312.7 861.0,1303.7"/>
<polygon points="169.0,1362.5 156.1,1367.0 156.1,1358.0"/>
<polygon points="448.2,1563.1 434.6,1564.3 436.8,1555.6"/>
<polygon points="415.0,1606.0 401.4,1604.9 405.0,1596.7"/>
<polygon points="645.3,1712.0 633.3,1718.5 631.8,1709.6"/>
<polygon points="182.2,1502.0 168.7,1499.7 173.1,1491.8"/>
<polygon points="176.0,1603.6 162.5,1601.3 166.9,1593.4"/>
<polygon points="176.0,1658.9 162.3,1659.4 165.0,1650.8"/>
<polygon points="161.9,1704.2 148.4,1701.8 152.8,1694.0"/>
<polygon points="190.8,1764.4 177.2,1765.8 179.3,1757.0"/>
<polygon points="432.5,1846.6 419.5,1850.8 419.7,1841.8"/>
<polygon points="168.1,1856.6 155.5,1851.2 161.6,1844.6"/>
<polygon points="174.4,1929.2 161.1,1926.0 166.0,1918.4"/>
<polygon points="160.3,1973.8 147.1,1970.3 152.1,1962.9"/>
<polygon points="190.0,2034.7 176.4,2035.9 178.6,2027.2"/>
<polygon points="202.5,2087.0 188.9,2086.0 192.4,2077.8"/>
<polygon points="160.3,2126.0 148.9,2118.4 156.1,2113.0"/>
<polygon points="179.0,2184.0 165.6,2181.1 170.3,2173.5"/>
<polygon points="643.6,10.5 630.3,13.8 631.2,4.8"/>
<polygon points="412.5,57.5 400.6,64.2 399.0,55.4"/>
<polygon points="643.6,28.1 631.2,33.9 630.3,24.9"/>
<polygon points="843.9,133.0 830.6,136.0 831.6,127.0"/>
<polygon points="455.0,184.4 441.4,183.1 445.1,175.0"/>
<polygon points="691.2,285.7 677.9,282.7 682.6,275.1"/>
<polygon points="908.7,159.4 900.8,170.6 895.6,163.3"/>
<polygon points="441.2,310.9 430.2,319.0 427.5,310.3"/>
<polygon points="651.9,311.2 640.3,318.4 638.3,309.6"/>
<polygon points="1094.0,1249.0 1089.3,1236.2 1098.3,1236.0"/>
<polygon points="462.4,488.4 449.1,485.4 453.8,477.8"/>
<polygon points="693.1,311.2 684.9,322.1 679.9,314.6"/>
<polygon points="431.1,487.7 417.6,489.7 419.3,480.9"/>
<polygon points="459.8,607.8 448.6,615.7 446.2,607.0"/>
<polygon points="411.7,754.6 398.8,759.1 398.8,750.1"/>
<polygon points="423.6,792.1 410.1,793.9 411.9,785.1"/>
<polygon points="426.2,843.1 412.6,841.7 416.4,833.6"/>
<polygon points="909.1,868.2 895.8,865.0 900.7,857.4"/>
<polygon points="706.0,893.9 696.2,884.4 704.2,880.4"/>
<polygon points="426.2,767.2 416.4,776.7 412.6,768.6"/>
<polygon points="423.6,818.2 411.9,825.2 410.1,816.4"/>
<polygon points="396.3,856.0 383.4,860.5 383.4,851.5"/>
<polygon points="633.0,901.7 619.9,905.5 620.3,896.6"/>
<polygon points="412.4,765.8 402.8,775.5 398.8,767.4"/>
<polygon points="422.7,818.2 412.3,827.1 409.0,818.7"/>
<polygon points="443.4,868.6 432.5,876.8 429.7,868.2"/>
<polygon points="635.7,919.3 623.3,925.1 622.4,916.1"/>
<polygon points="901.3,895.0 890.9,903.9 887.6,895.5"/>
<polygon points="875.9,867.3 862.3,868.9 864.3,860.1"/>
<polygon points="845.7,876.3 832.6,880.1 833.1,871.1"/>
<polygon points="655.2,893.9 641.6,895.4 643.6,886.6"/>
<polygon points="845.7,891.2 833.4,897.1 832.4,888.1"/>
<polygon points="1089.0,1249.0 1079.8,1238.9 1088.0,1235.4"/>
<polygon points="452.5,514.0 445.0,525.4 439.5,518.3"/>
<polygon points="441.9,1071.0 431.0,1079.2 428.2,1070.6"/>
<polygon points="709.2,311.2 711.9,324.6 703.0,323.4"/>
<polygon points="456.3,1156.2 443.0,1159.4 443.9,1150.4"/>
<polygon points="453.7,1202.9 440.0,1203.3 442.8,1194.7"/>
<polygon points="456.3,1162.3 444.8,1169.6 442.7,1160.8"/>
<polygon points="453.7,1210.5 440.8,1215.0 440.8,1206.0"/>
<polygon points="456.3,1165.2 444.0,1171.1 443.0,1162.1"/>
<polygon points="462.7,1223.2 454.2,1233.9 449.4,1226.3"/>
<polygon points="1087.5,1275.3 1082.1,1287.8 1075.4,1281.7"/>
<polygon points="423.9,1400.5 410.4,1402.3 412.2,1393.4"/>
<polygon points="688.4,1444.8 676.3,1451.2 675.0,1442.3"/>
<polygon points="451.6,1509.4 438.2,1512.1 439.4,1503.2"/>
<polygon points="448.2,1563.1 434.6,1564.3 436.8,1555.6"/>
<polygon points="671.1,1712.0 660.8,1720.9 657.4,1712.5"/>
<polygon points="688.4,1435.5 675.1,1438.6 676.0,1429.7"/>
<polygon points="1064.5,1261.0 1051.6,1265.5 1051.6,1256.5"/>
<polygon points="1064.5,1271.9 1053.5,1280.0 1050.8,1271.3"/>
<polygon points="1176.2,1261.0 1163.3,1265.5 1163.3,1256.5"/>
<polygon points="431.5,1661.6 418.0,1663.6 419.7,1654.8"/>
<polygon points="1089.2,1273.6 1086.5,1287.0 1078.7,1282.4"/>
<polygon points="664.1,1671.7 650.4,1671.2 653.7,1662.8"/>
<polygon points="634.0,1682.5 620.7,1685.6 621.7,1676.6"/>
<polygon points="432.5,1854.5 420.2,1860.5 419.2,1851.5"/>
</g>
<g font-family="Liberation Sans, sans-serif" font-size="13.00" text-anchor="middle" fill="#000" stroke="#000" stroke-width="0.25">
<rect x="5.5" y="1349.7" width="89.8" height="25.5" fill="#bfbfbf" stroke="#000000" stroke-width="1.4"/>
<text x="50.4" y="1366.0" textLength="66.1" lengthAdjust="spacingAndGlyphs">iso_create</text>
<rect x="146.5" y="67.7" width="189.8" height="40.2" fill="#fff" stroke="#000000" stroke-width="1.4"/>
<text x="241.4" y="84.0" textLength="166.8" lengthAdjust="spacingAndGlyphs">TransitionProxy::AddLine2</text>
<text x="241.4" y="98.7" textLength="36.0" lengthAdjust="spacingAndGlyphs">Stack</text>
<rect x="190.4" y="387.2" width="101.9" height="25.4" fill="#fff" stroke="#ff0000" stroke-width="1.4"/>
<text x="241.4" y="403.4" textLength="78.1" lengthAdjust="spacingAndGlyphs">iso_cascade</text>
<rect x="178.5" y="437.9" width="125.2" height="25.4" fill="#fff" stroke="#ff0000" stroke-width="1.4"/>
<text x="241.1" y="454.2" textLength="103.0" lengthAdjust="spacingAndGlyphs">iso_setRedisFun</text>
<rect x="183.8" y="741.8" width="114.8" height="25.3" fill="#fff" stroke="#000000" stroke-width="1.4"/>
<text x="241.2" y="758.0" textLength="91.7" lengthAdjust="spacingAndGlyphs">HeCollidSetup</text>
<rect x="175.2" y="843.0" width="132.0" height="25.4" fill="#fff" stroke="#ff0000" stroke-width="1.4"/>
<text x="241.2" y="859.2" textLength="107.9" lengthAdjust="spacingAndGlyphs">iso_init_energies</text>
<rect x="159.0" y="919.3" width="164.5" height="25.2" fill="#fff" stroke="#ff0000" stroke-width="1.4"/>
<text x="241.2" y="935.4" textLength="141.1" lengthAdjust="spacingAndGlyphs">HelikeTransProbSetup</text>
<rect x="181.7" y="1121.6" width="118.9" height="25.3" fill="#fff" stroke="#ff0000" stroke-width="1.4"/>
<text x="241.2" y="1137.8" textLength="94.7" lengthAdjust="spacingAndGlyphs">iso_setOpacity</text>
<rect x="164.4" y="1197.9" width="153.5" height="25.2" fill="#fff" stroke="#ff0000" stroke-width="1.4"/>
<text x="241.1" y="1214.0" textLength="128.9" lengthAdjust="spacingAndGlyphs">iso_satellite_update</text>
<rect x="169.0" y="1349.7" width="144.2" height="25.4" fill="#fff" stroke="#000000" stroke-width="1.4"/>
<text x="241.1" y="1366.0" textLength="121.4" lengthAdjust="spacingAndGlyphs">FillExtraLymanLine</text>
<rect x="177.0" y="1501.9" width="128.3" height="25.3" fill="#fff" stroke="#ff0000" stroke-width="1.4"/>
<text x="241.2" y="1518.1" textLength="106.6" lengthAdjust="spacingAndGlyphs">hydro_transprob</text>
<rect x="145.8" y="1602.9" width="191.1" height="25.4" fill="#fff" stroke="#000000" stroke-width="1.4"/>
<text x="241.3" y="1619.1" textLength="166.6" lengthAdjust="spacingAndGlyphs">EmissionProxy::dampXvel</text>
<rect x="175.6" y="1653.6" width="130.8" height="25.3" fill="#fff" stroke="#ff0000" stroke-width="1.4"/>
<text x="241.0" y="1669.8" textLength="108.0" lengthAdjust="spacingAndGlyphs">helike_transprob</text>
<rect x="153.7" y="1704.4" width="174.6" height="25.4" fill="#fff" stroke="#ff0000" stroke-width="1.4"/>
<text x="241.0" y="1720.6" textLength="153.5" lengthAdjust="spacingAndGlyphs">t_mesh::isEnergyBound</text>
<rect x="191.4" y="1755.3" width="99.9" height="25.2" fill="#fff" stroke="#ff0000" stroke-width="1.4"/>
<text x="241.4" y="1771.5" textLength="76.2" lengthAdjust="spacingAndGlyphs">iso_allocate</text>
<rect x="163.7" y="1857.0" width="154.9" height="39.9" fill="#fff" stroke="#000000" stroke-width="1.4"/>
<text x="241.2" y="1873.2" textLength="131.7" lengthAdjust="spacingAndGlyphs">iso_assign_quantum</text>
<text x="241.2" y="1887.8" textLength="64.0" lengthAdjust="spacingAndGlyphs">_numbers</text>
<rect x="173.8" y="1923.2" width="134.7" height="25.2" fill="#fff" stroke="#ff0000" stroke-width="1.4"/>
<text x="241.2" y="1939.4" textLength="110.7" lengthAdjust="spacingAndGlyphs">iso_recomb_alloc</text>
<rect x="143.7" y="1973.8" width="194.8" height="25.2" fill="#fff" stroke="#ff0000" stroke-width="1.4"/>
<text x="241.1" y="1990.0" textLength="168.3" lengthAdjust="spacingAndGlyphs">iso_recomb_auxiliary_free</text>
<rect x="190.5" y="2024.7" width="101.7" height="25.2" fill="#fff" stroke="#000000" stroke-width="1.4"/>
<text x="241.3" y="2040.9" textLength="76.6" lengthAdjust="spacingAndGlyphs">iso_satellite</text>
<rect x="203.0" y="2075.0" width="76.2" height="25.2" fill="#fff" stroke="#000000" stroke-width="1.4"/>
<text x="241.1" y="2091.2" textLength="52.7" lengthAdjust="spacingAndGlyphs">iso_zero</text>
<rect x="153.8" y="2126.0" width="174.7" height="25.2" fill="#fff" stroke="#000000" stroke-width="1.4"/>
<text x="241.2" y="2142.2" textLength="152.1" lengthAdjust="spacingAndGlyphs">TransitionProxy::WLAng</text>
<rect x="179.7" y="2176.7" width="122.9" height="25.2" fill="#fff" stroke="#000000" stroke-width="1.4"/>
<text x="241.2" y="2192.9" textLength="99.9" lengthAdjust="spacingAndGlyphs">t_hydro_tbl::wn</text>
<rect x="409.5" y="32.3" width="151.0" height="25.6" fill="#fff" stroke="#ff0000" stroke-width="1.4"/>
<text x="485.0" y="48.6" textLength="127.6" lengthAdjust="spacingAndGlyphs">EmissionList::resize</text>
<rect x="387.2" y="184.4" width="195.5" height="25.5" fill="#fff" stroke="#ff0000" stroke-width="1.4"/>
<text x="485.0" y="200.7" textLength="170.5" lengthAdjust="spacingAndGlyphs">TransitionProxy::resetEmis</text>
<rect x="411.3" y="285.7" width="147.4" height="25.2" fill="#fff" stroke="#000000" stroke-width="1.4"/>
<text x="485.0" y="301.8" textLength="122.0" lengthAdjust="spacingAndGlyphs">EmissionProxy::Aul</text>
<rect x="426.8" y="488.4" width="116.4" height="25.6" fill="#fff" stroke="#000000" stroke-width="1.4"/>
<text x="485.0" y="504.8" textLength="93.6" lengthAdjust="spacingAndGlyphs">t_iso_sp::trans</text>
<rect x="459.8" y="589.5" width="50.7" height="25.8" fill="#fff" stroke="#ff0000" stroke-width="1.4"/>
<text x="485.1" y="605.9" textLength="28.6" lengthAdjust="spacingAndGlyphs">getL</text>
<rect x="411.7" y="741.8" width="146.9" height="25.3" fill="#fff" stroke="#ff0000" stroke-width="1.4"/>
<text x="485.1" y="758.0" textLength="125.1" lengthAdjust="spacingAndGlyphs">DataParser::getline</text>
<rect x="403.3" y="792.4" width="163.9" height="25.3" fill="#fff" stroke="#ff0000" stroke-width="1.4"/>
<text x="485.2" y="808.6" textLength="144.0" lengthAdjust="spacingAndGlyphs">DataParser::checkEOL</text>
<rect x="396.3" y="843.0" width="177.7" height="25.4" fill="#fff" stroke="#000000" stroke-width="1.4"/>
<text x="485.1" y="859.2" textLength="156.5" lengthAdjust="spacingAndGlyphs">DataParser::checkMagic</text>
<rect x="386.2" y="1045.8" width="198.0" height="25.2" fill="#fff" stroke="#000000" stroke-width="1.4"/>
<text x="485.2" y="1062.0" textLength="174.4" lengthAdjust="spacingAndGlyphs">TransitionProxy::EnergyWN</text>
<rect x="456.3" y="1147.0" width="57.8" height="25.5" fill="#fff" stroke="#000000" stroke-width="1.4"/>
<text x="485.2" y="1163.3" textLength="34.7" lengthAdjust="spacingAndGlyphs">abscf</text>
<rect x="453.7" y="1197.9" width="62.9" height="25.2" fill="#fff" stroke="#000000" stroke-width="1.4"/>
<text x="485.1" y="1214.0" textLength="40.7" lengthAdjust="spacingAndGlyphs">GetGF</text>
<rect x="415.6" y="1400.2" width="138.8" height="25.4" fill="#fff" stroke="#ff0000" stroke-width="1.4"/>
<text x="485.0" y="1416.5" textLength="113.4" lengthAdjust="spacingAndGlyphs">iso_state_lifetime</text>
<rect x="451.6" y="1501.9" width="66.8" height="25.3" fill="#fff" stroke="#ff0000" stroke-width="1.4"/>
<text x="485.0" y="1518.1" textLength="45.3" lengthAdjust="spacingAndGlyphs">energy</text>
<rect x="448.3" y="1552.4" width="73.4" height="25.4" fill="#fff" stroke="#ff0000" stroke-width="1.4"/>
<text x="485.0" y="1568.6" textLength="51.6" lengthAdjust="spacingAndGlyphs">wn2ang</text>
<rect x="414.9" y="1602.9" width="140.5" height="25.4" fill="#fff" stroke="#ff0000" stroke-width="1.4"/>
<text x="485.1" y="1619.1" textLength="116.8" lengthAdjust="spacingAndGlyphs">iso_recomb_setup</text>
<rect x="431.5" y="1653.6" width="107.1" height="25.3" fill="#fff" stroke="#ff0000" stroke-width="1.4"/>
<text x="485.1" y="1669.8" textLength="83.5" lengthAdjust="spacingAndGlyphs">H_Einstein_A</text>
<rect x="432.5" y="1835.1" width="105.7" height="25.2" fill="#fff" stroke="#ff0000" stroke-width="1.4"/>
<text x="485.4" y="1851.2" textLength="81.8" lengthAdjust="spacingAndGlyphs">TotalInsanity</text>
<rect x="643.6" y="6.8" width="139.1" height="26.2" fill="#fff" stroke="#000000" stroke-width="1.4"/>
<text x="713.2" y="23.4" textLength="114.5" lengthAdjust="spacingAndGlyphs">EmissionList::size</text>
<rect x="632.4" y="285.7" width="162.0" height="25.5" fill="#fff" stroke="#000000" stroke-width="1.4"/>
<text x="713.4" y="302.0" textLength="137.6" lengthAdjust="spacingAndGlyphs">TransitionProxy::Emis</text>
<rect x="633.0" y="893.9" width="160.1" height="25.4" fill="#fff" stroke="#ff0000" stroke-width="1.4"/>
<text x="713.0" y="910.1" textLength="138.6" lengthAdjust="spacingAndGlyphs">DataParser::getToken</text>
<rect x="688.4" y="1426.1" width="49.7" height="25.3" fill="#fff" stroke="#ff0000" stroke-width="1.4"/>
<text x="713.2" y="1442.3" textLength="26.8" lengthAdjust="spacingAndGlyphs">pow</text>
<rect x="634.0" y="1671.7" width="158.5" height="40.3" fill="#fff" stroke="#000000" stroke-width="1.4"/>
<text x="713.2" y="1688.0" textLength="135.5" lengthAdjust="spacingAndGlyphs">Singleton&lt; t_version</text>
<text x="713.2" y="1702.7" textLength="43.6" lengthAdjust="spacingAndGlyphs">&gt;::Inst</text>
<rect x="842.4" y="133.5" width="173.9" height="25.9" fill="#fff" stroke="#000000" stroke-width="1.4"/>
<text x="929.3" y="150.0" textLength="149.4" lengthAdjust="spacingAndGlyphs">TransitionProxy::ipEmis</text>
<rect x="845.7" y="868.2" width="167.0" height="25.8" fill="#fff" stroke="#ff0000" stroke-width="1.4"/>
<text x="929.2" y="884.6" textLength="147.3" lengthAdjust="spacingAndGlyphs">DataParser::errorAbort</text>
<rect x="871.6" y="1248.5" width="115.2" height="25.1" fill="#fff" stroke="#ff0000" stroke-width="1.4"/>
<text x="929.2" y="1264.6" textLength="90.3" lengthAdjust="spacingAndGlyphs">helike_energy</text>
<rect x="873.7" y="1299.4" width="111.0" height="24.7" fill="#fff" stroke="#ff0000" stroke-width="1.4"/>
<text x="929.2" y="1315.3" textLength="89.0" lengthAdjust="spacingAndGlyphs">hydro_energy</text>
<rect x="1064.5" y="1248.5" width="62.9" height="25.1" fill="#fff" stroke="#000000" stroke-width="1.4"/>
<text x="1096.0" y="1264.6" textLength="39.7" lengthAdjust="spacingAndGlyphs">fprintf</text>
<rect x="1176.2" y="1248.5" width="98.0" height="25.1" fill="#fff" stroke="#000000" stroke-width="1.4"/>
<text x="1225.2" y="1264.6" textLength="77.2" lengthAdjust="spacingAndGlyphs">Output::fptr</text>
</g></g></svg></body></html>
